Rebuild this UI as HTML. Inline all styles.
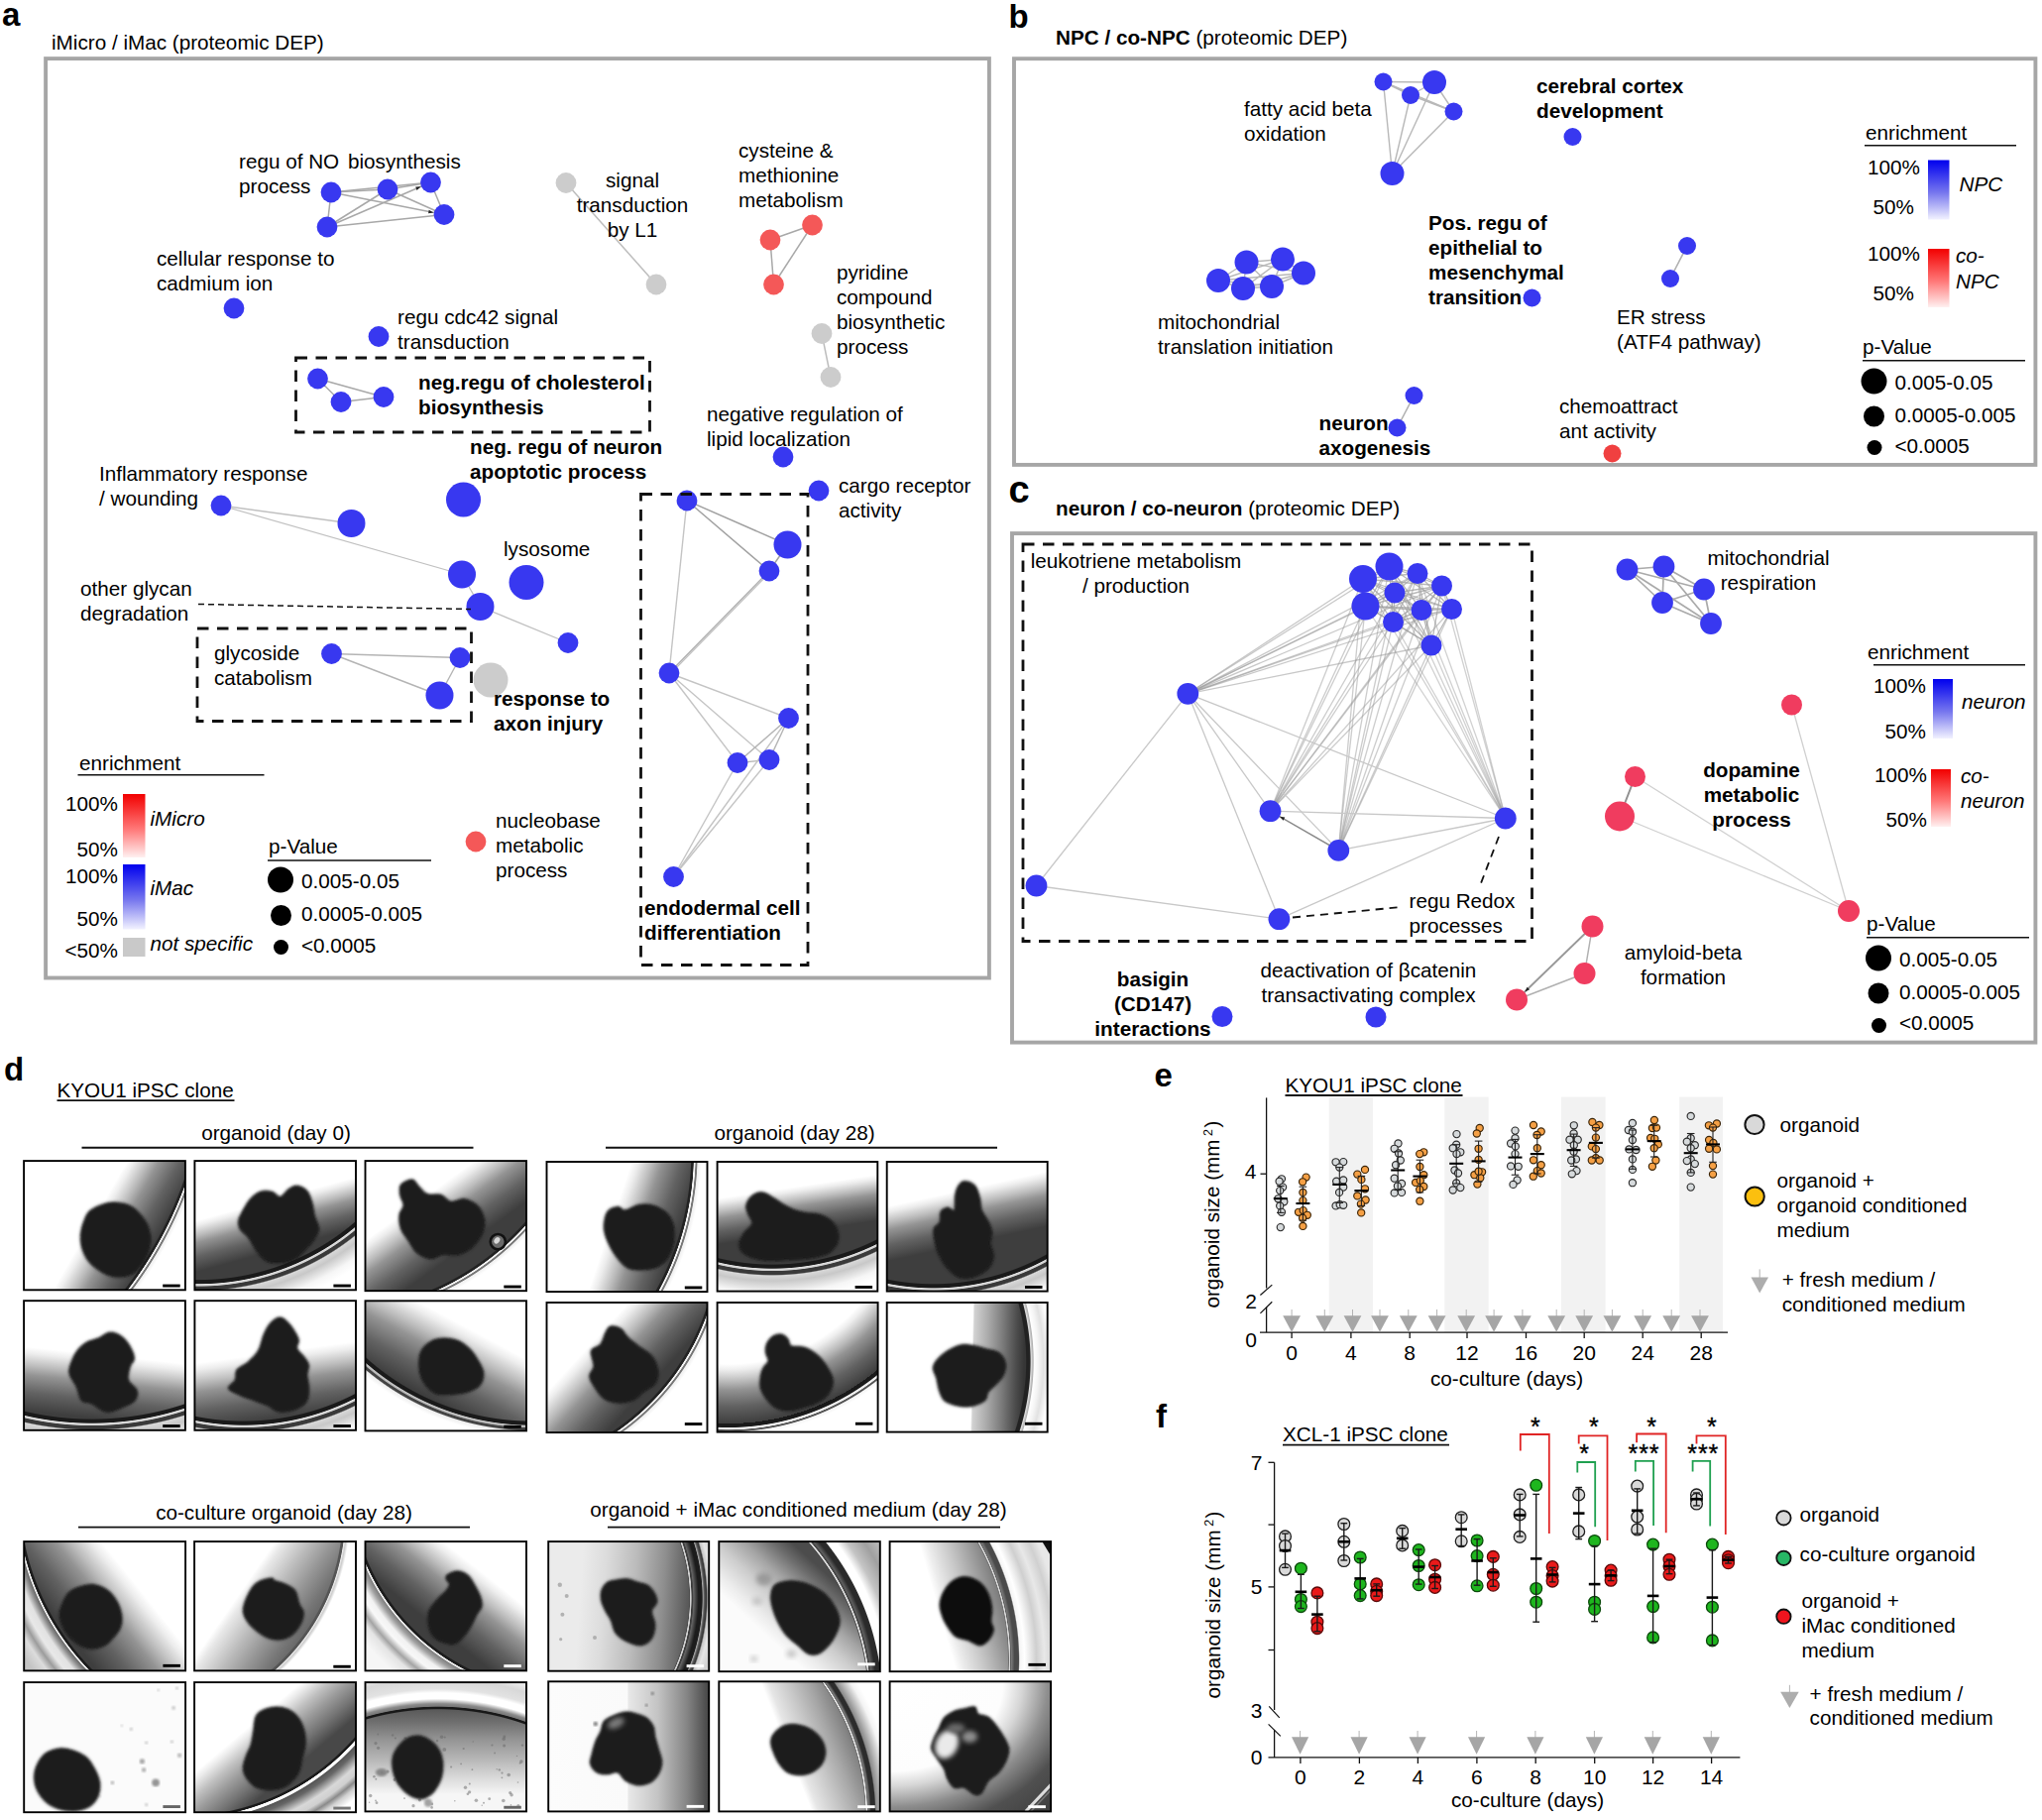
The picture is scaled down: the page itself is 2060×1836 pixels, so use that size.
<!DOCTYPE html>
<html><head><meta charset="utf-8"><title>Figure</title>
<style>
html,body{margin:0;padding:0;background:#fff;}
body{width:2060px;height:1836px;overflow:hidden;}
svg{display:block;font-family:"Liberation Sans",Arial,Helvetica,sans-serif;font-size:20.7px;fill:#000;}
</style></head><body>
<svg width="2060" height="1836" viewBox="0 0 2060 1836">
<defs>
<linearGradient id="gRed" x1="0" y1="0" x2="0" y2="1"><stop offset="0" stop-color="#f20000"/><stop offset="0.55" stop-color="#f77"/><stop offset="1" stop-color="#fff0f0"/></linearGradient>
<linearGradient id="gBlue" x1="0" y1="0" x2="0" y2="1"><stop offset="0" stop-color="#0000ee"/><stop offset="0.55" stop-color="#7777ee"/><stop offset="1" stop-color="#f2f2ff"/></linearGradient>
<filter id="bl" x="-10%" y="-10%" width="120%" height="120%"><feGaussianBlur stdDeviation="0.9"/></filter>
<filter id="bl15" x="-20%" y="-20%" width="140%" height="140%"><feGaussianBlur stdDeviation="1.7"/></filter>
<filter id="bl2" x="-30%" y="-30%" width="160%" height="160%"><feGaussianBlur stdDeviation="2.5"/></filter>
<filter id="bl3" x="-30%" y="-30%" width="160%" height="160%"><feGaussianBlur stdDeviation="5"/></filter>
<clipPath id="c1"><rect x="24.1" y="1171.1" width="162.8" height="130.2"/></clipPath>
<linearGradient id="s1" gradientUnits="userSpaceOnUse" x1="90.8" y1="1236.3" x2="147.7" y2="1269.1"><stop offset="0.000" stop-color="#ffffff"/><stop offset="0.100" stop-color="#ededed"/><stop offset="0.290" stop-color="#bcbcbc"/><stop offset="0.430" stop-color="#949494"/><stop offset="0.710" stop-color="#626262"/><stop offset="1.000" stop-color="#3e3e3e"/></linearGradient>
<radialGradient id="r1" gradientUnits="userSpaceOnUse" cx="-191.1" cy="1057.6" r="411.0"><stop offset="0.97080" stop-color="#222" stop-opacity="0"/><stop offset="0.97324" stop-color="#222"/><stop offset="0.97762" stop-color="#222"/><stop offset="0.97908" stop-color="#f4f4f4"/><stop offset="0.98200" stop-color="#f4f4f4"/><stop offset="0.98346" stop-color="#777"/><stop offset="0.98637" stop-color="#777"/><stop offset="0.98832" stop-color="#f0f0f0"/><stop offset="0.99757" stop-color="#fff"/></radialGradient>
<clipPath id="c2"><rect x="196.4" y="1171.1" width="162.6" height="130.2"/></clipPath>
<linearGradient id="s2" gradientUnits="userSpaceOnUse" x1="276.9" y1="1209.8" x2="290.1" y2="1258.0"><stop offset="0.000" stop-color="#ffffff"/><stop offset="0.100" stop-color="#ededed"/><stop offset="0.290" stop-color="#bcbcbc"/><stop offset="0.430" stop-color="#949494"/><stop offset="0.710" stop-color="#626262"/><stop offset="1.000" stop-color="#3e3e3e"/></linearGradient>
<radialGradient id="r2" gradientUnits="userSpaceOnUse" cx="200.7" cy="1049.9" r="278.7"><stop offset="0.86363" stop-color="#1a1a1a" stop-opacity="0"/><stop offset="0.86722" stop-color="#1a1a1a"/><stop offset="0.87870" stop-color="#1a1a1a"/><stop offset="0.88157" stop-color="#e0e0e0"/><stop offset="0.88731" stop-color="#d0d0d0"/><stop offset="0.89019" stop-color="#3a3a3a"/><stop offset="0.90167" stop-color="#3a3a3a"/><stop offset="0.90598" stop-color="#d8d8d8"/><stop offset="0.92464" stop-color="#c8c8c8"/><stop offset="0.96770" stop-color="#f6f6f6"/><stop offset="0.99641" stop-color="#fff"/></radialGradient>
<clipPath id="c3"><rect x="368.5" y="1171.1" width="162.5" height="131.1"/></clipPath>
<linearGradient id="s3" gradientUnits="userSpaceOnUse" x1="423.0" y1="1211.8" x2="460.8" y2="1263.5"><stop offset="0.000" stop-color="#ffffff"/><stop offset="0.100" stop-color="#ededed"/><stop offset="0.290" stop-color="#bcbcbc"/><stop offset="0.430" stop-color="#949494"/><stop offset="0.710" stop-color="#626262"/><stop offset="1.000" stop-color="#3e3e3e"/></linearGradient>
<radialGradient id="r3" gradientUnits="userSpaceOnUse" cx="331.3" cy="1057.8" r="276.1"><stop offset="0.95653" stop-color="#222" stop-opacity="0"/><stop offset="0.96016" stop-color="#222"/><stop offset="0.96668" stop-color="#222"/><stop offset="0.96885" stop-color="#f4f4f4"/><stop offset="0.97320" stop-color="#f4f4f4"/><stop offset="0.97537" stop-color="#777"/><stop offset="0.97972" stop-color="#777"/><stop offset="0.98261" stop-color="#f0f0f0"/><stop offset="0.99638" stop-color="#fff"/></radialGradient>
<clipPath id="c4"><rect x="551.5" y="1172.0" width="162.0" height="131.1"/></clipPath>
<linearGradient id="s4" gradientUnits="userSpaceOnUse" x1="615.4" y1="1237.1" x2="679.7" y2="1258.6"><stop offset="0.000" stop-color="#ffffff"/><stop offset="0.100" stop-color="#ededed"/><stop offset="0.290" stop-color="#bcbcbc"/><stop offset="0.430" stop-color="#949494"/><stop offset="0.710" stop-color="#626262"/><stop offset="1.000" stop-color="#3e3e3e"/></linearGradient>
<radialGradient id="r4" gradientUnits="userSpaceOnUse" cx="410.3" cy="1163.4" r="298.5"><stop offset="0.95980" stop-color="#222" stop-opacity="0"/><stop offset="0.96315" stop-color="#222"/><stop offset="0.96918" stop-color="#222"/><stop offset="0.97119" stop-color="#f4f4f4"/><stop offset="0.97521" stop-color="#f4f4f4"/><stop offset="0.97722" stop-color="#777"/><stop offset="0.98124" stop-color="#777"/><stop offset="0.98392" stop-color="#f0f0f0"/><stop offset="0.99665" stop-color="#fff"/></radialGradient>
<clipPath id="c5"><rect x="723.6" y="1172.0" width="161.7" height="130.6"/></clipPath>
<linearGradient id="s5" gradientUnits="userSpaceOnUse" x1="804.4" y1="1196.9" x2="811.2" y2="1242.4"><stop offset="0.000" stop-color="#ffffff"/><stop offset="0.100" stop-color="#ededed"/><stop offset="0.290" stop-color="#bcbcbc"/><stop offset="0.430" stop-color="#949494"/><stop offset="0.710" stop-color="#626262"/><stop offset="1.000" stop-color="#3e3e3e"/></linearGradient>
<radialGradient id="r5" gradientUnits="userSpaceOnUse" cx="779.0" cy="1042.1" r="271.0"><stop offset="0.85979" stop-color="#1a1a1a" stop-opacity="0"/><stop offset="0.86348" stop-color="#1a1a1a"/><stop offset="0.87529" stop-color="#1a1a1a"/><stop offset="0.87824" stop-color="#e0e0e0"/><stop offset="0.88415" stop-color="#d0d0d0"/><stop offset="0.88710" stop-color="#3a3a3a"/><stop offset="0.89890" stop-color="#3a3a3a"/><stop offset="0.90333" stop-color="#d8d8d8"/><stop offset="0.92252" stop-color="#c8c8c8"/><stop offset="0.96679" stop-color="#f6f6f6"/><stop offset="0.99631" stop-color="#fff"/></radialGradient>
<clipPath id="c6"><rect x="894.7" y="1172.0" width="162.0" height="130.6"/></clipPath>
<linearGradient id="s6" gradientUnits="userSpaceOnUse" x1="975.7" y1="1199.4" x2="987.3" y2="1252.2"><stop offset="0.000" stop-color="#ffffff"/><stop offset="0.100" stop-color="#ededed"/><stop offset="0.290" stop-color="#bcbcbc"/><stop offset="0.430" stop-color="#949494"/><stop offset="0.710" stop-color="#626262"/><stop offset="1.000" stop-color="#3e3e3e"/></linearGradient>
<radialGradient id="r6" gradientUnits="userSpaceOnUse" cx="941.7" cy="1062.3" r="270.5"><stop offset="0.85950" stop-color="#1a1a1a" stop-opacity="0"/><stop offset="0.86320" stop-color="#1a1a1a"/><stop offset="0.87503" stop-color="#1a1a1a"/><stop offset="0.87799" stop-color="#e0e0e0"/><stop offset="0.88391" stop-color="#d0d0d0"/><stop offset="0.88686" stop-color="#3a3a3a"/><stop offset="0.89869" stop-color="#3a3a3a"/><stop offset="0.90313" stop-color="#d8d8d8"/><stop offset="0.92236" stop-color="#c8c8c8"/><stop offset="0.96672" stop-color="#f6f6f6"/><stop offset="0.99630" stop-color="#fff"/></radialGradient>
<clipPath id="c7"><rect x="24.1" y="1312.2" width="162.8" height="130.6"/></clipPath>
<linearGradient id="s7" gradientUnits="userSpaceOnUse" x1="104.7" y1="1367.0" x2="97.9" y2="1431.1"><stop offset="0.000" stop-color="#ffffff"/><stop offset="0.100" stop-color="#ededed"/><stop offset="0.290" stop-color="#bcbcbc"/><stop offset="0.430" stop-color="#949494"/><stop offset="0.710" stop-color="#626262"/><stop offset="1.000" stop-color="#3e3e3e"/></linearGradient>
<radialGradient id="r7" gradientUnits="userSpaceOnUse" cx="92.6" cy="1136.1" r="333.0"><stop offset="0.88588" stop-color="#1a1a1a" stop-opacity="0"/><stop offset="0.88888" stop-color="#1a1a1a"/><stop offset="0.89849" stop-color="#1a1a1a"/><stop offset="0.90090" stop-color="#e0e0e0"/><stop offset="0.90570" stop-color="#d0d0d0"/><stop offset="0.90810" stop-color="#3a3a3a"/><stop offset="0.91771" stop-color="#3a3a3a"/><stop offset="0.92132" stop-color="#d8d8d8"/><stop offset="0.93693" stop-color="#c8c8c8"/><stop offset="0.97297" stop-color="#f6f6f6"/><stop offset="0.99700" stop-color="#fff"/></radialGradient>
<clipPath id="c8"><rect x="196.4" y="1312.2" width="162.6" height="130.6"/></clipPath>
<linearGradient id="s8" gradientUnits="userSpaceOnUse" x1="276.9" y1="1364.4" x2="286.0" y2="1430.8"><stop offset="0.000" stop-color="#ffffff"/><stop offset="0.100" stop-color="#ededed"/><stop offset="0.290" stop-color="#bcbcbc"/><stop offset="0.430" stop-color="#949494"/><stop offset="0.710" stop-color="#626262"/><stop offset="1.000" stop-color="#3e3e3e"/></linearGradient>
<radialGradient id="r8" gradientUnits="userSpaceOnUse" cx="245.5" cy="1189.1" r="282.0"><stop offset="0.86527" stop-color="#1a1a1a" stop-opacity="0"/><stop offset="0.86882" stop-color="#1a1a1a"/><stop offset="0.88016" stop-color="#1a1a1a"/><stop offset="0.88300" stop-color="#e0e0e0"/><stop offset="0.88867" stop-color="#d0d0d0"/><stop offset="0.89151" stop-color="#3a3a3a"/><stop offset="0.90285" stop-color="#3a3a3a"/><stop offset="0.90711" stop-color="#d8d8d8"/><stop offset="0.92554" stop-color="#c8c8c8"/><stop offset="0.96809" stop-color="#f6f6f6"/><stop offset="0.99645" stop-color="#fff"/></radialGradient>
<clipPath id="c9"><rect x="368.5" y="1312.3" width="162.5" height="131.1"/></clipPath>
<linearGradient id="s9" gradientUnits="userSpaceOnUse" x1="477.0" y1="1342.3" x2="439.2" y2="1412.8"><stop offset="0.000" stop-color="#ffffff"/><stop offset="0.100" stop-color="#ededed"/><stop offset="0.290" stop-color="#bcbcbc"/><stop offset="0.430" stop-color="#949494"/><stop offset="0.710" stop-color="#626262"/><stop offset="1.000" stop-color="#3e3e3e"/></linearGradient>
<radialGradient id="r9" gradientUnits="userSpaceOnUse" cx="536.1" cy="1184.0" r="265.1"><stop offset="0.93965" stop-color="#1a1a1a" stop-opacity="0"/><stop offset="0.94342" stop-color="#1a1a1a"/><stop offset="0.95549" stop-color="#1a1a1a"/><stop offset="0.95851" stop-color="#c8c8c8"/><stop offset="0.96454" stop-color="#b0b0b0"/><stop offset="0.96756" stop-color="#444"/><stop offset="0.97510" stop-color="#444"/><stop offset="0.97888" stop-color="#eee"/><stop offset="0.99623" stop-color="#fff"/></radialGradient>
<clipPath id="c10"><rect x="551.5" y="1314.0" width="162.0" height="131.1"/></clipPath>
<linearGradient id="s10" gradientUnits="userSpaceOnUse" x1="592.7" y1="1359.4" x2="645.8" y2="1408.0"><stop offset="0.000" stop-color="#ffffff"/><stop offset="0.100" stop-color="#ededed"/><stop offset="0.290" stop-color="#bcbcbc"/><stop offset="0.430" stop-color="#949494"/><stop offset="0.710" stop-color="#626262"/><stop offset="1.000" stop-color="#3e3e3e"/></linearGradient>
<radialGradient id="r10" gradientUnits="userSpaceOnUse" cx="483.6" cy="1243.4" r="252.9"><stop offset="0.95255" stop-color="#222" stop-opacity="0"/><stop offset="0.95651" stop-color="#222"/><stop offset="0.96362" stop-color="#222"/><stop offset="0.96600" stop-color="#f4f4f4"/><stop offset="0.97074" stop-color="#f4f4f4"/><stop offset="0.97311" stop-color="#777"/><stop offset="0.97786" stop-color="#777"/><stop offset="0.98102" stop-color="#f0f0f0"/><stop offset="0.99605" stop-color="#fff"/></radialGradient>
<clipPath id="c11"><rect x="723.6" y="1314.0" width="162.0" height="130.6"/></clipPath>
<radialGradient id="r11" gradientUnits="userSpaceOnUse" cx="735.0" cy="1200.8" r="248.2"><stop offset="0.70584" stop-color="#ffffff"/><stop offset="0.73002" stop-color="#ededed"/><stop offset="0.77595" stop-color="#bcbcbc"/><stop offset="0.80980" stop-color="#949494"/><stop offset="0.87750" stop-color="#626262"/><stop offset="0.94762" stop-color="#3e3e3e"/><stop offset="0.94762" stop-color="#1a1a1a"/><stop offset="0.96212" stop-color="#1a1a1a"/><stop offset="0.96535" stop-color="#f0f0f0"/><stop offset="0.97179" stop-color="#f0f0f0"/><stop offset="0.97421" stop-color="#555"/><stop offset="0.97905" stop-color="#555"/><stop offset="0.98227" stop-color="#f4f4f4"/><stop offset="0.99597" stop-color="#fff"/></radialGradient>
<clipPath id="c12"><rect x="894.7" y="1314.0" width="162.0" height="130.6"/></clipPath>
<linearGradient id="s12" gradientUnits="userSpaceOnUse" x1="980.4" y1="1379.1" x2="1033.0" y2="1380.2"><stop offset="0.000" stop-color="#ffffff"/><stop offset="0.030" stop-color="#d2d2d2"/><stop offset="0.300" stop-color="#aaaaaa"/><stop offset="0.600" stop-color="#787878"/><stop offset="0.850" stop-color="#4c4c4c"/><stop offset="1.000" stop-color="#363636"/></linearGradient>
<radialGradient id="r12" gradientUnits="userSpaceOnUse" cx="810.5" cy="1373.4" r="250.2"><stop offset="0.89610" stop-color="#222" stop-opacity="0"/><stop offset="0.90009" stop-color="#222"/><stop offset="0.91368" stop-color="#222"/><stop offset="0.91768" stop-color="#e0e0e0"/><stop offset="0.92607" stop-color="#b0b0b0"/><stop offset="0.93006" stop-color="#fff"/><stop offset="0.94805" stop-color="#f4f4f4"/><stop offset="0.96803" stop-color="#e2e2e2"/><stop offset="0.99600" stop-color="#fff"/></radialGradient>
<clipPath id="c13"><rect x="24.2" y="1555.1" width="162.9" height="130.3"/></clipPath>
<linearGradient id="s13" gradientUnits="userSpaceOnUse" x1="144.9" y1="1608.3" x2="78.9" y2="1661.2"><stop offset="0.000" stop-color="#ffffff"/><stop offset="0.100" stop-color="#ededed"/><stop offset="0.290" stop-color="#bcbcbc"/><stop offset="0.430" stop-color="#949494"/><stop offset="0.710" stop-color="#626262"/><stop offset="1.000" stop-color="#3e3e3e"/></linearGradient>
<radialGradient id="r13" gradientUnits="userSpaceOnUse" cx="274.0" cy="1505.3" r="300.9"><stop offset="0.84378" stop-color="#1c1c1c" stop-opacity="0"/><stop offset="0.84711" stop-color="#1c1c1c"/><stop offset="0.85309" stop-color="#1c1c1c"/><stop offset="0.85508" stop-color="#f0f0f0"/><stop offset="0.85841" stop-color="#f0f0f0"/><stop offset="0.86107" stop-color="#6a6a6a"/><stop offset="0.87037" stop-color="#8a8a8a"/><stop offset="0.89032" stop-color="#e2e2e2"/><stop offset="0.91358" stop-color="#e8e8e8"/><stop offset="0.93685" stop-color="#9c9c9c"/><stop offset="0.96011" stop-color="#dcdcdc"/><stop offset="0.99668" stop-color="#c4c4c4"/></radialGradient>
<clipPath id="c14"><rect x="196.1" y="1555.1" width="162.9" height="130.3"/></clipPath>
<linearGradient id="s14" gradientUnits="userSpaceOnUse" x1="237.7" y1="1613.0" x2="299.9" y2="1656.0"><stop offset="0.000" stop-color="#ffffff"/><stop offset="0.100" stop-color="#e8e8e8"/><stop offset="0.380" stop-color="#bcbcbc"/><stop offset="0.640" stop-color="#969696"/><stop offset="0.880" stop-color="#767676"/><stop offset="1.000" stop-color="#6a6a6a"/></linearGradient>
<radialGradient id="r14" gradientUnits="userSpaceOnUse" cx="137.8" cy="1527.2" r="216.4"><stop offset="0.95841" stop-color="#555" stop-opacity="0"/><stop offset="0.96303" stop-color="#555"/><stop offset="0.97135" stop-color="#555"/><stop offset="0.97504" stop-color="#eee"/><stop offset="0.98244" stop-color="#ccc"/><stop offset="0.99538" stop-color="#fff"/></radialGradient>
<clipPath id="c15"><rect x="368.5" y="1555.1" width="162.5" height="130.3"/></clipPath>
<linearGradient id="s15" gradientUnits="userSpaceOnUse" x1="489.8" y1="1589.0" x2="445.1" y2="1645.4"><stop offset="0.000" stop-color="#ffffff"/><stop offset="0.100" stop-color="#ededed"/><stop offset="0.290" stop-color="#bcbcbc"/><stop offset="0.430" stop-color="#949494"/><stop offset="0.710" stop-color="#626262"/><stop offset="1.000" stop-color="#3e3e3e"/></linearGradient>
<radialGradient id="r15" gradientUnits="userSpaceOnUse" cx="568.7" cy="1490.9" r="261.5"><stop offset="0.82029" stop-color="#1c1c1c" stop-opacity="0"/><stop offset="0.82411" stop-color="#1c1c1c"/><stop offset="0.83100" stop-color="#1c1c1c"/><stop offset="0.83329" stop-color="#f0f0f0"/><stop offset="0.83711" stop-color="#f0f0f0"/><stop offset="0.84017" stop-color="#808080"/><stop offset="0.85470" stop-color="#a0a0a0"/><stop offset="0.87764" stop-color="#f2f2f2"/><stop offset="0.90059" stop-color="#f8f8f8"/><stop offset="0.92735" stop-color="#a4a4a4"/><stop offset="0.95029" stop-color="#e4e4e4"/><stop offset="0.99618" stop-color="#f6f6f6"/></radialGradient>
<clipPath id="c16"><rect x="553.2" y="1555.1" width="162.0" height="130.6"/></clipPath>
<linearGradient id="s16" gradientUnits="userSpaceOnUse" x1="584.5" y1="1620.7" x2="703.9" y2="1628.6"><stop offset="0.000" stop-color="#ebebeb"/><stop offset="0.200" stop-color="#dcdcdc"/><stop offset="0.450" stop-color="#bcbcbc"/><stop offset="0.700" stop-color="#8e8e8e"/><stop offset="0.900" stop-color="#5c5c5c"/><stop offset="1.000" stop-color="#484848"/></linearGradient>
<radialGradient id="r16" gradientUnits="userSpaceOnUse" cx="523.5" cy="1612.3" r="210.2"><stop offset="0.81442" stop-color="#484848" stop-opacity="0"/><stop offset="0.81918" stop-color="#484848"/><stop offset="0.82204" stop-color="#d0d0d0"/><stop offset="0.82680" stop-color="#d0d0d0"/><stop offset="0.82965" stop-color="#3a3a3a"/><stop offset="0.83536" stop-color="#444"/><stop offset="0.83822" stop-color="#666"/><stop offset="0.86201" stop-color="#1c1c1c"/><stop offset="0.87914" stop-color="#1c1c1c"/><stop offset="0.88294" stop-color="#aaa"/><stop offset="0.89056" stop-color="#555"/><stop offset="0.90007" stop-color="#333"/><stop offset="0.90674" stop-color="#c8c8c8"/><stop offset="0.92387" stop-color="#e6e6e6"/><stop offset="0.95717" stop-color="#cfcfcf"/><stop offset="0.99524" stop-color="#e0e0e0"/></radialGradient>
<clipPath id="c17"><rect x="725.3" y="1555.1" width="162.5" height="131.1"/></clipPath>
<linearGradient id="s17" gradientUnits="userSpaceOnUse" x1="769.1" y1="1646.0" x2="827.7" y2="1582.3"><stop offset="0.000" stop-color="#fbfbfb"/><stop offset="0.150" stop-color="#ececec"/><stop offset="0.400" stop-color="#cccccc"/><stop offset="0.620" stop-color="#a4a4a4"/><stop offset="0.850" stop-color="#6c6c6c"/><stop offset="1.000" stop-color="#4c4c4c"/></linearGradient>
<radialGradient id="r17" gradientUnits="userSpaceOnUse" cx="633.2" cy="1717.1" r="312.8"><stop offset="0.77459" stop-color="#484848" stop-opacity="0"/><stop offset="0.77779" stop-color="#484848"/><stop offset="0.78003" stop-color="#dedede"/><stop offset="0.78323" stop-color="#dedede"/><stop offset="0.78514" stop-color="#444"/><stop offset="0.78898" stop-color="#4a4a4a"/><stop offset="0.79090" stop-color="#606060"/><stop offset="0.80497" stop-color="#2a2a2a"/><stop offset="0.81968" stop-color="#2a2a2a"/><stop offset="0.82287" stop-color="#fff"/><stop offset="0.84653" stop-color="#fff"/><stop offset="0.87531" stop-color="#c4c4c4"/><stop offset="0.92007" stop-color="#a0a0a0"/><stop offset="0.99680" stop-color="#d4d4d4"/></radialGradient>
<clipPath id="c18"><rect x="897.6" y="1555.1" width="162.5" height="131.1"/></clipPath>
<linearGradient id="s18" gradientUnits="userSpaceOnUse" x1="945.7" y1="1620.7" x2="1011.9" y2="1601.4"><stop offset="0.000" stop-color="#ffffff"/><stop offset="0.120" stop-color="#ececec"/><stop offset="0.400" stop-color="#c8c8c8"/><stop offset="0.650" stop-color="#a4a4a4"/><stop offset="0.880" stop-color="#828282"/><stop offset="1.000" stop-color="#707070"/></linearGradient>
<radialGradient id="r18" gradientUnits="userSpaceOnUse" cx="776.9" cy="1674.5" r="295.6"><stop offset="0.81057" stop-color="#707070" stop-opacity="0"/><stop offset="0.81395" stop-color="#707070"/><stop offset="0.81598" stop-color="#d8d8d8"/><stop offset="0.81868" stop-color="#d8d8d8"/><stop offset="0.82071" stop-color="#5a5a5a"/><stop offset="0.82410" stop-color="#777"/><stop offset="0.83425" stop-color="#4a4a4a"/><stop offset="0.84778" stop-color="#4a4a4a"/><stop offset="0.85184" stop-color="#f4f4f4"/><stop offset="0.86807" stop-color="#fff"/><stop offset="0.88499" stop-color="#ececec"/><stop offset="0.90867" stop-color="#cfcfcf"/><stop offset="0.93573" stop-color="#e8e8e8"/><stop offset="0.96956" stop-color="#d0d0d0"/><stop offset="0.99662" stop-color="#e8e8e8"/></radialGradient>
<clipPath id="c19"><rect x="24.2" y="1697.1" width="162.9" height="131.1"/></clipPath>
<clipPath id="c20"><rect x="196.1" y="1697.1" width="162.9" height="131.1"/></clipPath>
<linearGradient id="s20" gradientUnits="userSpaceOnUse" x1="249.7" y1="1743.0" x2="289.7" y2="1790.3"><stop offset="0.000" stop-color="#ffffff"/><stop offset="0.100" stop-color="#ececec"/><stop offset="0.300" stop-color="#c0c0c0"/><stop offset="0.500" stop-color="#9c9c9c"/><stop offset="0.750" stop-color="#747474"/><stop offset="1.000" stop-color="#484848"/></linearGradient>
<radialGradient id="r20" gradientUnits="userSpaceOnUse" cx="183.1" cy="1600.3" r="277.3"><stop offset="0.83414" stop-color="#1a1a1a" stop-opacity="0"/><stop offset="0.83774" stop-color="#1a1a1a"/><stop offset="0.84351" stop-color="#1a1a1a"/><stop offset="0.84567" stop-color="#fff"/><stop offset="0.85433" stop-color="#fff"/><stop offset="0.85721" stop-color="#555"/><stop offset="0.87380" stop-color="#666"/><stop offset="0.90986" stop-color="#d8d8d8"/><stop offset="0.93149" stop-color="#d0d0d0"/><stop offset="0.94952" stop-color="#8a8a8a"/><stop offset="0.96755" stop-color="#d0d0d0"/><stop offset="0.99639" stop-color="#fff"/></radialGradient>
<clipPath id="c21"><rect x="368.5" y="1697.1" width="162.5" height="130.3"/></clipPath>
<linearGradient id="s21" gradientUnits="userSpaceOnUse" x1="449.7" y1="1810.3" x2="449.7" y2="1723.7"><stop offset="0.000" stop-color="#f6f6f6"/><stop offset="0.180" stop-color="#dcdcdc"/><stop offset="0.400" stop-color="#b8b8b8"/><stop offset="0.640" stop-color="#949494"/><stop offset="0.850" stop-color="#6e6e6e"/><stop offset="1.000" stop-color="#585858"/></linearGradient>
<radialGradient id="r21" gradientUnits="userSpaceOnUse" cx="442.0" cy="1984.7" r="298.0"><stop offset="0.87249" stop-color="#181818" stop-opacity="0"/><stop offset="0.87585" stop-color="#181818"/><stop offset="0.88121" stop-color="#181818"/><stop offset="0.88390" stop-color="#777"/><stop offset="0.89262" stop-color="#8a8a8a"/><stop offset="0.90269" stop-color="#d0d0d0"/><stop offset="0.90940" stop-color="#fff"/><stop offset="0.92953" stop-color="#fff"/><stop offset="0.94296" stop-color="#e2e2e2"/><stop offset="0.97651" stop-color="#d8d8d8"/><stop offset="0.99664" stop-color="#e8e8e8"/></radialGradient>
<linearGradient id="lg41" gradientUnits="userSpaceOnUse" x1="552.8" y1="0" x2="715.7" y2="0"><stop offset="0" stop-color="#fcfcfc"/><stop offset="0.49" stop-color="#fafafa"/><stop offset="0.5" stop-color="#e8e8e8"/><stop offset="0.68" stop-color="#c4c4c4"/><stop offset="0.86" stop-color="#858585"/><stop offset="1" stop-color="#444"/></linearGradient>
<clipPath id="c22"><rect x="553.2" y="1696.3" width="162.0" height="131.1"/></clipPath>
<clipPath id="c23"><rect x="725.3" y="1696.3" width="162.5" height="131.1"/></clipPath>
<linearGradient id="s23" gradientUnits="userSpaceOnUse" x1="793.1" y1="1762.3" x2="858.2" y2="1736.6"><stop offset="0.000" stop-color="#ffffff"/><stop offset="0.100" stop-color="#e6e6e6"/><stop offset="0.380" stop-color="#c6c6c6"/><stop offset="0.640" stop-color="#a6a6a6"/><stop offset="0.880" stop-color="#848484"/><stop offset="1.000" stop-color="#6c6c6c"/></linearGradient>
<radialGradient id="r23" gradientUnits="userSpaceOnUse" cx="642.9" cy="1832.5" r="261.0"><stop offset="0.87933" stop-color="#6c6c6c" stop-opacity="0"/><stop offset="0.88316" stop-color="#6c6c6c"/><stop offset="0.88507" stop-color="#eee"/><stop offset="0.88814" stop-color="#eee"/><stop offset="0.89044" stop-color="#6a6a6a"/><stop offset="0.89503" stop-color="#777"/><stop offset="0.90423" stop-color="#2c2c2c"/><stop offset="0.91879" stop-color="#2c2c2c"/><stop offset="0.92338" stop-color="#8a8a8a"/><stop offset="0.94254" stop-color="#b4b4b4"/><stop offset="0.97318" stop-color="#f4f4f4"/><stop offset="0.99617" stop-color="#fff"/></radialGradient>
<radialGradient id="rg43" gradientUnits="userSpaceOnUse" cx="0" cy="0" r="1" gradientTransform="translate(897.7 1698.0) scale(228 178)"><stop offset="0" stop-color="#fff"/><stop offset="0.5" stop-color="#fdfdfd"/><stop offset="0.585" stop-color="#d6d6d6"/><stop offset="0.7" stop-color="#8e8e8e"/><stop offset="0.84" stop-color="#505050"/><stop offset="1" stop-color="#404040"/></radialGradient>
<clipPath id="c24"><rect x="897.6" y="1696.3" width="162.5" height="131.1"/></clipPath>
</defs>
<rect width="2060" height="1836" fill="#fff"/>
<g id="panelA">
<text x="2" y="26" font-weight="bold" font-size="33">a</text>
<text x="52" y="50">iMicro / iMac (proteomic DEP)</text>
<rect x="46.1" y="59.1" width="951.8" height="927.4" fill="none" stroke="#a6a6a6" stroke-width="3.9"/>
<line x1="334" y1="194" x2="391" y2="191" stroke="#a8a8a8" stroke-width="1.5"/>
<line x1="391" y1="191" x2="434.5" y2="184" stroke="#a8a8a8" stroke-width="1.5"/>
<line x1="334" y1="194" x2="448" y2="216.5" stroke="#a8a8a8" stroke-width="1.5"/>
<line x1="330" y1="229" x2="391" y2="191" stroke="#a8a8a8" stroke-width="1.5"/>
<line x1="330" y1="229" x2="434.5" y2="184" stroke="#a8a8a8" stroke-width="1.5"/>
<line x1="330" y1="229" x2="448" y2="216.5" stroke="#a8a8a8" stroke-width="1.5"/>
<line x1="391" y1="191" x2="448" y2="216.5" stroke="#a8a8a8" stroke-width="1.5"/>
<line x1="434.5" y1="184" x2="448" y2="216.5" stroke="#a8a8a8" stroke-width="1.5"/>
<line x1="334" y1="194" x2="330" y2="229" stroke="#a8a8a8" stroke-width="1.5"/>
<line x1="334" y1="194" x2="434.5" y2="184" stroke="#a8a8a8" stroke-width="1.5"/>
<polygon points="424.5,188.3 420.6,191.9 419.2,188.6" fill="#222"/>
<polygon points="437.3,214.4 432.1,215.2 432.7,211.7" fill="#222"/>
<circle cx="334" cy="194" r="10.4" fill="#3838f0"/>
<circle cx="391" cy="191" r="10.4" fill="#3838f0"/>
<circle cx="434.5" cy="184" r="10.4" fill="#3838f0"/>
<circle cx="448" cy="216.5" r="10.4" fill="#3838f0"/>
<circle cx="330" cy="229" r="10.4" fill="#3838f0"/>
<circle cx="236" cy="311" r="10.4" fill="#3838f0"/>
<circle cx="382" cy="339.5" r="10.4" fill="#3838f0"/>
<line x1="320.5" y1="382" x2="387" y2="400.5" stroke="#a8a8a8" stroke-width="1.5"/>
<line x1="344" y1="405.5" x2="387" y2="400.5" stroke="#a8a8a8" stroke-width="1.5"/>
<line x1="320.5" y1="382" x2="344" y2="405.5" stroke="#a8a8a8" stroke-width="1.5"/>
<circle cx="320.5" cy="382" r="10.4" fill="#3838f0"/>
<circle cx="344" cy="405.5" r="10.4" fill="#3838f0"/>
<circle cx="387" cy="400.5" r="10.4" fill="#3838f0"/>
<line x1="571" y1="184.5" x2="662" y2="287" stroke="#bdbdbd" stroke-width="1.5"/>
<circle cx="571" cy="184.5" r="10.4" fill="#cccccc"/>
<circle cx="662" cy="287" r="10.4" fill="#cccccc"/>
<line x1="777" y1="242" x2="819.5" y2="227" stroke="#a8a8a8" stroke-width="1.5"/>
<line x1="777" y1="242" x2="780.5" y2="287" stroke="#a8a8a8" stroke-width="1.5"/>
<line x1="819.5" y1="227" x2="780.5" y2="287" stroke="#a8a8a8" stroke-width="1.5"/>
<circle cx="777" cy="242" r="10.4" fill="#f45858"/>
<circle cx="819.5" cy="227" r="10.4" fill="#f45858"/>
<circle cx="780.5" cy="287" r="10.4" fill="#f45858"/>
<line x1="829" y1="336.5" x2="838" y2="380.5" stroke="#bdbdbd" stroke-width="1.5"/>
<circle cx="829" cy="336.5" r="10.4" fill="#cccccc"/>
<circle cx="838" cy="380.5" r="10.4" fill="#cccccc"/>
<circle cx="790" cy="461" r="10.4" fill="#3838f0"/>
<circle cx="826" cy="495" r="10.4" fill="#3838f0"/>
<line x1="223" y1="510" x2="354.5" y2="528" stroke="#c0c0c0" stroke-width="1.3"/>
<line x1="223" y1="510" x2="466" y2="579.5" stroke="#c0c0c0" stroke-width="1.3"/>
<line x1="466" y1="579.5" x2="484.5" y2="612" stroke="#c0c0c0" stroke-width="1.3"/>
<line x1="484.5" y1="612" x2="573" y2="648.5" stroke="#c0c0c0" stroke-width="1.3"/>
<circle cx="223" cy="510" r="10.4" fill="#3838f0"/>
<circle cx="354.5" cy="528" r="14" fill="#3838f0"/>
<circle cx="466" cy="579.5" r="14" fill="#3838f0"/>
<circle cx="484.5" cy="612" r="14" fill="#3838f0"/>
<circle cx="573" cy="648.5" r="10.4" fill="#3838f0"/>
<circle cx="467.5" cy="504" r="17.5" fill="#3838f0"/>
<circle cx="531" cy="587.5" r="17.5" fill="#3838f0"/>
<line x1="200" y1="609.5" x2="475" y2="614.5" stroke="#111" stroke-width="1.5" stroke-dasharray="6 4"/>
<line x1="334.5" y1="659.5" x2="464" y2="663.5" stroke="#b4b4b4" stroke-width="1.4"/>
<line x1="334.5" y1="659.5" x2="443.5" y2="701.5" stroke="#b4b4b4" stroke-width="1.4"/>
<line x1="464" y1="663.5" x2="443.5" y2="701.5" stroke="#b4b4b4" stroke-width="1.4"/>
<circle cx="495" cy="686" r="17.5" fill="#cccccc"/>
<circle cx="334.5" cy="659.5" r="10.4" fill="#3838f0"/>
<circle cx="464" cy="663.5" r="10.4" fill="#3838f0"/>
<circle cx="443.5" cy="701.5" r="14" fill="#3838f0"/>
<line x1="693" y1="505" x2="794.5" y2="549.5" stroke="#a0a0a0" stroke-width="1.4"/>
<line x1="693" y1="505" x2="776" y2="576" stroke="#a0a0a0" stroke-width="1.4"/>
<line x1="693" y1="505" x2="675" y2="679" stroke="#c4c4c4" stroke-width="1.4"/>
<line x1="794.5" y1="549.5" x2="776" y2="576" stroke="#a0a0a0" stroke-width="1.4"/>
<line x1="776" y1="576" x2="675" y2="679" stroke="#b0b0b0" stroke-width="1.4"/>
<line x1="675" y1="679" x2="795.5" y2="724.5" stroke="#c4c4c4" stroke-width="1.4"/>
<line x1="675" y1="679" x2="744" y2="769.5" stroke="#c4c4c4" stroke-width="1.4"/>
<line x1="675" y1="679" x2="776" y2="766.5" stroke="#c4c4c4" stroke-width="1.4"/>
<line x1="795.5" y1="724.5" x2="744" y2="769.5" stroke="#b4b4b4" stroke-width="1.4"/>
<line x1="795.5" y1="724.5" x2="776" y2="766.5" stroke="#b4b4b4" stroke-width="1.4"/>
<line x1="744" y1="769.5" x2="776" y2="766.5" stroke="#b4b4b4" stroke-width="1.4"/>
<line x1="679.5" y1="884.5" x2="795.5" y2="724.5" stroke="#c4c4c4" stroke-width="1.4"/>
<line x1="679.5" y1="884.5" x2="744" y2="769.5" stroke="#c4c4c4" stroke-width="1.4"/>
<line x1="679.5" y1="884.5" x2="776" y2="766.5" stroke="#c4c4c4" stroke-width="1.4"/>
<line x1="677" y1="679" x2="778" y2="576" stroke="#c0c0c0" stroke-width="1.2"/>
<circle cx="693" cy="505" r="10.4" fill="#3838f0"/>
<circle cx="794.5" cy="549.5" r="14" fill="#3838f0"/>
<circle cx="776" cy="576" r="10.4" fill="#3838f0"/>
<circle cx="675" cy="679" r="10.4" fill="#3838f0"/>
<circle cx="795.5" cy="724.5" r="10.4" fill="#3838f0"/>
<circle cx="744" cy="769.5" r="10.4" fill="#3838f0"/>
<circle cx="776" cy="766.5" r="10.4" fill="#3838f0"/>
<circle cx="679.5" cy="884.5" r="10.4" fill="#3838f0"/>
<circle cx="480" cy="849" r="10.4" fill="#f45858"/>
<rect x="298.5" y="361" width="357.0" height="75" fill="none" stroke="#111" stroke-width="2.8" stroke-dasharray="11.5 8.5"/>
<rect x="199" y="634" width="276.5" height="93.5" fill="none" stroke="#111" stroke-width="2.8" stroke-dasharray="11.5 8.5"/>
<rect x="646.5" y="498.5" width="168.5" height="475.0" fill="none" stroke="#111" stroke-width="2.8" stroke-dasharray="11.5 8.5"/>
<text x="241" y="170">regu of NO <tspan dx="3">biosynthesis</tspan></text>
<text x="241" y="195">process</text>
<text x="158" y="268">cellular response to</text>
<text x="158" y="293">cadmium ion</text>
<text x="401" y="327">regu cdc42 signal</text>
<text x="401" y="352">transduction</text>
<text x="422" y="393" font-weight="bold">neg.regu of cholesterol</text>
<text x="422" y="418" font-weight="bold">biosynthesis</text>
<text x="638" y="189" text-anchor="middle">signal</text>
<text x="638" y="214" text-anchor="middle">transduction</text>
<text x="638" y="239" text-anchor="middle">by L1</text>
<text x="745" y="159">cysteine &amp;</text>
<text x="745" y="184">methionine</text>
<text x="745" y="209">metabolism</text>
<text x="844" y="282">pyridine</text>
<text x="844" y="307">compound</text>
<text x="844" y="332">biosynthetic</text>
<text x="844" y="357">process</text>
<text x="713" y="425">negative regulation of</text>
<text x="713" y="450">lipid localization</text>
<text x="474" y="458" font-weight="bold">neg. regu of neuron</text>
<text x="474" y="483" font-weight="bold">apoptotic process</text>
<text x="100" y="485">Inflammatory response</text>
<text x="100" y="510">/ wounding</text>
<text x="846" y="497">cargo receptor</text>
<text x="846" y="522">activity</text>
<text x="508" y="561">lysosome</text>
<text x="81" y="601">other glycan</text>
<text x="81" y="626">degradation</text>
<text x="216" y="666">glycoside</text>
<text x="216" y="691">catabolism</text>
<text x="498" y="712" font-weight="bold">response to</text>
<text x="498" y="737" font-weight="bold">axon injury</text>
<text x="500" y="835">nucleobase</text>
<text x="500" y="860">metabolic</text>
<text x="500" y="885">process</text>
<text x="650" y="922.5" font-weight="bold">endodermal cell</text>
<text x="650" y="947.5" font-weight="bold">differentiation</text>
<text x="80" y="776.5">enrichment</text>
<line x1="78.5" y1="781.8" x2="266.5" y2="781.8" stroke="#111" stroke-width="1.6"/>
<rect x="124" y="801" width="22.5" height="64" fill="url(#gRed)"/>
<rect x="124" y="872" width="22.5" height="65.5" fill="url(#gBlue)"/>
<rect x="124" y="946" width="22.5" height="19" fill="#c9c9c9"/>
<text x="119" y="818" text-anchor="end">100%</text>
<text x="119" y="863.5" text-anchor="end">50%</text>
<text x="119" y="891" text-anchor="end">100%</text>
<text x="119" y="933.5" text-anchor="end">50%</text>
<text x="119" y="966" text-anchor="end">&lt;50%</text>
<text x="151.5" y="833" font-style="italic">iMicro</text>
<text x="151.5" y="903" font-style="italic">iMac</text>
<text x="151.5" y="959" font-style="italic">not specific</text>
<text x="271" y="861">p-Value</text>
<line x1="270" y1="868" x2="435" y2="868" stroke="#111" stroke-width="1.6"/>
<circle cx="283" cy="887.5" r="13" fill="#000"/>
<circle cx="283.5" cy="923.5" r="10.5" fill="#000"/>
<circle cx="283.5" cy="955.5" r="7.5" fill="#000"/>
<text x="304" y="895.5">0.005-0.05</text>
<text x="304" y="928.5">0.0005-0.005</text>
<text x="304" y="960.5">&lt;0.0005</text>
</g>
<g id="panelB">
<text x="1017.5" y="27.7" font-weight="bold" font-size="33">b</text>
<text x="1065" y="45"><tspan font-weight="bold">NPC / co-NPC</tspan> (proteomic DEP)</text>
<rect x="1023" y="59.2" width="1030.4" height="409.7" fill="none" stroke="#a6a6a6" stroke-width="3.9"/>
<line x1="1395.5" y1="82.5" x2="1447" y2="83" stroke="#b8b8b8" stroke-width="1.4"/>
<line x1="1395.5" y1="82.5" x2="1423" y2="96" stroke="#b8b8b8" stroke-width="1.4"/>
<line x1="1395.5" y1="82.5" x2="1466.5" y2="112.5" stroke="#b8b8b8" stroke-width="1.4"/>
<line x1="1395.5" y1="82.5" x2="1404.5" y2="175" stroke="#b8b8b8" stroke-width="1.4"/>
<line x1="1447" y1="83" x2="1423" y2="96" stroke="#b8b8b8" stroke-width="1.4"/>
<line x1="1447" y1="83" x2="1466.5" y2="112.5" stroke="#b8b8b8" stroke-width="1.4"/>
<line x1="1447" y1="83" x2="1404.5" y2="175" stroke="#b8b8b8" stroke-width="1.4"/>
<line x1="1423" y1="96" x2="1466.5" y2="112.5" stroke="#b8b8b8" stroke-width="1.4"/>
<line x1="1423" y1="96" x2="1404.5" y2="175" stroke="#b8b8b8" stroke-width="1.4"/>
<line x1="1466.5" y1="112.5" x2="1404.5" y2="175" stroke="#b8b8b8" stroke-width="1.4"/>
<circle cx="1395.5" cy="82.5" r="9" fill="#3838f0"/>
<circle cx="1447" cy="83" r="12" fill="#3838f0"/>
<circle cx="1423" cy="96" r="9" fill="#3838f0"/>
<circle cx="1466.5" cy="112.5" r="9" fill="#3838f0"/>
<circle cx="1404.5" cy="175" r="12" fill="#3838f0"/>
<circle cx="1586.5" cy="138" r="9" fill="#3838f0"/>
<line x1="1229" y1="283" x2="1257.5" y2="264.5" stroke="#b8b8b8" stroke-width="1.4"/>
<line x1="1229" y1="283" x2="1294" y2="261.5" stroke="#b8b8b8" stroke-width="1.4"/>
<line x1="1229" y1="283" x2="1315" y2="275.5" stroke="#b8b8b8" stroke-width="1.4"/>
<line x1="1229" y1="283" x2="1254" y2="291" stroke="#b8b8b8" stroke-width="1.4"/>
<line x1="1229" y1="283" x2="1283" y2="289" stroke="#b8b8b8" stroke-width="1.4"/>
<line x1="1257.5" y1="264.5" x2="1294" y2="261.5" stroke="#b8b8b8" stroke-width="1.4"/>
<line x1="1257.5" y1="264.5" x2="1315" y2="275.5" stroke="#b8b8b8" stroke-width="1.4"/>
<line x1="1257.5" y1="264.5" x2="1254" y2="291" stroke="#b8b8b8" stroke-width="1.4"/>
<line x1="1257.5" y1="264.5" x2="1283" y2="289" stroke="#b8b8b8" stroke-width="1.4"/>
<line x1="1294" y1="261.5" x2="1315" y2="275.5" stroke="#b8b8b8" stroke-width="1.4"/>
<line x1="1294" y1="261.5" x2="1254" y2="291" stroke="#b8b8b8" stroke-width="1.4"/>
<line x1="1294" y1="261.5" x2="1283" y2="289" stroke="#b8b8b8" stroke-width="1.4"/>
<line x1="1315" y1="275.5" x2="1254" y2="291" stroke="#b8b8b8" stroke-width="1.4"/>
<line x1="1315" y1="275.5" x2="1283" y2="289" stroke="#b8b8b8" stroke-width="1.4"/>
<line x1="1254" y1="291" x2="1283" y2="289" stroke="#b8b8b8" stroke-width="1.4"/>
<circle cx="1229" cy="283" r="12" fill="#3838f0"/>
<circle cx="1257.5" cy="264.5" r="12" fill="#3838f0"/>
<circle cx="1294" cy="261.5" r="12" fill="#3838f0"/>
<circle cx="1315" cy="275.5" r="12" fill="#3838f0"/>
<circle cx="1254" cy="291" r="12" fill="#3838f0"/>
<circle cx="1283" cy="289" r="12" fill="#3838f0"/>
<circle cx="1545.5" cy="300.5" r="9" fill="#3838f0"/>
<line x1="1702" y1="248" x2="1685" y2="281" stroke="#b0b0b0" stroke-width="1.6"/>
<circle cx="1702" cy="248" r="9" fill="#3838f0"/>
<circle cx="1685" cy="281" r="9" fill="#3838f0"/>
<line x1="1426.5" y1="399" x2="1409.5" y2="431.5" stroke="#b0b0b0" stroke-width="1.6"/>
<circle cx="1426.5" cy="399" r="9" fill="#3838f0"/>
<circle cx="1409.5" cy="431.5" r="9" fill="#3838f0"/>
<circle cx="1626.5" cy="457.5" r="9" fill="#f04040"/>
<text x="1255" y="116.5">fatty acid beta</text>
<text x="1255" y="141.5">oxidation</text>
<text x="1550" y="94" font-weight="bold">cerebral cortex</text>
<text x="1550" y="119" font-weight="bold">development</text>
<text x="1441" y="232" font-weight="bold">Pos. regu of</text>
<text x="1441" y="257" font-weight="bold">epithelial to</text>
<text x="1441" y="282" font-weight="bold">mesenchymal</text>
<text x="1441" y="307" font-weight="bold">transition</text>
<text x="1168" y="332">mitochondrial</text>
<text x="1168" y="357">translation initiation</text>
<text x="1631" y="326.5">ER stress</text>
<text x="1631" y="351.5">(ATF4 pathway)</text>
<text x="1330.5" y="434" font-weight="bold">neuron</text>
<text x="1330.5" y="459" font-weight="bold">axogenesis</text>
<text x="1573" y="416.5">chemoattract</text>
<text x="1573" y="441.5">ant activity</text>
<text x="1882" y="140.5">enrichment</text>
<line x1="1881" y1="146.8" x2="2034" y2="146.8" stroke="#111" stroke-width="1.6"/>
<rect x="1945" y="161.5" width="21.5" height="60" fill="url(#gBlue)"/>
<rect x="1945" y="251" width="21.5" height="59" fill="url(#gRed)"/>
<text x="1937" y="175.5" text-anchor="end">100%</text>
<text x="1931" y="215.5" text-anchor="end">50%</text>
<text x="1937" y="263" text-anchor="end">100%</text>
<text x="1931" y="302.5" text-anchor="end">50%</text>
<text x="1976.5" y="193" font-style="italic">NPC</text>
<text x="1973" y="265" font-style="italic">co-</text>
<text x="1973" y="291" font-style="italic">NPC</text>
<text x="1879" y="357">p-Value</text>
<line x1="1879" y1="363.8" x2="2043" y2="363.8" stroke="#111" stroke-width="1.6"/>
<circle cx="1890.5" cy="384.5" r="13" fill="#000"/>
<circle cx="1890.5" cy="420" r="10.5" fill="#000"/>
<circle cx="1891" cy="451.5" r="7.5" fill="#000"/>
<text x="1911.5" y="392.5">0.005-0.05</text>
<text x="1911.5" y="425.5">0.0005-0.005</text>
<text x="1911.5" y="456.5">&lt;0.0005</text>
</g>
<g id="panelC">
<text x="1017.6" y="507.3" font-weight="bold" font-size="38">c</text>
<text x="1065" y="520"><tspan font-weight="bold">neuron / co-neuron</tspan> (proteomic DEP)</text>
<rect x="1021" y="538.1" width="1032.4" height="513.4999999999999" fill="none" stroke="#a6a6a6" stroke-width="3.9"/>
<line x1="1375" y1="584" x2="1401.5" y2="571.5" stroke="#a8a8a8" stroke-width="1.3" stroke-opacity="0.8"/>
<line x1="1375" y1="584" x2="1430" y2="578.5" stroke="#a8a8a8" stroke-width="1.3" stroke-opacity="0.8"/>
<line x1="1375" y1="584" x2="1454.5" y2="591" stroke="#a8a8a8" stroke-width="1.3" stroke-opacity="0.8"/>
<line x1="1375" y1="584" x2="1407" y2="598" stroke="#a8a8a8" stroke-width="1.3" stroke-opacity="0.8"/>
<line x1="1375" y1="584" x2="1377.5" y2="611.5" stroke="#a8a8a8" stroke-width="1.3" stroke-opacity="0.8"/>
<line x1="1375" y1="584" x2="1434" y2="615.5" stroke="#a8a8a8" stroke-width="1.3" stroke-opacity="0.8"/>
<line x1="1375" y1="584" x2="1464.5" y2="614.5" stroke="#a8a8a8" stroke-width="1.3" stroke-opacity="0.8"/>
<line x1="1375" y1="584" x2="1405.5" y2="627.5" stroke="#a8a8a8" stroke-width="1.3" stroke-opacity="0.8"/>
<line x1="1375" y1="584" x2="1444" y2="651" stroke="#a8a8a8" stroke-width="1.3" stroke-opacity="0.8"/>
<line x1="1401.5" y1="571.5" x2="1430" y2="578.5" stroke="#a8a8a8" stroke-width="1.3" stroke-opacity="0.8"/>
<line x1="1401.5" y1="571.5" x2="1454.5" y2="591" stroke="#a8a8a8" stroke-width="1.3" stroke-opacity="0.8"/>
<line x1="1401.5" y1="571.5" x2="1407" y2="598" stroke="#a8a8a8" stroke-width="1.3" stroke-opacity="0.8"/>
<line x1="1401.5" y1="571.5" x2="1377.5" y2="611.5" stroke="#a8a8a8" stroke-width="1.3" stroke-opacity="0.8"/>
<line x1="1401.5" y1="571.5" x2="1434" y2="615.5" stroke="#a8a8a8" stroke-width="1.3" stroke-opacity="0.8"/>
<line x1="1401.5" y1="571.5" x2="1464.5" y2="614.5" stroke="#a8a8a8" stroke-width="1.3" stroke-opacity="0.8"/>
<line x1="1401.5" y1="571.5" x2="1405.5" y2="627.5" stroke="#a8a8a8" stroke-width="1.3" stroke-opacity="0.8"/>
<line x1="1401.5" y1="571.5" x2="1444" y2="651" stroke="#a8a8a8" stroke-width="1.3" stroke-opacity="0.8"/>
<line x1="1430" y1="578.5" x2="1454.5" y2="591" stroke="#a8a8a8" stroke-width="1.3" stroke-opacity="0.8"/>
<line x1="1430" y1="578.5" x2="1407" y2="598" stroke="#a8a8a8" stroke-width="1.3" stroke-opacity="0.8"/>
<line x1="1430" y1="578.5" x2="1377.5" y2="611.5" stroke="#a8a8a8" stroke-width="1.3" stroke-opacity="0.8"/>
<line x1="1430" y1="578.5" x2="1434" y2="615.5" stroke="#a8a8a8" stroke-width="1.3" stroke-opacity="0.8"/>
<line x1="1430" y1="578.5" x2="1464.5" y2="614.5" stroke="#a8a8a8" stroke-width="1.3" stroke-opacity="0.8"/>
<line x1="1430" y1="578.5" x2="1405.5" y2="627.5" stroke="#a8a8a8" stroke-width="1.3" stroke-opacity="0.8"/>
<line x1="1430" y1="578.5" x2="1444" y2="651" stroke="#a8a8a8" stroke-width="1.3" stroke-opacity="0.8"/>
<line x1="1454.5" y1="591" x2="1407" y2="598" stroke="#a8a8a8" stroke-width="1.3" stroke-opacity="0.8"/>
<line x1="1454.5" y1="591" x2="1377.5" y2="611.5" stroke="#a8a8a8" stroke-width="1.3" stroke-opacity="0.8"/>
<line x1="1454.5" y1="591" x2="1434" y2="615.5" stroke="#a8a8a8" stroke-width="1.3" stroke-opacity="0.8"/>
<line x1="1454.5" y1="591" x2="1464.5" y2="614.5" stroke="#a8a8a8" stroke-width="1.3" stroke-opacity="0.8"/>
<line x1="1454.5" y1="591" x2="1405.5" y2="627.5" stroke="#a8a8a8" stroke-width="1.3" stroke-opacity="0.8"/>
<line x1="1454.5" y1="591" x2="1444" y2="651" stroke="#a8a8a8" stroke-width="1.3" stroke-opacity="0.8"/>
<line x1="1407" y1="598" x2="1377.5" y2="611.5" stroke="#a8a8a8" stroke-width="1.3" stroke-opacity="0.8"/>
<line x1="1407" y1="598" x2="1434" y2="615.5" stroke="#a8a8a8" stroke-width="1.3" stroke-opacity="0.8"/>
<line x1="1407" y1="598" x2="1464.5" y2="614.5" stroke="#a8a8a8" stroke-width="1.3" stroke-opacity="0.8"/>
<line x1="1407" y1="598" x2="1405.5" y2="627.5" stroke="#a8a8a8" stroke-width="1.3" stroke-opacity="0.8"/>
<line x1="1407" y1="598" x2="1444" y2="651" stroke="#a8a8a8" stroke-width="1.3" stroke-opacity="0.8"/>
<line x1="1377.5" y1="611.5" x2="1434" y2="615.5" stroke="#a8a8a8" stroke-width="1.3" stroke-opacity="0.8"/>
<line x1="1377.5" y1="611.5" x2="1464.5" y2="614.5" stroke="#a8a8a8" stroke-width="1.3" stroke-opacity="0.8"/>
<line x1="1377.5" y1="611.5" x2="1405.5" y2="627.5" stroke="#a8a8a8" stroke-width="1.3" stroke-opacity="0.8"/>
<line x1="1377.5" y1="611.5" x2="1444" y2="651" stroke="#a8a8a8" stroke-width="1.3" stroke-opacity="0.8"/>
<line x1="1434" y1="615.5" x2="1464.5" y2="614.5" stroke="#a8a8a8" stroke-width="1.3" stroke-opacity="0.8"/>
<line x1="1434" y1="615.5" x2="1405.5" y2="627.5" stroke="#a8a8a8" stroke-width="1.3" stroke-opacity="0.8"/>
<line x1="1434" y1="615.5" x2="1444" y2="651" stroke="#a8a8a8" stroke-width="1.3" stroke-opacity="0.8"/>
<line x1="1464.5" y1="614.5" x2="1405.5" y2="627.5" stroke="#a8a8a8" stroke-width="1.3" stroke-opacity="0.8"/>
<line x1="1464.5" y1="614.5" x2="1444" y2="651" stroke="#a8a8a8" stroke-width="1.3" stroke-opacity="0.8"/>
<line x1="1405.5" y1="627.5" x2="1444" y2="651" stroke="#a8a8a8" stroke-width="1.3" stroke-opacity="0.8"/>
<line x1="1375" y1="584" x2="1198.3" y2="699.8" stroke="#9a9a9a" stroke-width="1.3" stroke-opacity="0.55"/>
<line x1="1375" y1="584" x2="1281.5" y2="818.2" stroke="#9a9a9a" stroke-width="1.3" stroke-opacity="0.5"/>
<line x1="1375" y1="584" x2="1350.3" y2="857.9" stroke="#9a9a9a" stroke-width="1.3" stroke-opacity="0.5"/>
<line x1="1375" y1="584" x2="1518.8" y2="825.5" stroke="#9a9a9a" stroke-width="1.3" stroke-opacity="0.45"/>
<line x1="1401.5" y1="571.5" x2="1198.3" y2="699.8" stroke="#9a9a9a" stroke-width="1.3" stroke-opacity="0.55"/>
<line x1="1401.5" y1="571.5" x2="1281.5" y2="818.2" stroke="#9a9a9a" stroke-width="1.3" stroke-opacity="0.5"/>
<line x1="1401.5" y1="571.5" x2="1350.3" y2="857.9" stroke="#9a9a9a" stroke-width="1.3" stroke-opacity="0.5"/>
<line x1="1401.5" y1="571.5" x2="1518.8" y2="825.5" stroke="#9a9a9a" stroke-width="1.3" stroke-opacity="0.45"/>
<line x1="1430" y1="578.5" x2="1198.3" y2="699.8" stroke="#9a9a9a" stroke-width="1.3" stroke-opacity="0.55"/>
<line x1="1430" y1="578.5" x2="1281.5" y2="818.2" stroke="#9a9a9a" stroke-width="1.3" stroke-opacity="0.5"/>
<line x1="1430" y1="578.5" x2="1350.3" y2="857.9" stroke="#9a9a9a" stroke-width="1.3" stroke-opacity="0.5"/>
<line x1="1430" y1="578.5" x2="1518.8" y2="825.5" stroke="#9a9a9a" stroke-width="1.3" stroke-opacity="0.45"/>
<line x1="1454.5" y1="591" x2="1198.3" y2="699.8" stroke="#9a9a9a" stroke-width="1.3" stroke-opacity="0.55"/>
<line x1="1454.5" y1="591" x2="1281.5" y2="818.2" stroke="#9a9a9a" stroke-width="1.3" stroke-opacity="0.5"/>
<line x1="1454.5" y1="591" x2="1350.3" y2="857.9" stroke="#9a9a9a" stroke-width="1.3" stroke-opacity="0.5"/>
<line x1="1454.5" y1="591" x2="1518.8" y2="825.5" stroke="#9a9a9a" stroke-width="1.3" stroke-opacity="0.45"/>
<line x1="1407" y1="598" x2="1198.3" y2="699.8" stroke="#9a9a9a" stroke-width="1.3" stroke-opacity="0.55"/>
<line x1="1407" y1="598" x2="1281.5" y2="818.2" stroke="#9a9a9a" stroke-width="1.3" stroke-opacity="0.5"/>
<line x1="1407" y1="598" x2="1350.3" y2="857.9" stroke="#9a9a9a" stroke-width="1.3" stroke-opacity="0.5"/>
<line x1="1407" y1="598" x2="1518.8" y2="825.5" stroke="#9a9a9a" stroke-width="1.3" stroke-opacity="0.45"/>
<line x1="1377.5" y1="611.5" x2="1198.3" y2="699.8" stroke="#9a9a9a" stroke-width="1.3" stroke-opacity="0.55"/>
<line x1="1377.5" y1="611.5" x2="1281.5" y2="818.2" stroke="#9a9a9a" stroke-width="1.3" stroke-opacity="0.5"/>
<line x1="1377.5" y1="611.5" x2="1350.3" y2="857.9" stroke="#9a9a9a" stroke-width="1.3" stroke-opacity="0.5"/>
<line x1="1377.5" y1="611.5" x2="1518.8" y2="825.5" stroke="#9a9a9a" stroke-width="1.3" stroke-opacity="0.45"/>
<line x1="1434" y1="615.5" x2="1198.3" y2="699.8" stroke="#9a9a9a" stroke-width="1.3" stroke-opacity="0.55"/>
<line x1="1434" y1="615.5" x2="1281.5" y2="818.2" stroke="#9a9a9a" stroke-width="1.3" stroke-opacity="0.5"/>
<line x1="1434" y1="615.5" x2="1350.3" y2="857.9" stroke="#9a9a9a" stroke-width="1.3" stroke-opacity="0.5"/>
<line x1="1434" y1="615.5" x2="1518.8" y2="825.5" stroke="#9a9a9a" stroke-width="1.3" stroke-opacity="0.45"/>
<line x1="1464.5" y1="614.5" x2="1198.3" y2="699.8" stroke="#9a9a9a" stroke-width="1.3" stroke-opacity="0.55"/>
<line x1="1464.5" y1="614.5" x2="1281.5" y2="818.2" stroke="#9a9a9a" stroke-width="1.3" stroke-opacity="0.5"/>
<line x1="1464.5" y1="614.5" x2="1350.3" y2="857.9" stroke="#9a9a9a" stroke-width="1.3" stroke-opacity="0.5"/>
<line x1="1464.5" y1="614.5" x2="1518.8" y2="825.5" stroke="#9a9a9a" stroke-width="1.3" stroke-opacity="0.45"/>
<line x1="1405.5" y1="627.5" x2="1198.3" y2="699.8" stroke="#9a9a9a" stroke-width="1.3" stroke-opacity="0.55"/>
<line x1="1405.5" y1="627.5" x2="1281.5" y2="818.2" stroke="#9a9a9a" stroke-width="1.3" stroke-opacity="0.5"/>
<line x1="1405.5" y1="627.5" x2="1350.3" y2="857.9" stroke="#9a9a9a" stroke-width="1.3" stroke-opacity="0.5"/>
<line x1="1405.5" y1="627.5" x2="1518.8" y2="825.5" stroke="#9a9a9a" stroke-width="1.3" stroke-opacity="0.45"/>
<line x1="1444" y1="651" x2="1198.3" y2="699.8" stroke="#9a9a9a" stroke-width="1.3" stroke-opacity="0.55"/>
<line x1="1444" y1="651" x2="1281.5" y2="818.2" stroke="#9a9a9a" stroke-width="1.3" stroke-opacity="0.5"/>
<line x1="1444" y1="651" x2="1350.3" y2="857.9" stroke="#9a9a9a" stroke-width="1.3" stroke-opacity="0.5"/>
<line x1="1444" y1="651" x2="1518.8" y2="825.5" stroke="#9a9a9a" stroke-width="1.3" stroke-opacity="0.45"/>
<line x1="1198.3" y1="699.8" x2="1518.8" y2="825.5" stroke="#c8c8c8" stroke-width="1.3"/>
<line x1="1198.3" y1="699.8" x2="1281.5" y2="818.2" stroke="#c8c8c8" stroke-width="1.3"/>
<line x1="1198.3" y1="699.8" x2="1350.3" y2="857.9" stroke="#c8c8c8" stroke-width="1.3"/>
<line x1="1198.3" y1="699.8" x2="1290.4" y2="927.2" stroke="#c8c8c8" stroke-width="1.3"/>
<line x1="1198.3" y1="699.8" x2="1045.5" y2="893.5" stroke="#c8c8c8" stroke-width="1.3"/>
<line x1="1045.5" y1="893.5" x2="1290.4" y2="927.2" stroke="#c8c8c8" stroke-width="1.3"/>
<line x1="1290.4" y1="927.2" x2="1518.8" y2="825.5" stroke="#c8c8c8" stroke-width="1.3"/>
<line x1="1350.3" y1="857.9" x2="1518.8" y2="825.5" stroke="#c8c8c8" stroke-width="1.3"/>
<line x1="1281.5" y1="818.2" x2="1518.8" y2="825.5" stroke="#c8c8c8" stroke-width="1.3"/>
<line x1="1281.5" y1="818.2" x2="1350.3" y2="857.9" stroke="#c8c8c8" stroke-width="1.3"/>
<line x1="1350.3" y1="857.9" x2="1281.5" y2="818.2" stroke="#888" stroke-width="1.3"/>
<polygon points="1291.0,823.7 1296.3,824.6 1294.5,827.8" fill="#222"/>
<circle cx="1375" cy="584" r="14" fill="#3838f0"/>
<circle cx="1401.5" cy="571.5" r="14" fill="#3838f0"/>
<circle cx="1430" cy="578.5" r="10.5" fill="#3838f0"/>
<circle cx="1454.5" cy="591" r="10.5" fill="#3838f0"/>
<circle cx="1407" cy="598" r="10.5" fill="#3838f0"/>
<circle cx="1377.5" cy="611.5" r="14" fill="#3838f0"/>
<circle cx="1434" cy="615.5" r="10.5" fill="#3838f0"/>
<circle cx="1464.5" cy="614.5" r="10.5" fill="#3838f0"/>
<circle cx="1405.5" cy="627.5" r="10.5" fill="#3838f0"/>
<circle cx="1444" cy="651" r="10.5" fill="#3838f0"/>
<circle cx="1198.3" cy="699.8" r="10.9" fill="#3838f0"/>
<circle cx="1281.5" cy="818.2" r="10.9" fill="#3838f0"/>
<circle cx="1350.3" cy="857.9" r="10.9" fill="#3838f0"/>
<circle cx="1518.8" cy="825.5" r="10.9" fill="#3838f0"/>
<circle cx="1045.5" cy="893.5" r="10.9" fill="#3838f0"/>
<circle cx="1290.4" cy="927.2" r="10.9" fill="#3838f0"/>
<line x1="1641.5" y1="574.5" x2="1678.5" y2="571.5" stroke="#aaaaaa" stroke-width="1.7"/>
<line x1="1641.5" y1="574.5" x2="1719" y2="594.5" stroke="#aaaaaa" stroke-width="1.7"/>
<line x1="1641.5" y1="574.5" x2="1677" y2="608" stroke="#aaaaaa" stroke-width="1.7"/>
<line x1="1641.5" y1="574.5" x2="1726" y2="629" stroke="#aaaaaa" stroke-width="1.7"/>
<line x1="1678.5" y1="571.5" x2="1719" y2="594.5" stroke="#aaaaaa" stroke-width="1.7"/>
<line x1="1678.5" y1="571.5" x2="1677" y2="608" stroke="#aaaaaa" stroke-width="1.7"/>
<line x1="1678.5" y1="571.5" x2="1726" y2="629" stroke="#aaaaaa" stroke-width="1.7"/>
<line x1="1719" y1="594.5" x2="1677" y2="608" stroke="#aaaaaa" stroke-width="1.7"/>
<line x1="1719" y1="594.5" x2="1726" y2="629" stroke="#aaaaaa" stroke-width="1.7"/>
<line x1="1677" y1="608" x2="1726" y2="629" stroke="#aaaaaa" stroke-width="1.7"/>
<circle cx="1641.5" cy="574.5" r="10.9" fill="#3838f0"/>
<circle cx="1678.5" cy="571.5" r="10.9" fill="#3838f0"/>
<circle cx="1719" cy="594.5" r="10.9" fill="#3838f0"/>
<circle cx="1677" cy="608" r="10.9" fill="#3838f0"/>
<circle cx="1726" cy="629" r="10.9" fill="#3838f0"/>
<line x1="1807.5" y1="711" x2="1865" y2="919" stroke="#d0d0d0" stroke-width="1.3"/>
<line x1="1649.5" y1="783.5" x2="1865" y2="919" stroke="#d0d0d0" stroke-width="1.3"/>
<line x1="1634" y1="823.5" x2="1865" y2="919" stroke="#d0d0d0" stroke-width="1.3"/>
<line x1="1649.5" y1="783.5" x2="1634" y2="823.5" stroke="#909090" stroke-width="2"/>
<circle cx="1807.5" cy="711" r="10.5" fill="#f03c5f"/>
<circle cx="1649.5" cy="783.5" r="10.5" fill="#f03c5f"/>
<circle cx="1634" cy="823.5" r="15" fill="#f03c5f"/>
<circle cx="1865" cy="919" r="11" fill="#f03c5f"/>
<line x1="1606.5" y1="934.5" x2="1598.5" y2="982" stroke="#b0b0b0" stroke-width="1.5"/>
<line x1="1606.5" y1="934.5" x2="1530" y2="1008.5" stroke="#989898" stroke-width="1.8"/>
<line x1="1598.5" y1="982" x2="1530" y2="1008.5" stroke="#b0b0b0" stroke-width="1.5"/>
<polygon points="1538.3,1000.5 1540.6,995.7 1543.1,998.3" fill="#222"/>
<circle cx="1606.5" cy="934.5" r="11" fill="#f03c5f"/>
<circle cx="1598.5" cy="982" r="11" fill="#f03c5f"/>
<circle cx="1530" cy="1008.5" r="11" fill="#f03c5f"/>
<circle cx="1233" cy="1025.5" r="10.5" fill="#3838f0"/>
<circle cx="1388" cy="1026" r="10.5" fill="#3838f0"/>
<rect x="1032" y="549" width="513.5" height="400.5" fill="none" stroke="#111" stroke-width="2.8" stroke-dasharray="11.5 8.5"/>
<line x1="1512" y1="844" x2="1494" y2="891" stroke="#111" stroke-width="1.8" stroke-dasharray="8 6"/>
<line x1="1304" y1="925.5" x2="1414" y2="915" stroke="#111" stroke-width="1.8" stroke-dasharray="8 6"/>
<text x="1146" y="572.5" text-anchor="middle">leukotriene metabolism</text>
<text x="1146" y="597.5" text-anchor="middle">/ production</text>
<text x="1784" y="569.5" text-anchor="middle">mitochondrial</text>
<text x="1784" y="594.5" text-anchor="middle">respiration</text>
<text x="1767" y="784" text-anchor="middle" font-weight="bold">dopamine</text>
<text x="1767" y="809" text-anchor="middle" font-weight="bold">metabolic</text>
<text x="1767" y="834" text-anchor="middle" font-weight="bold">process</text>
<text x="1421.5" y="916">regu Redox</text>
<text x="1421.5" y="941">processes</text>
<text x="1163" y="995" text-anchor="middle" font-weight="bold">basigin</text>
<text x="1163" y="1020" text-anchor="middle" font-weight="bold">(CD147)</text>
<text x="1163" y="1045" text-anchor="middle" font-weight="bold">interactions</text>
<text x="1380.5" y="986" text-anchor="middle">deactivation of βcatenin</text>
<text x="1380.5" y="1011" text-anchor="middle">transactivating complex</text>
<text x="1698" y="967.5" text-anchor="middle">amyloid-beta</text>
<text x="1698" y="992.5" text-anchor="middle">formation</text>
<text x="1884" y="665">enrichment</text>
<line x1="1890" y1="670.8" x2="2043" y2="670.8" stroke="#111" stroke-width="1.6"/>
<rect x="1950" y="685" width="20" height="60" fill="url(#gBlue)"/>
<rect x="1948" y="776" width="20" height="58" fill="url(#gRed)"/>
<text x="1943" y="699" text-anchor="end">100%</text>
<text x="1943" y="745" text-anchor="end">50%</text>
<text x="1944" y="789" text-anchor="end">100%</text>
<text x="1944" y="833.5" text-anchor="end">50%</text>
<text x="1979" y="715" font-style="italic">neuron</text>
<text x="1978" y="790" font-style="italic">co-</text>
<text x="1978" y="815" font-style="italic">neuron</text>
<text x="1883" y="939">p-Value</text>
<line x1="1883" y1="945.8" x2="2047" y2="945.8" stroke="#111" stroke-width="1.6"/>
<circle cx="1895" cy="966.5" r="13" fill="#000"/>
<circle cx="1895" cy="1002" r="10.5" fill="#000"/>
<circle cx="1895.5" cy="1034.5" r="7.5" fill="#000"/>
<text x="1916" y="974.5">0.005-0.05</text>
<text x="1916" y="1007.5">0.0005-0.005</text>
<text x="1916" y="1038.5">&lt;0.0005</text>
</g><g id="panelD">
<text x="4" y="1090" font-weight="bold" font-size="33">d</text>
<text x="57.5" y="1106.5">KYOU1 iPSC clone</text>
<line x1="57.5" y1="1110.1" x2="236.5" y2="1110.1" stroke="#111" stroke-width="1.8"/>
<text x="278.5" y="1149.5" text-anchor="middle">organoid (day 0)</text>
<line x1="82.5" y1="1157.7" x2="477.5" y2="1157.7" stroke="#111" stroke-width="1.9"/>
<text x="801.5" y="1149.5" text-anchor="middle">organoid (day 28)</text>
<line x1="611" y1="1157.7" x2="1006" y2="1157.7" stroke="#111" stroke-width="1.9"/>
<text x="286.5" y="1532.5" text-anchor="middle">co-culture organoid (day 28)</text>
<line x1="79" y1="1540.6" x2="474" y2="1540.6" stroke="#111" stroke-width="1.9"/>
<text x="805.5" y="1530" text-anchor="middle">organoid + iMac conditioned medium (day 28)</text>
<line x1="613" y1="1540.6" x2="1009" y2="1540.6" stroke="#111" stroke-width="1.9"/>
<g clip-path="url(#c1)">
<rect x="24.1" y="1171.1" width="162.8" height="130.2" fill="#fff"/>
<rect x="24.1" y="1171.1" width="162.8" height="130.2" fill="url(#s1)"/>
<rect x="24.1" y="1171.1" width="162.8" height="130.2" fill="url(#r1)"/>

<path d="M90.8,1221.6C94.0,1218.8 99.7,1216.3 104.2,1214.9C108.7,1213.5 113.2,1212.9 117.7,1213.2C122.2,1213.5 127.3,1214.6 131.2,1216.5C135.1,1218.5 138.2,1221.3 141.3,1225.0C144.4,1228.6 148.0,1233.7 149.7,1238.4C151.4,1243.2 152.0,1248.3 151.4,1253.6C150.8,1258.9 149.2,1265.4 146.3,1270.4C143.5,1275.5 139.0,1281.0 134.6,1283.9C130.1,1286.9 124.4,1288.1 119.4,1288.1C114.3,1288.1 109.0,1286.3 104.2,1283.9C99.5,1281.5 94.3,1277.7 90.8,1273.8C87.2,1269.9 84.7,1265.1 83.2,1260.3C81.6,1255.6 81.2,1250.0 81.5,1245.2C81.8,1240.4 83.3,1235.6 84.9,1231.7C86.4,1227.8 87.5,1224.4 90.8,1221.6Z" fill="#1a1a1a" stroke="#1a1a1a" stroke-width="2.2" opacity="0.5" filter="url(#bl15)"/>
<path d="M90.8,1221.6C94.0,1218.8 99.7,1216.3 104.2,1214.9C108.7,1213.5 113.2,1212.9 117.7,1213.2C122.2,1213.5 127.3,1214.6 131.2,1216.5C135.1,1218.5 138.2,1221.3 141.3,1225.0C144.4,1228.6 148.0,1233.7 149.7,1238.4C151.4,1243.2 152.0,1248.3 151.4,1253.6C150.8,1258.9 149.2,1265.4 146.3,1270.4C143.5,1275.5 139.0,1281.0 134.6,1283.9C130.1,1286.9 124.4,1288.1 119.4,1288.1C114.3,1288.1 109.0,1286.3 104.2,1283.9C99.5,1281.5 94.3,1277.7 90.8,1273.8C87.2,1269.9 84.7,1265.1 83.2,1260.3C81.6,1255.6 81.2,1250.0 81.5,1245.2C81.8,1240.4 83.3,1235.6 84.9,1231.7C86.4,1227.8 87.5,1224.4 90.8,1221.6Z" fill="#1a1a1a" filter="url(#bl)"/>

<rect x="164.2" y="1295.6" width="17.5" height="2.9" fill="#000"/>
</g>
<rect x="24.1" y="1171.1" width="162.8" height="130.2" fill="none" stroke="#000" stroke-width="1.9"/>
<g clip-path="url(#c2)">
<rect x="196.4" y="1171.1" width="162.6" height="130.2" fill="#fff"/>
<rect x="196.4" y="1171.1" width="162.6" height="130.2" fill="url(#s2)"/>
<rect x="196.4" y="1171.1" width="162.6" height="130.2" fill="url(#r2)"/>

<path d="M244.1,1223.3C246.0,1219.6 249.4,1213.3 252.5,1209.8C255.6,1206.3 258.9,1203.5 262.6,1202.2C266.2,1201.0 271.0,1201.4 274.4,1202.2C277.7,1203.1 280.0,1207.7 282.8,1207.3C285.6,1206.9 288.4,1201.5 291.2,1199.7C294.0,1197.9 296.6,1196.0 299.6,1196.3C302.7,1196.6 307.2,1198.6 309.8,1201.4C312.3,1204.2 313.5,1209.0 314.8,1213.2C316.1,1217.4 316.2,1222.2 317.3,1226.6C318.5,1231.1 321.7,1236.2 321.5,1240.1C321.4,1244.1 319.0,1246.6 316.5,1250.2C314.0,1253.9 309.8,1258.7 306.4,1262.0C303.0,1265.4 300.2,1268.5 296.3,1270.4C292.3,1272.4 287.3,1273.5 282.8,1273.8C278.3,1274.1 273.3,1274.1 269.3,1272.1C265.4,1270.2 262.3,1266.0 259.2,1262.0C256.1,1258.1 253.6,1252.2 250.8,1248.5C248.0,1244.9 244.1,1242.9 242.4,1240.1C240.7,1237.3 240.4,1234.5 240.7,1231.7C241.0,1228.9 242.1,1226.9 244.1,1223.3Z" fill="#1a1a1a" stroke="#1a1a1a" stroke-width="2.2" opacity="0.5" filter="url(#bl15)"/>
<path d="M244.1,1223.3C246.0,1219.6 249.4,1213.3 252.5,1209.8C255.6,1206.3 258.9,1203.5 262.6,1202.2C266.2,1201.0 271.0,1201.4 274.4,1202.2C277.7,1203.1 280.0,1207.7 282.8,1207.3C285.6,1206.9 288.4,1201.5 291.2,1199.7C294.0,1197.9 296.6,1196.0 299.6,1196.3C302.7,1196.6 307.2,1198.6 309.8,1201.4C312.3,1204.2 313.5,1209.0 314.8,1213.2C316.1,1217.4 316.2,1222.2 317.3,1226.6C318.5,1231.1 321.7,1236.2 321.5,1240.1C321.4,1244.1 319.0,1246.6 316.5,1250.2C314.0,1253.9 309.8,1258.7 306.4,1262.0C303.0,1265.4 300.2,1268.5 296.3,1270.4C292.3,1272.4 287.3,1273.5 282.8,1273.8C278.3,1274.1 273.3,1274.1 269.3,1272.1C265.4,1270.2 262.3,1266.0 259.2,1262.0C256.1,1258.1 253.6,1252.2 250.8,1248.5C248.0,1244.9 244.1,1242.9 242.4,1240.1C240.7,1237.3 240.4,1234.5 240.7,1231.7C241.0,1228.9 242.1,1226.9 244.1,1223.3Z" fill="#1a1a1a" filter="url(#bl)"/>

<rect x="336.4" y="1295.6" width="17.5" height="2.9" fill="#000"/>
</g>
<rect x="196.4" y="1171.1" width="162.6" height="130.2" fill="none" stroke="#000" stroke-width="1.9"/>
<g clip-path="url(#c3)">
<rect x="368.5" y="1171.1" width="162.5" height="131.1" fill="#fff"/>
<rect x="368.5" y="1171.1" width="162.5" height="131.1" fill="url(#s3)"/>
<rect x="368.5" y="1171.1" width="162.5" height="131.1" fill="url(#r3)"/>

<path d="M404.6,1195.1C406.6,1192.6 412.7,1189.7 415.7,1190.0C418.7,1190.3 420.0,1194.4 422.6,1196.9C425.1,1199.3 427.4,1203.1 431.1,1204.6C434.8,1206.0 440.8,1204.1 444.8,1205.4C448.8,1206.7 451.1,1211.6 455.1,1212.3C459.1,1213.0 464.3,1208.9 468.8,1209.7C473.4,1210.6 479.3,1213.8 482.6,1217.4C485.8,1221.0 488.0,1226.6 488.6,1231.1C489.1,1235.7 488.1,1240.3 486.0,1244.8C483.8,1249.4 479.7,1255.1 475.7,1258.6C471.7,1262.0 466.8,1264.3 462.0,1265.4C457.1,1266.6 451.1,1264.7 446.6,1265.4C442.0,1266.1 438.8,1270.0 434.6,1269.7C430.3,1269.4 424.6,1266.7 420.8,1263.7C417.1,1260.7 415.0,1255.7 412.3,1251.7C409.6,1247.7 406.1,1244.0 404.6,1239.7C403.0,1235.4 402.4,1230.0 402.9,1226.0C403.3,1222.0 407.0,1219.1 407.1,1215.7C407.3,1212.3 404.1,1208.9 403.7,1205.4C403.3,1202.0 402.6,1197.7 404.6,1195.1Z" fill="#1a1a1a" stroke="#1a1a1a" stroke-width="2.2" opacity="0.5" filter="url(#bl15)"/>
<path d="M404.6,1195.1C406.6,1192.6 412.7,1189.7 415.7,1190.0C418.7,1190.3 420.0,1194.4 422.6,1196.9C425.1,1199.3 427.4,1203.1 431.1,1204.6C434.8,1206.0 440.8,1204.1 444.8,1205.4C448.8,1206.7 451.1,1211.6 455.1,1212.3C459.1,1213.0 464.3,1208.9 468.8,1209.7C473.4,1210.6 479.3,1213.8 482.6,1217.4C485.8,1221.0 488.0,1226.6 488.6,1231.1C489.1,1235.7 488.1,1240.3 486.0,1244.8C483.8,1249.4 479.7,1255.1 475.7,1258.6C471.7,1262.0 466.8,1264.3 462.0,1265.4C457.1,1266.6 451.1,1264.7 446.6,1265.4C442.0,1266.1 438.8,1270.0 434.6,1269.7C430.3,1269.4 424.6,1266.7 420.8,1263.7C417.1,1260.7 415.0,1255.7 412.3,1251.7C409.6,1247.7 406.1,1244.0 404.6,1239.7C403.0,1235.4 402.4,1230.0 402.9,1226.0C403.3,1222.0 407.0,1219.1 407.1,1215.7C407.3,1212.3 404.1,1208.9 403.7,1205.4C403.3,1202.0 402.6,1197.7 404.6,1195.1Z" fill="#1a1a1a" filter="url(#bl)"/>
<circle cx="502.3" cy="1252.6" r="7.6" fill="#6a6a6a" stroke="#111" stroke-width="2.6"/><ellipse cx="500.8" cy="1252.1" rx="2.6" ry="3.6" fill="#d8d8d8" transform="rotate(35 502.3 1252.6)"/>
<rect x="508.3" y="1296.6" width="17.5" height="2.9" fill="#000"/>
</g>
<rect x="368.5" y="1171.1" width="162.5" height="131.1" fill="none" stroke="#000" stroke-width="1.9"/>
<g clip-path="url(#c4)">
<rect x="551.5" y="1172.0" width="162.0" height="131.1" fill="#fff"/>
<rect x="551.5" y="1172.0" width="162.0" height="131.1" fill="url(#s4)"/>
<rect x="551.5" y="1172.0" width="162.0" height="131.1" fill="url(#r4)"/>

<path d="M612.8,1222.6C615.1,1219.1 620.1,1217.7 623.1,1217.4C626.1,1217.1 627.4,1221.1 630.8,1220.8C634.2,1220.6 639.2,1216.6 643.7,1215.7C648.1,1214.8 652.8,1214.6 657.4,1215.7C662.0,1216.8 667.5,1219.4 671.1,1222.6C674.7,1225.7 677.4,1229.7 678.8,1234.6C680.2,1239.4 680.4,1246.3 679.7,1251.7C678.9,1257.1 677.1,1262.8 674.5,1267.1C672.0,1271.4 668.5,1275.1 664.2,1277.4C660.0,1279.7 654.0,1280.6 648.8,1280.8C643.7,1281.1 638.0,1281.4 633.4,1279.1C628.8,1276.8 624.8,1271.7 621.4,1267.1C618.0,1262.6 614.8,1256.6 612.8,1251.7C610.8,1246.8 609.4,1242.8 609.4,1238.0C609.4,1233.1 610.5,1226.0 612.8,1222.6Z" fill="#1a1a1a" stroke="#1a1a1a" stroke-width="2.2" opacity="0.5" filter="url(#bl15)"/>
<path d="M612.8,1222.6C615.1,1219.1 620.1,1217.7 623.1,1217.4C626.1,1217.1 627.4,1221.1 630.8,1220.8C634.2,1220.6 639.2,1216.6 643.7,1215.7C648.1,1214.8 652.8,1214.6 657.4,1215.7C662.0,1216.8 667.5,1219.4 671.1,1222.6C674.7,1225.7 677.4,1229.7 678.8,1234.6C680.2,1239.4 680.4,1246.3 679.7,1251.7C678.9,1257.1 677.1,1262.8 674.5,1267.1C672.0,1271.4 668.5,1275.1 664.2,1277.4C660.0,1279.7 654.0,1280.6 648.8,1280.8C643.7,1281.1 638.0,1281.4 633.4,1279.1C628.8,1276.8 624.8,1271.7 621.4,1267.1C618.0,1262.6 614.8,1256.6 612.8,1251.7C610.8,1246.8 609.4,1242.8 609.4,1238.0C609.4,1233.1 610.5,1226.0 612.8,1222.6Z" fill="#1a1a1a" filter="url(#bl)"/>

<rect x="690.8" y="1297.5" width="17.5" height="2.9" fill="#000"/>
</g>
<rect x="551.5" y="1172.0" width="162.0" height="131.1" fill="none" stroke="#000" stroke-width="1.9"/>
<g clip-path="url(#c5)">
<rect x="723.6" y="1172.0" width="161.7" height="130.6" fill="#fff"/>
<rect x="723.6" y="1172.0" width="161.7" height="130.6" fill="url(#s5)"/>
<rect x="723.6" y="1172.0" width="161.7" height="130.6" fill="url(#r5)"/>

<path d="M752.9,1215.7C753.6,1212.7 756.1,1208.4 758.9,1206.3C761.6,1204.1 765.4,1202.4 769.1,1202.9C772.8,1203.3 777.4,1206.7 781.1,1208.9C784.8,1211.0 788.0,1213.7 791.4,1215.7C794.8,1217.7 798.3,1219.6 801.7,1220.8C805.1,1222.1 808.0,1222.7 812.0,1223.4C816.0,1224.1 821.4,1223.8 825.7,1225.1C830.0,1226.4 834.6,1228.4 837.7,1231.1C840.8,1233.8 843.4,1237.7 844.6,1241.4C845.7,1245.1 846.0,1249.7 844.6,1253.4C843.1,1257.1 840.3,1261.1 836.0,1263.7C831.7,1266.3 825.1,1267.7 818.8,1268.8C812.6,1270.0 806.0,1270.1 798.3,1270.6C790.6,1271.0 780.0,1272.1 772.6,1271.4C765.1,1270.7 758.1,1268.7 753.7,1266.3C749.3,1263.8 746.6,1260.4 746.0,1256.8C745.4,1253.3 748.1,1248.6 750.3,1244.8C752.4,1241.1 758.1,1238.0 758.9,1234.6C759.6,1231.1 755.6,1227.4 754.6,1224.3C753.6,1221.1 752.1,1218.7 752.9,1215.7Z" fill="#1a1a1a" stroke="#1a1a1a" stroke-width="2.2" opacity="0.5" filter="url(#bl15)"/>
<path d="M752.9,1215.7C753.6,1212.7 756.1,1208.4 758.9,1206.3C761.6,1204.1 765.4,1202.4 769.1,1202.9C772.8,1203.3 777.4,1206.7 781.1,1208.9C784.8,1211.0 788.0,1213.7 791.4,1215.7C794.8,1217.7 798.3,1219.6 801.7,1220.8C805.1,1222.1 808.0,1222.7 812.0,1223.4C816.0,1224.1 821.4,1223.8 825.7,1225.1C830.0,1226.4 834.6,1228.4 837.7,1231.1C840.8,1233.8 843.4,1237.7 844.6,1241.4C845.7,1245.1 846.0,1249.7 844.6,1253.4C843.1,1257.1 840.3,1261.1 836.0,1263.7C831.7,1266.3 825.1,1267.7 818.8,1268.8C812.6,1270.0 806.0,1270.1 798.3,1270.6C790.6,1271.0 780.0,1272.1 772.6,1271.4C765.1,1270.7 758.1,1268.7 753.7,1266.3C749.3,1263.8 746.6,1260.4 746.0,1256.8C745.4,1253.3 748.1,1248.6 750.3,1244.8C752.4,1241.1 758.1,1238.0 758.9,1234.6C759.6,1231.1 755.6,1227.4 754.6,1224.3C753.6,1221.1 752.1,1218.7 752.9,1215.7Z" fill="#1a1a1a" filter="url(#bl)"/>

<rect x="862.6" y="1297.0" width="17.5" height="2.9" fill="#000"/>
</g>
<rect x="723.6" y="1172.0" width="161.7" height="130.6" fill="none" stroke="#000" stroke-width="1.9"/>
<g clip-path="url(#c6)">
<rect x="894.7" y="1172.0" width="162.0" height="130.6" fill="#fff"/>
<rect x="894.7" y="1172.0" width="162.0" height="130.6" fill="url(#s6)"/>
<rect x="894.7" y="1172.0" width="162.0" height="130.6" fill="url(#r6)"/>

<path d="M973.1,1191.7C975.8,1191.7 980.8,1193.1 983.4,1196.0C986.0,1198.9 987.4,1204.7 988.5,1208.9C989.7,1213.0 988.8,1216.8 990.2,1220.8C991.7,1224.8 995.4,1229.1 997.1,1232.8C998.8,1236.6 1000.2,1239.4 1000.5,1243.1C1000.8,1246.8 998.5,1251.1 998.8,1255.1C999.1,1259.1 1002.5,1263.1 1002.2,1267.1C1002.0,1271.1 1000.2,1275.7 997.1,1279.1C994.0,1282.6 988.2,1286.1 983.4,1287.7C978.5,1289.3 972.5,1290.0 968.0,1288.6C963.4,1287.1 959.4,1283.0 956.0,1279.1C952.5,1275.3 949.5,1270.0 947.4,1265.4C945.2,1260.8 944.0,1256.0 943.1,1251.7C942.2,1247.4 941.4,1242.8 942.2,1239.7C943.1,1236.6 947.1,1235.7 948.2,1232.8C949.4,1230.0 947.8,1225.0 949.1,1222.6C950.4,1220.1 953.7,1218.6 956.0,1218.3C958.2,1218.0 961.5,1223.0 962.8,1220.8C964.1,1218.7 963.0,1209.6 963.7,1205.4C964.4,1201.3 965.5,1198.3 967.1,1196.0C968.7,1193.7 970.4,1191.7 973.1,1191.7Z" fill="#1a1a1a" stroke="#1a1a1a" stroke-width="2.2" opacity="0.5" filter="url(#bl15)"/>
<path d="M973.1,1191.7C975.8,1191.7 980.8,1193.1 983.4,1196.0C986.0,1198.9 987.4,1204.7 988.5,1208.9C989.7,1213.0 988.8,1216.8 990.2,1220.8C991.7,1224.8 995.4,1229.1 997.1,1232.8C998.8,1236.6 1000.2,1239.4 1000.5,1243.1C1000.8,1246.8 998.5,1251.1 998.8,1255.1C999.1,1259.1 1002.5,1263.1 1002.2,1267.1C1002.0,1271.1 1000.2,1275.7 997.1,1279.1C994.0,1282.6 988.2,1286.1 983.4,1287.7C978.5,1289.3 972.5,1290.0 968.0,1288.6C963.4,1287.1 959.4,1283.0 956.0,1279.1C952.5,1275.3 949.5,1270.0 947.4,1265.4C945.2,1260.8 944.0,1256.0 943.1,1251.7C942.2,1247.4 941.4,1242.8 942.2,1239.7C943.1,1236.6 947.1,1235.7 948.2,1232.8C949.4,1230.0 947.8,1225.0 949.1,1222.6C950.4,1220.1 953.7,1218.6 956.0,1218.3C958.2,1218.0 961.5,1223.0 962.8,1220.8C964.1,1218.7 963.0,1209.6 963.7,1205.4C964.4,1201.3 965.5,1198.3 967.1,1196.0C968.7,1193.7 970.4,1191.7 973.1,1191.7Z" fill="#1a1a1a" filter="url(#bl)"/>

<rect x="1034.0" y="1297.0" width="17.5" height="2.9" fill="#000"/>
</g>
<rect x="894.7" y="1172.0" width="162.0" height="130.6" fill="none" stroke="#000" stroke-width="1.9"/>
<g clip-path="url(#c7)">
<rect x="24.1" y="1312.2" width="162.8" height="130.6" fill="#fff"/>
<rect x="24.1" y="1312.2" width="162.8" height="130.6" fill="url(#s7)"/>
<rect x="24.1" y="1312.2" width="162.8" height="130.6" fill="url(#r7)"/>

<path d="M70.5,1378.8C71.7,1374.8 74.5,1367.7 77.3,1363.6C80.1,1359.5 83.7,1356.6 87.4,1354.3C91.0,1352.1 95.2,1351.8 99.2,1350.1C103.1,1348.4 107.0,1344.5 111.0,1344.2C114.9,1343.9 119.4,1346.0 122.8,1348.4C126.1,1350.8 129.1,1354.9 131.2,1358.5C133.3,1362.2 135.4,1367.0 135.4,1370.3C135.4,1373.7 132.2,1375.1 131.2,1378.8C130.2,1382.4 128.4,1388.3 129.5,1392.2C130.6,1396.2 136.8,1399.0 137.9,1402.3C139.0,1405.7 138.5,1409.6 136.2,1412.4C134.0,1415.3 129.2,1417.2 124.4,1419.2C119.7,1421.2 112.9,1424.8 107.6,1424.2C102.3,1423.7 96.7,1417.8 92.4,1415.8C88.2,1413.9 84.9,1415.3 82.3,1412.4C79.8,1409.6 79.2,1403.2 77.3,1399.0C75.3,1394.8 71.7,1390.5 70.5,1387.2C69.4,1383.8 69.4,1382.7 70.5,1378.8Z" fill="#1a1a1a" stroke="#1a1a1a" stroke-width="2.2" opacity="0.5" filter="url(#bl15)"/>
<path d="M70.5,1378.8C71.7,1374.8 74.5,1367.7 77.3,1363.6C80.1,1359.5 83.7,1356.6 87.4,1354.3C91.0,1352.1 95.2,1351.8 99.2,1350.1C103.1,1348.4 107.0,1344.5 111.0,1344.2C114.9,1343.9 119.4,1346.0 122.8,1348.4C126.1,1350.8 129.1,1354.9 131.2,1358.5C133.3,1362.2 135.4,1367.0 135.4,1370.3C135.4,1373.7 132.2,1375.1 131.2,1378.8C130.2,1382.4 128.4,1388.3 129.5,1392.2C130.6,1396.2 136.8,1399.0 137.9,1402.3C139.0,1405.7 138.5,1409.6 136.2,1412.4C134.0,1415.3 129.2,1417.2 124.4,1419.2C119.7,1421.2 112.9,1424.8 107.6,1424.2C102.3,1423.7 96.7,1417.8 92.4,1415.8C88.2,1413.9 84.9,1415.3 82.3,1412.4C79.8,1409.6 79.2,1403.2 77.3,1399.0C75.3,1394.8 71.7,1390.5 70.5,1387.2C69.4,1383.8 69.4,1382.7 70.5,1378.8Z" fill="#1a1a1a" filter="url(#bl)"/>

<rect x="164.2" y="1437.1" width="17.5" height="2.9" fill="#000"/>
</g>
<rect x="24.1" y="1312.2" width="162.8" height="130.6" fill="none" stroke="#000" stroke-width="1.9"/>
<g clip-path="url(#c8)">
<rect x="196.4" y="1312.2" width="162.6" height="130.6" fill="#fff"/>
<rect x="196.4" y="1312.2" width="162.6" height="130.6" fill="url(#s8)"/>
<rect x="196.4" y="1312.2" width="162.6" height="130.6" fill="url(#r8)"/>

<path d="M282.0,1329.1C284.8,1328.8 287.2,1331.2 289.5,1333.3C291.9,1335.4 294.3,1338.6 296.3,1341.7C298.2,1344.8 300.8,1348.7 301.3,1351.8C301.9,1354.9 298.8,1357.4 299.6,1360.2C300.5,1363.0 304.4,1365.8 306.4,1368.6C308.4,1371.5 310.9,1374.0 311.4,1377.1C312.0,1380.2 309.8,1383.5 309.8,1387.2C309.8,1390.8 311.4,1394.8 311.4,1399.0C311.4,1403.2 311.7,1408.8 309.8,1412.4C307.8,1416.1 304.1,1418.9 299.6,1420.9C295.2,1422.8 287.9,1424.8 282.8,1424.2C277.7,1423.7 273.8,1419.5 269.3,1417.5C264.8,1415.5 260.3,1414.1 255.8,1412.4C251.4,1410.8 246.6,1409.4 242.4,1407.4C238.2,1405.4 231.4,1403.2 230.6,1400.7C229.7,1398.1 235.9,1395.3 237.3,1392.2C238.7,1389.1 236.8,1385.2 239.0,1382.1C241.2,1379.0 247.1,1377.1 250.8,1373.7C254.4,1370.3 258.4,1366.4 260.9,1361.9C263.4,1357.4 264.0,1351.2 266.0,1346.7C267.9,1342.3 270.0,1337.9 272.7,1335.0C275.4,1332.0 279.2,1329.3 282.0,1329.1Z" fill="#1a1a1a" stroke="#1a1a1a" stroke-width="2.2" opacity="0.5" filter="url(#bl15)"/>
<path d="M282.0,1329.1C284.8,1328.8 287.2,1331.2 289.5,1333.3C291.9,1335.4 294.3,1338.6 296.3,1341.7C298.2,1344.8 300.8,1348.7 301.3,1351.8C301.9,1354.9 298.8,1357.4 299.6,1360.2C300.5,1363.0 304.4,1365.8 306.4,1368.6C308.4,1371.5 310.9,1374.0 311.4,1377.1C312.0,1380.2 309.8,1383.5 309.8,1387.2C309.8,1390.8 311.4,1394.8 311.4,1399.0C311.4,1403.2 311.7,1408.8 309.8,1412.4C307.8,1416.1 304.1,1418.9 299.6,1420.9C295.2,1422.8 287.9,1424.8 282.8,1424.2C277.7,1423.7 273.8,1419.5 269.3,1417.5C264.8,1415.5 260.3,1414.1 255.8,1412.4C251.4,1410.8 246.6,1409.4 242.4,1407.4C238.2,1405.4 231.4,1403.2 230.6,1400.7C229.7,1398.1 235.9,1395.3 237.3,1392.2C238.7,1389.1 236.8,1385.2 239.0,1382.1C241.2,1379.0 247.1,1377.1 250.8,1373.7C254.4,1370.3 258.4,1366.4 260.9,1361.9C263.4,1357.4 264.0,1351.2 266.0,1346.7C267.9,1342.3 270.0,1337.9 272.7,1335.0C275.4,1332.0 279.2,1329.3 282.0,1329.1Z" fill="#1a1a1a" filter="url(#bl)"/>

<rect x="336.4" y="1437.1" width="17.5" height="2.9" fill="#000"/>
</g>
<rect x="196.4" y="1312.2" width="162.6" height="130.6" fill="none" stroke="#000" stroke-width="1.9"/>
<g clip-path="url(#c9)">
<rect x="368.5" y="1312.3" width="162.5" height="131.1" fill="#fff"/>
<rect x="368.5" y="1312.3" width="162.5" height="131.1" fill="url(#s9)"/>
<rect x="368.5" y="1312.3" width="162.5" height="131.1" fill="url(#r9)"/>

<path d="M424.3,1364.6C426.1,1359.6 430.6,1355.8 434.6,1353.4C438.6,1351.0 443.7,1350.1 448.3,1350.0C452.8,1349.9 457.7,1350.7 462.0,1352.6C466.3,1354.4 470.6,1357.7 474.0,1361.1C477.4,1364.6 480.3,1369.1 482.6,1373.1C484.8,1377.1 487.4,1381.1 487.7,1385.1C488.0,1389.1 486.8,1394.0 484.3,1397.1C481.7,1400.3 477.1,1402.4 472.3,1404.0C467.4,1405.6 460.6,1406.3 455.1,1406.6C449.7,1406.8 444.0,1407.3 439.7,1405.7C435.4,1404.1 432.1,1400.8 429.4,1397.1C426.7,1393.4 424.3,1388.8 423.4,1383.4C422.6,1378.0 422.4,1369.6 424.3,1364.6Z" fill="#1a1a1a" stroke="#1a1a1a" stroke-width="2.2" opacity="0.5" filter="url(#bl15)"/>
<path d="M424.3,1364.6C426.1,1359.6 430.6,1355.8 434.6,1353.4C438.6,1351.0 443.7,1350.1 448.3,1350.0C452.8,1349.9 457.7,1350.7 462.0,1352.6C466.3,1354.4 470.6,1357.7 474.0,1361.1C477.4,1364.6 480.3,1369.1 482.6,1373.1C484.8,1377.1 487.4,1381.1 487.7,1385.1C488.0,1389.1 486.8,1394.0 484.3,1397.1C481.7,1400.3 477.1,1402.4 472.3,1404.0C467.4,1405.6 460.6,1406.3 455.1,1406.6C449.7,1406.8 444.0,1407.3 439.7,1405.7C435.4,1404.1 432.1,1400.8 429.4,1397.1C426.7,1393.4 424.3,1388.8 423.4,1383.4C422.6,1378.0 422.4,1369.6 424.3,1364.6Z" fill="#1a1a1a" filter="url(#bl)"/>

<rect x="508.3" y="1437.8" width="17.5" height="2.9" fill="#000"/>
</g>
<rect x="368.5" y="1312.3" width="162.5" height="131.1" fill="none" stroke="#000" stroke-width="1.9"/>
<g clip-path="url(#c10)">
<rect x="551.5" y="1314.0" width="162.0" height="131.1" fill="#fff"/>
<rect x="551.5" y="1314.0" width="162.0" height="131.1" fill="url(#s10)"/>
<rect x="551.5" y="1314.0" width="162.0" height="131.1" fill="url(#r10)"/>

<path d="M616.2,1338.0C618.8,1337.4 623.7,1338.7 626.5,1340.6C629.4,1342.4 630.5,1346.3 633.4,1349.1C636.2,1352.0 639.7,1354.6 643.7,1357.7C647.7,1360.8 654.1,1364.0 657.4,1368.0C660.7,1372.0 662.8,1377.1 663.4,1381.7C664.0,1386.3 663.2,1391.7 660.8,1395.4C658.4,1399.1 652.5,1401.1 648.8,1404.0C645.1,1406.8 642.8,1410.7 638.5,1412.6C634.2,1414.4 628.0,1415.4 623.1,1415.1C618.2,1414.8 613.1,1413.3 609.4,1410.8C605.7,1408.4 603.2,1404.3 600.8,1400.6C598.4,1396.8 595.1,1392.3 594.8,1388.6C594.5,1384.8 598.8,1382.6 599.1,1378.3C599.4,1374.0 595.4,1366.6 596.5,1362.8C597.7,1359.1 603.5,1359.1 606.0,1356.0C608.4,1352.8 609.4,1347.0 611.1,1344.0C612.8,1341.0 613.7,1338.6 616.2,1338.0Z" fill="#1a1a1a" stroke="#1a1a1a" stroke-width="2.2" opacity="0.5" filter="url(#bl15)"/>
<path d="M616.2,1338.0C618.8,1337.4 623.7,1338.7 626.5,1340.6C629.4,1342.4 630.5,1346.3 633.4,1349.1C636.2,1352.0 639.7,1354.6 643.7,1357.7C647.7,1360.8 654.1,1364.0 657.4,1368.0C660.7,1372.0 662.8,1377.1 663.4,1381.7C664.0,1386.3 663.2,1391.7 660.8,1395.4C658.4,1399.1 652.5,1401.1 648.8,1404.0C645.1,1406.8 642.8,1410.7 638.5,1412.6C634.2,1414.4 628.0,1415.4 623.1,1415.1C618.2,1414.8 613.1,1413.3 609.4,1410.8C605.7,1408.4 603.2,1404.3 600.8,1400.6C598.4,1396.8 595.1,1392.3 594.8,1388.6C594.5,1384.8 598.8,1382.6 599.1,1378.3C599.4,1374.0 595.4,1366.6 596.5,1362.8C597.7,1359.1 603.5,1359.1 606.0,1356.0C608.4,1352.8 609.4,1347.0 611.1,1344.0C612.8,1341.0 613.7,1338.6 616.2,1338.0Z" fill="#1a1a1a" filter="url(#bl)"/>

<rect x="690.8" y="1435.1" width="17.5" height="2.9" fill="#000"/>
</g>
<rect x="551.5" y="1314.0" width="162.0" height="131.1" fill="none" stroke="#000" stroke-width="1.9"/>
<g clip-path="url(#c11)">
<rect x="723.6" y="1314.0" width="162.0" height="130.6" fill="#fff"/>
<rect x="723.6" y="1314.0" width="162.0" height="130.6" fill="url(#r11)"/>

<path d="M773.4,1356.0C774.6,1353.3 777.0,1349.9 779.4,1348.3C781.8,1346.6 785.4,1345.6 788.0,1346.1C790.6,1346.5 793.1,1348.9 794.8,1350.9C796.6,1352.8 795.4,1356.3 798.3,1357.7C801.1,1359.1 807.4,1357.7 812.0,1359.4C816.6,1361.1 821.7,1364.3 825.7,1368.0C829.7,1371.7 833.6,1377.4 836.0,1381.7C838.4,1386.0 840.3,1389.7 840.3,1393.7C840.3,1397.7 838.4,1402.3 836.0,1405.7C833.6,1409.1 829.7,1412.0 825.7,1414.3C821.7,1416.6 816.8,1418.0 812.0,1419.4C807.1,1420.8 801.1,1422.6 796.6,1422.8C792.0,1423.1 788.3,1422.8 784.6,1421.1C780.8,1419.4 777.1,1416.0 774.3,1412.6C771.4,1409.1 768.6,1404.6 767.4,1400.6C766.3,1396.6 767.0,1392.0 767.4,1388.6C767.8,1385.1 768.7,1382.6 770.0,1380.0C771.3,1377.4 774.7,1375.7 775.1,1373.1C775.6,1370.6 772.8,1367.4 772.6,1364.6C772.3,1361.7 772.3,1358.7 773.4,1356.0Z" fill="#1a1a1a" stroke="#1a1a1a" stroke-width="2.2" opacity="0.5" filter="url(#bl15)"/>
<path d="M773.4,1356.0C774.6,1353.3 777.0,1349.9 779.4,1348.3C781.8,1346.6 785.4,1345.6 788.0,1346.1C790.6,1346.5 793.1,1348.9 794.8,1350.9C796.6,1352.8 795.4,1356.3 798.3,1357.7C801.1,1359.1 807.4,1357.7 812.0,1359.4C816.6,1361.1 821.7,1364.3 825.7,1368.0C829.7,1371.7 833.6,1377.4 836.0,1381.7C838.4,1386.0 840.3,1389.7 840.3,1393.7C840.3,1397.7 838.4,1402.3 836.0,1405.7C833.6,1409.1 829.7,1412.0 825.7,1414.3C821.7,1416.6 816.8,1418.0 812.0,1419.4C807.1,1420.8 801.1,1422.6 796.6,1422.8C792.0,1423.1 788.3,1422.8 784.6,1421.1C780.8,1419.4 777.1,1416.0 774.3,1412.6C771.4,1409.1 768.6,1404.6 767.4,1400.6C766.3,1396.6 767.0,1392.0 767.4,1388.6C767.8,1385.1 768.7,1382.6 770.0,1380.0C771.3,1377.4 774.7,1375.7 775.1,1373.1C775.6,1370.6 772.8,1367.4 772.6,1364.6C772.3,1361.7 772.3,1358.7 773.4,1356.0Z" fill="#1a1a1a" filter="url(#bl)"/>

<rect x="862.9" y="1434.8" width="17.5" height="2.9" fill="#000"/>
</g>
<rect x="723.6" y="1314.0" width="162.0" height="130.6" fill="none" stroke="#000" stroke-width="1.9"/>
<g clip-path="url(#c12)">
<rect x="894.7" y="1314.0" width="162.0" height="130.6" fill="#fff"/>
<rect x="894.7" y="1314.0" width="162.0" height="130.6" fill="url(#s12)"/>
<rect x="894.7" y="1314.0" width="162.0" height="130.6" fill="url(#r12)"/>

<path d="M969.7,1356.8C974.2,1356.0 979.1,1357.0 983.4,1357.7C987.7,1358.4 991.4,1360.0 995.4,1361.1C999.4,1362.3 1004.2,1362.3 1007.4,1364.6C1010.5,1366.8 1013.4,1371.1 1014.2,1374.8C1015.1,1378.6 1014.0,1383.4 1012.5,1386.8C1011.1,1390.3 1008.2,1392.6 1005.7,1395.4C1003.1,1398.3 999.1,1401.1 997.1,1404.0C995.1,1406.8 996.5,1410.1 993.7,1412.6C990.8,1415.0 984.8,1417.7 980.0,1418.6C975.1,1419.4 969.1,1418.7 964.5,1417.7C960.0,1416.7 955.4,1415.1 952.5,1412.6C949.7,1410.0 948.7,1406.0 947.4,1402.3C946.1,1398.6 945.8,1394.0 944.8,1390.3C943.8,1386.6 941.2,1383.1 941.4,1380.0C941.5,1376.8 943.2,1374.3 945.7,1371.4C948.1,1368.6 952.0,1365.3 956.0,1362.8C960.0,1360.4 965.1,1357.7 969.7,1356.8Z" fill="#1a1a1a" stroke="#1a1a1a" stroke-width="2.2" opacity="0.5" filter="url(#bl15)"/>
<path d="M969.7,1356.8C974.2,1356.0 979.1,1357.0 983.4,1357.7C987.7,1358.4 991.4,1360.0 995.4,1361.1C999.4,1362.3 1004.2,1362.3 1007.4,1364.6C1010.5,1366.8 1013.4,1371.1 1014.2,1374.8C1015.1,1378.6 1014.0,1383.4 1012.5,1386.8C1011.1,1390.3 1008.2,1392.6 1005.7,1395.4C1003.1,1398.3 999.1,1401.1 997.1,1404.0C995.1,1406.8 996.5,1410.1 993.7,1412.6C990.8,1415.0 984.8,1417.7 980.0,1418.6C975.1,1419.4 969.1,1418.7 964.5,1417.7C960.0,1416.7 955.4,1415.1 952.5,1412.6C949.7,1410.0 948.7,1406.0 947.4,1402.3C946.1,1398.6 945.8,1394.0 944.8,1390.3C943.8,1386.6 941.2,1383.1 941.4,1380.0C941.5,1376.8 943.2,1374.3 945.7,1371.4C948.1,1368.6 952.0,1365.3 956.0,1362.8C960.0,1360.4 965.1,1357.7 969.7,1356.8Z" fill="#1a1a1a" filter="url(#bl)"/>

<rect x="1034.0" y="1434.8" width="17.5" height="2.9" fill="#000"/>
</g>
<rect x="894.7" y="1314.0" width="162.0" height="130.6" fill="none" stroke="#000" stroke-width="1.9"/>
<g clip-path="url(#c13)">
<rect x="24.2" y="1555.1" width="162.9" height="130.3" fill="#fff"/>
<rect x="24.2" y="1555.1" width="162.9" height="130.3" fill="url(#s13)"/>
<rect x="24.2" y="1555.1" width="162.9" height="130.3" fill="url(#r13)"/>

<path d="M62.9,1618.6C64.4,1614.6 66.6,1609.6 69.7,1606.6C72.8,1603.6 77.4,1601.8 81.7,1600.6C86.0,1599.3 90.8,1598.1 95.4,1598.8C100.0,1599.6 105.3,1601.8 109.1,1604.8C113.0,1607.8 116.3,1612.6 118.6,1616.8C120.8,1621.1 122.4,1626.3 122.8,1630.6C123.3,1634.8 122.7,1638.8 121.1,1642.6C119.6,1646.3 116.0,1650.0 113.4,1652.8C110.8,1655.7 109.3,1658.0 105.7,1659.7C102.1,1661.4 96.6,1663.4 92.0,1663.1C87.4,1662.8 82.6,1660.8 78.3,1658.0C74.0,1655.1 69.3,1650.6 66.3,1646.0C63.3,1641.4 60.9,1635.1 60.3,1630.6C59.7,1626.0 61.3,1622.6 62.9,1618.6Z" fill="#1a1a1a" stroke="#1a1a1a" stroke-width="2.2" opacity="0.5" filter="url(#bl15)"/>
<path d="M62.9,1618.6C64.4,1614.6 66.6,1609.6 69.7,1606.6C72.8,1603.6 77.4,1601.8 81.7,1600.6C86.0,1599.3 90.8,1598.1 95.4,1598.8C100.0,1599.6 105.3,1601.8 109.1,1604.8C113.0,1607.8 116.3,1612.6 118.6,1616.8C120.8,1621.1 122.4,1626.3 122.8,1630.6C123.3,1634.8 122.7,1638.8 121.1,1642.6C119.6,1646.3 116.0,1650.0 113.4,1652.8C110.8,1655.7 109.3,1658.0 105.7,1659.7C102.1,1661.4 96.6,1663.4 92.0,1663.1C87.4,1662.8 82.6,1660.8 78.3,1658.0C74.0,1655.1 69.3,1650.6 66.3,1646.0C63.3,1641.4 60.9,1635.1 60.3,1630.6C59.7,1626.0 61.3,1622.6 62.9,1618.6Z" fill="#1a1a1a" filter="url(#bl)"/>

<rect x="164.4" y="1678.9" width="17.5" height="2.9" fill="#000"/>
</g>
<rect x="24.2" y="1555.1" width="162.9" height="130.3" fill="none" stroke="#000" stroke-width="1.9"/>
<g clip-path="url(#c14)">
<rect x="196.1" y="1555.1" width="162.9" height="130.3" fill="#fff"/>
<rect x="196.1" y="1555.1" width="162.9" height="130.3" fill="url(#s14)"/>
<rect x="196.1" y="1555.1" width="162.9" height="130.3" fill="url(#r14)"/>

<path d="M251.4,1606.6C253.8,1602.0 256.2,1598.7 260.0,1596.3C263.7,1593.8 270.8,1592.3 273.7,1592.0C276.5,1591.7 274.8,1593.6 277.1,1594.6C279.4,1595.6 284.0,1596.3 287.4,1598.0C290.8,1599.7 295.2,1601.4 297.7,1604.8C300.1,1608.3 300.5,1614.8 302.0,1618.6C303.4,1622.3 306.1,1623.7 306.2,1627.1C306.4,1630.6 304.8,1635.4 302.8,1639.1C300.8,1642.8 297.4,1647.0 294.2,1649.4C291.1,1651.8 287.7,1653.1 284.0,1653.7C280.2,1654.3 276.0,1654.1 272.0,1652.8C268.0,1651.6 263.7,1648.8 260.0,1646.0C256.2,1643.1 252.1,1639.4 249.7,1635.7C247.2,1632.0 245.1,1628.6 245.4,1623.7C245.7,1618.8 249.0,1611.1 251.4,1606.6Z" fill="#1a1a1a" stroke="#1a1a1a" stroke-width="2.2" opacity="0.5" filter="url(#bl15)"/>
<path d="M251.4,1606.6C253.8,1602.0 256.2,1598.7 260.0,1596.3C263.7,1593.8 270.8,1592.3 273.7,1592.0C276.5,1591.7 274.8,1593.6 277.1,1594.6C279.4,1595.6 284.0,1596.3 287.4,1598.0C290.8,1599.7 295.2,1601.4 297.7,1604.8C300.1,1608.3 300.5,1614.8 302.0,1618.6C303.4,1622.3 306.1,1623.7 306.2,1627.1C306.4,1630.6 304.8,1635.4 302.8,1639.1C300.8,1642.8 297.4,1647.0 294.2,1649.4C291.1,1651.8 287.7,1653.1 284.0,1653.7C280.2,1654.3 276.0,1654.1 272.0,1652.8C268.0,1651.6 263.7,1648.8 260.0,1646.0C256.2,1643.1 252.1,1639.4 249.7,1635.7C247.2,1632.0 245.1,1628.6 245.4,1623.7C245.7,1618.8 249.0,1611.1 251.4,1606.6Z" fill="#1a1a1a" filter="url(#bl)"/>

<rect x="336.3" y="1679.8" width="17.5" height="2.9" fill="#000"/>
</g>
<rect x="196.1" y="1555.1" width="162.9" height="130.3" fill="none" stroke="#000" stroke-width="1.9"/>
<g clip-path="url(#c15)">
<rect x="368.5" y="1555.1" width="162.5" height="130.3" fill="#fff"/>
<rect x="368.5" y="1555.1" width="162.5" height="130.3" fill="url(#s15)"/>
<rect x="368.5" y="1555.1" width="162.5" height="130.3" fill="url(#r15)"/>

<path d="M451.7,1588.6C453.7,1587.3 458.6,1585.0 462.0,1585.1C465.4,1585.3 469.4,1587.0 472.3,1589.4C475.1,1591.9 477.1,1596.3 479.1,1599.7C481.1,1603.1 483.1,1606.6 484.3,1610.0C485.4,1613.4 486.6,1617.1 486.0,1620.3C485.4,1623.4 482.6,1625.7 480.8,1628.8C479.1,1632.0 477.7,1635.7 475.7,1639.1C473.7,1642.6 471.7,1646.3 468.8,1649.4C466.0,1652.6 462.3,1656.8 458.6,1658.0C454.8,1659.1 450.3,1657.7 446.6,1656.3C442.8,1654.8 438.7,1652.8 436.3,1649.4C433.8,1646.0 432.4,1640.0 432.0,1635.7C431.6,1631.4 432.1,1627.4 433.7,1623.7C435.3,1620.0 438.7,1616.6 441.4,1613.4C444.1,1610.3 448.0,1607.4 450.0,1604.8C452.0,1602.3 453.4,1600.0 453.4,1598.0C453.4,1596.0 450.3,1594.4 450.0,1592.9C449.7,1591.3 449.7,1589.9 451.7,1588.6Z" fill="#1a1a1a" stroke="#1a1a1a" stroke-width="2.2" opacity="0.5" filter="url(#bl15)"/>
<path d="M451.7,1588.6C453.7,1587.3 458.6,1585.0 462.0,1585.1C465.4,1585.3 469.4,1587.0 472.3,1589.4C475.1,1591.9 477.1,1596.3 479.1,1599.7C481.1,1603.1 483.1,1606.6 484.3,1610.0C485.4,1613.4 486.6,1617.1 486.0,1620.3C485.4,1623.4 482.6,1625.7 480.8,1628.8C479.1,1632.0 477.7,1635.7 475.7,1639.1C473.7,1642.6 471.7,1646.3 468.8,1649.4C466.0,1652.6 462.3,1656.8 458.6,1658.0C454.8,1659.1 450.3,1657.7 446.6,1656.3C442.8,1654.8 438.7,1652.8 436.3,1649.4C433.8,1646.0 432.4,1640.0 432.0,1635.7C431.6,1631.4 432.1,1627.4 433.7,1623.7C435.3,1620.0 438.7,1616.6 441.4,1613.4C444.1,1610.3 448.0,1607.4 450.0,1604.8C452.0,1602.3 453.4,1600.0 453.4,1598.0C453.4,1596.0 450.3,1594.4 450.0,1592.9C449.7,1591.3 449.7,1589.9 451.7,1588.6Z" fill="#1a1a1a" filter="url(#bl)"/>

<rect x="508.3" y="1679.2" width="17.5" height="2.9" fill="#fff"/>
</g>
<rect x="368.5" y="1555.1" width="162.5" height="130.3" fill="none" stroke="#000" stroke-width="1.9"/>
<g clip-path="url(#c16)">
<rect x="553.2" y="1555.1" width="162.0" height="130.6" fill="#ebebeb"/>
<rect x="553.2" y="1555.1" width="162.0" height="130.6" fill="url(#s16)"/>
<rect x="553.2" y="1555.1" width="162.0" height="130.6" fill="url(#r16)"/>
<circle cx="564.8" cy="1598.8" r="2.2" fill="#9a9a9a" opacity="0.7"/><circle cx="571.7" cy="1610.0" r="2" fill="#9a9a9a" opacity="0.7"/><circle cx="567.4" cy="1628.8" r="2" fill="#9a9a9a" opacity="0.7"/><circle cx="600.0" cy="1652.0" r="2" fill="#9a9a9a" opacity="0.7"/><circle cx="565.7" cy="1653.7" r="1.6" fill="#9a9a9a" opacity="0.7"/>
<path d="M612.8,1596.3C615.5,1594.4 619.7,1594.3 623.1,1593.7C626.5,1593.1 630.0,1592.4 633.4,1592.9C636.8,1593.3 640.2,1595.1 643.7,1596.3C647.1,1597.4 651.1,1597.7 654.0,1599.7C656.8,1601.7 659.4,1605.4 660.8,1608.3C662.2,1611.1 663.1,1614.0 662.5,1616.8C662.0,1619.7 657.7,1621.7 657.4,1625.4C657.1,1629.1 660.8,1634.6 660.8,1639.1C660.8,1643.7 659.7,1649.4 657.4,1652.8C655.1,1656.3 651.1,1659.1 647.1,1659.7C643.1,1660.3 637.7,1658.3 633.4,1656.3C629.1,1654.3 624.2,1651.4 621.4,1647.7C618.5,1644.0 618.0,1637.7 616.2,1634.0C614.5,1630.3 612.7,1628.6 611.1,1625.4C609.5,1622.3 607.5,1618.6 606.8,1615.1C606.1,1611.7 605.8,1608.0 606.8,1604.8C607.8,1601.7 610.1,1598.1 612.8,1596.3Z" fill="#1a1a1a" stroke="#1a1a1a" stroke-width="2.2" opacity="0.5" filter="url(#bl15)"/>
<path d="M612.8,1596.3C615.5,1594.4 619.7,1594.3 623.1,1593.7C626.5,1593.1 630.0,1592.4 633.4,1592.9C636.8,1593.3 640.2,1595.1 643.7,1596.3C647.1,1597.4 651.1,1597.7 654.0,1599.7C656.8,1601.7 659.4,1605.4 660.8,1608.3C662.2,1611.1 663.1,1614.0 662.5,1616.8C662.0,1619.7 657.7,1621.7 657.4,1625.4C657.1,1629.1 660.8,1634.6 660.8,1639.1C660.8,1643.7 659.7,1649.4 657.4,1652.8C655.1,1656.3 651.1,1659.1 647.1,1659.7C643.1,1660.3 637.7,1658.3 633.4,1656.3C629.1,1654.3 624.2,1651.4 621.4,1647.7C618.5,1644.0 618.0,1637.7 616.2,1634.0C614.5,1630.3 612.7,1628.6 611.1,1625.4C609.5,1622.3 607.5,1618.6 606.8,1615.1C606.1,1611.7 605.8,1608.0 606.8,1604.8C607.8,1601.7 610.1,1598.1 612.8,1596.3Z" fill="#1a1a1a" filter="url(#bl)"/>

<rect x="692.6" y="1679.2" width="17.5" height="2.9" fill="#fff"/>
</g>
<rect x="553.2" y="1555.1" width="162.0" height="130.6" fill="none" stroke="#000" stroke-width="1.9"/>
<g clip-path="url(#c17)">
<rect x="725.3" y="1555.1" width="162.5" height="131.1" fill="#fff"/>
<rect x="725.3" y="1555.1" width="162.5" height="131.1" fill="url(#s17)"/>
<rect x="725.3" y="1555.1" width="162.5" height="131.1" fill="url(#r17)"/>
<ellipse cx="770.8" cy="1592.9" rx="8" ry="6.4" fill="#9a9a9a" filter="url(#bl2)"/><ellipse cx="764.0" cy="1615.1" rx="5" ry="4.0" fill="#c4c4c4" filter="url(#bl2)"/><ellipse cx="798.3" cy="1668.3" rx="5" ry="4.0" fill="#c8c8c8" filter="url(#bl2)"/><ellipse cx="760.6" cy="1673.4" rx="3.5" ry="2.8" fill="#c8c8c8" filter="url(#bl2)"/>
<path d="M781.1,1599.7C783.4,1597.3 787.4,1596.1 791.4,1595.4C795.4,1594.7 800.6,1594.7 805.1,1595.4C809.7,1596.1 814.3,1597.6 818.8,1599.7C823.4,1601.8 828.6,1604.6 832.6,1608.3C836.6,1612.0 840.4,1617.4 842.8,1622.0C845.3,1626.6 847.1,1631.1 847.1,1635.7C847.1,1640.3 844.7,1645.4 842.8,1649.4C841.0,1653.4 838.8,1656.6 836.0,1659.7C833.1,1662.8 829.1,1666.8 825.7,1668.3C822.3,1669.7 818.8,1669.7 815.4,1668.3C812.0,1666.8 808.8,1662.8 805.1,1659.7C801.4,1656.6 796.6,1653.4 793.1,1649.4C789.7,1645.4 786.8,1640.3 784.6,1635.7C782.3,1631.1 780.6,1626.3 779.4,1622.0C778.3,1617.7 777.4,1613.7 777.7,1610.0C778.0,1606.3 778.8,1602.1 781.1,1599.7Z" fill="#1a1a1a" stroke="#1a1a1a" stroke-width="2.2" opacity="0.5" filter="url(#bl15)"/>
<path d="M781.1,1599.7C783.4,1597.3 787.4,1596.1 791.4,1595.4C795.4,1594.7 800.6,1594.7 805.1,1595.4C809.7,1596.1 814.3,1597.6 818.8,1599.7C823.4,1601.8 828.6,1604.6 832.6,1608.3C836.6,1612.0 840.4,1617.4 842.8,1622.0C845.3,1626.6 847.1,1631.1 847.1,1635.7C847.1,1640.3 844.7,1645.4 842.8,1649.4C841.0,1653.4 838.8,1656.6 836.0,1659.7C833.1,1662.8 829.1,1666.8 825.7,1668.3C822.3,1669.7 818.8,1669.7 815.4,1668.3C812.0,1666.8 808.8,1662.8 805.1,1659.7C801.4,1656.6 796.6,1653.4 793.1,1649.4C789.7,1645.4 786.8,1640.3 784.6,1635.7C782.3,1631.1 780.6,1626.3 779.4,1622.0C778.3,1617.7 777.4,1613.7 777.7,1610.0C778.0,1606.3 778.8,1602.1 781.1,1599.7Z" fill="#1a1a1a" filter="url(#bl)"/>

<rect x="865.2" y="1677.4" width="17.5" height="2.9" fill="#fff"/>
</g>
<rect x="725.3" y="1555.1" width="162.5" height="131.1" fill="none" stroke="#000" stroke-width="1.9"/>
<g clip-path="url(#c18)">
<rect x="897.6" y="1555.1" width="162.5" height="131.1" fill="#fff"/>
<rect x="897.6" y="1555.1" width="162.5" height="131.1" fill="url(#s18)"/>
<rect x="897.6" y="1555.1" width="162.5" height="131.1" fill="url(#r18)"/>

<path d="M959.4,1596.3C962.4,1593.7 966.2,1591.9 969.7,1591.1C973.1,1590.4 976.5,1590.9 980.0,1592.0C983.4,1593.1 987.4,1595.3 990.2,1598.0C993.1,1600.7 995.4,1604.3 997.1,1608.3C998.8,1612.3 1000.1,1617.4 1000.5,1622.0C1001.0,1626.6 999.4,1632.0 999.7,1635.7C1000.0,1639.4 1002.7,1641.1 1002.2,1644.3C1001.8,1647.4 999.4,1652.0 997.1,1654.6C994.8,1657.1 992.0,1659.7 988.5,1659.7C985.1,1659.7 980.5,1656.0 976.5,1654.6C972.5,1653.1 968.0,1653.4 964.5,1651.1C961.1,1648.8 958.2,1644.3 956.0,1640.8C953.7,1637.4 952.1,1634.3 950.8,1630.6C949.5,1626.8 948.1,1622.6 948.2,1618.6C948.4,1614.6 949.8,1610.3 951.7,1606.6C953.5,1602.8 956.4,1598.8 959.4,1596.3Z" fill="#0e0e0e" stroke="#0e0e0e" stroke-width="2.2" opacity="0.5" filter="url(#bl15)"/>
<path d="M959.4,1596.3C962.4,1593.7 966.2,1591.9 969.7,1591.1C973.1,1590.4 976.5,1590.9 980.0,1592.0C983.4,1593.1 987.4,1595.3 990.2,1598.0C993.1,1600.7 995.4,1604.3 997.1,1608.3C998.8,1612.3 1000.1,1617.4 1000.5,1622.0C1001.0,1626.6 999.4,1632.0 999.7,1635.7C1000.0,1639.4 1002.7,1641.1 1002.2,1644.3C1001.8,1647.4 999.4,1652.0 997.1,1654.6C994.8,1657.1 992.0,1659.7 988.5,1659.7C985.1,1659.7 980.5,1656.0 976.5,1654.6C972.5,1653.1 968.0,1653.4 964.5,1651.1C961.1,1648.8 958.2,1644.3 956.0,1640.8C953.7,1637.4 952.1,1634.3 950.8,1630.6C949.5,1626.8 948.1,1622.6 948.2,1618.6C948.4,1614.6 949.8,1610.3 951.7,1606.6C953.5,1602.8 956.4,1598.8 959.4,1596.3Z" fill="#0e0e0e" filter="url(#bl)"/>
<polygon points="1051.9,1556.0 1060.2,1556.0 1060.2,1569.7" fill="#111"/>
<rect x="1037.4" y="1677.9" width="17.5" height="2.9" fill="#000"/>
</g>
<rect x="897.6" y="1555.1" width="162.5" height="131.1" fill="none" stroke="#000" stroke-width="1.9"/>
<g clip-path="url(#c19)">
<rect x="24.2" y="1697.1" width="162.9" height="131.1" fill="#fbfbfb"/>
<circle cx="157.1" cy="1798.3" r="3.9" fill="#8a8a8a" opacity="0.9" filter="url(#bl)"/><circle cx="143.4" cy="1776.8" r="2.6" fill="#8a8a8a" opacity="0.75" filter="url(#bl)"/><circle cx="145.1" cy="1785.4" r="2.2" fill="#8a8a8a" opacity="0.7" filter="url(#bl)"/><circle cx="113.4" cy="1798.3" r="1.9" fill="#8a8a8a" opacity="0.6" filter="url(#bl)"/><circle cx="181.1" cy="1770.8" r="2.2" fill="#8a8a8a" opacity="0.6" filter="url(#bl)"/><circle cx="132.3" cy="1744.3" r="1.5" fill="#8a8a8a" opacity="0.5" filter="url(#bl)"/><circle cx="147.7" cy="1758.0" r="1.5" fill="#8a8a8a" opacity="0.5" filter="url(#bl)"/><circle cx="173.4" cy="1757.1" r="1.5" fill="#8a8a8a" opacity="0.5" filter="url(#bl)"/><circle cx="175.1" cy="1722.9" r="1.8" fill="#8a8a8a" opacity="0.5" filter="url(#bl)"/><circle cx="147.7" cy="1820.6" r="1.5" fill="#8a8a8a" opacity="0.5" filter="url(#bl)"/><circle cx="159.7" cy="1704.9" r="1.2" fill="#8a8a8a" opacity="0.5" filter="url(#bl)"/><circle cx="178.5" cy="1703.1" r="1.4" fill="#8a8a8a" opacity="0.5" filter="url(#bl)"/><circle cx="122.8" cy="1740.8" r="1.2" fill="#8a8a8a" opacity="0.4" filter="url(#bl)"/><circle cx="100.6" cy="1812.0" r="1.2" fill="#8a8a8a" opacity="0.4" filter="url(#bl)"/>
<path d="M37.1,1781.1C39.0,1777.1 42.0,1772.0 45.7,1769.1C49.4,1766.3 54.9,1764.6 59.4,1764.0C64.0,1763.4 68.6,1764.3 73.1,1765.7C77.7,1767.1 83.1,1769.4 86.8,1772.6C90.6,1775.7 93.1,1780.3 95.4,1784.6C97.7,1788.8 100.0,1793.7 100.6,1798.3C101.1,1802.8 100.6,1808.0 98.8,1812.0C97.1,1816.0 94.0,1819.8 90.3,1822.3C86.6,1824.7 81.7,1826.1 76.6,1826.5C71.4,1827.0 64.6,1826.4 59.4,1824.8C54.3,1823.3 49.4,1820.4 45.7,1817.1C42.0,1813.8 39.0,1809.1 37.1,1805.1C35.3,1801.1 34.6,1797.1 34.6,1793.1C34.6,1789.1 35.3,1785.1 37.1,1781.1Z" fill="#1a1a1a" stroke="#1a1a1a" stroke-width="2.2" opacity="0.5" filter="url(#bl15)"/>
<path d="M37.1,1781.1C39.0,1777.1 42.0,1772.0 45.7,1769.1C49.4,1766.3 54.9,1764.6 59.4,1764.0C64.0,1763.4 68.6,1764.3 73.1,1765.7C77.7,1767.1 83.1,1769.4 86.8,1772.6C90.6,1775.7 93.1,1780.3 95.4,1784.6C97.7,1788.8 100.0,1793.7 100.6,1798.3C101.1,1802.8 100.6,1808.0 98.8,1812.0C97.1,1816.0 94.0,1819.8 90.3,1822.3C86.6,1824.7 81.7,1826.1 76.6,1826.5C71.4,1827.0 64.6,1826.4 59.4,1824.8C54.3,1823.3 49.4,1820.4 45.7,1817.1C42.0,1813.8 39.0,1809.1 37.1,1805.1C35.3,1801.1 34.6,1797.1 34.6,1793.1C34.6,1789.1 35.3,1785.1 37.1,1781.1Z" fill="#1a1a1a" filter="url(#bl)"/>

<rect x="164.4" y="1821.1" width="17.5" height="2.9" fill="#666"/>
</g>
<rect x="24.2" y="1697.1" width="162.9" height="131.1" fill="none" stroke="#000" stroke-width="1.9"/>
<g clip-path="url(#c20)">
<rect x="196.1" y="1697.1" width="162.9" height="131.1" fill="#fff"/>
<rect x="196.1" y="1697.1" width="162.9" height="131.1" fill="url(#s20)"/>
<rect x="196.1" y="1697.1" width="162.9" height="131.1" fill="url(#r20)"/>

<path d="M258.2,1731.4C260.1,1727.7 263.4,1726.1 266.8,1724.6C270.2,1723.0 274.8,1722.0 278.8,1722.0C282.8,1722.0 287.1,1722.7 290.8,1724.6C294.5,1726.4 298.4,1729.4 301.1,1733.1C303.8,1736.8 306.0,1742.3 307.1,1746.8C308.2,1751.4 308.4,1756.0 308.0,1760.6C307.5,1765.1 305.7,1769.7 304.5,1774.3C303.4,1778.8 303.4,1783.7 301.1,1788.0C298.8,1792.3 294.8,1797.1 290.8,1800.0C286.8,1802.8 282.2,1804.6 277.1,1805.1C272.0,1805.7 264.5,1805.1 260.0,1803.4C255.4,1801.7 252.1,1798.0 249.7,1794.8C247.2,1791.7 245.7,1788.3 245.4,1784.6C245.1,1780.8 246.7,1776.6 248.0,1772.6C249.2,1768.6 251.8,1764.8 253.1,1760.6C254.4,1756.3 254.8,1751.7 255.7,1746.8C256.5,1742.0 256.4,1735.1 258.2,1731.4Z" fill="#1a1a1a" stroke="#1a1a1a" stroke-width="2.2" opacity="0.5" filter="url(#bl15)"/>
<path d="M258.2,1731.4C260.1,1727.7 263.4,1726.1 266.8,1724.6C270.2,1723.0 274.8,1722.0 278.8,1722.0C282.8,1722.0 287.1,1722.7 290.8,1724.6C294.5,1726.4 298.4,1729.4 301.1,1733.1C303.8,1736.8 306.0,1742.3 307.1,1746.8C308.2,1751.4 308.4,1756.0 308.0,1760.6C307.5,1765.1 305.7,1769.7 304.5,1774.3C303.4,1778.8 303.4,1783.7 301.1,1788.0C298.8,1792.3 294.8,1797.1 290.8,1800.0C286.8,1802.8 282.2,1804.6 277.1,1805.1C272.0,1805.7 264.5,1805.1 260.0,1803.4C255.4,1801.7 252.1,1798.0 249.7,1794.8C247.2,1791.7 245.7,1788.3 245.4,1784.6C245.1,1780.8 246.7,1776.6 248.0,1772.6C249.2,1768.6 251.8,1764.8 253.1,1760.6C254.4,1756.3 254.8,1751.7 255.7,1746.8C256.5,1742.0 256.4,1735.1 258.2,1731.4Z" fill="#1a1a1a" filter="url(#bl)"/>

<rect x="336.3" y="1822.6" width="17.5" height="2.9" fill="#777"/>
</g>
<rect x="196.1" y="1697.1" width="162.9" height="131.1" fill="none" stroke="#000" stroke-width="1.9"/>
<g clip-path="url(#c21)">
<rect x="368.5" y="1697.1" width="162.5" height="130.3" fill="#f8f8f8"/>
<rect x="368.5" y="1697.1" width="162.5" height="130.3" fill="url(#s21)"/>
<rect x="368.5" y="1697.1" width="162.5" height="130.3" fill="url(#r21)"/>
<circle cx="408.7" cy="1753.3" r="1.2" fill="#666" opacity="0.5"/><circle cx="396.1" cy="1750.4" r="1.2" fill="#666" opacity="0.5"/><circle cx="514.7" cy="1808.6" r="1.6" fill="#666" opacity="0.5"/><circle cx="406.5" cy="1787.7" r="1.0" fill="#666" opacity="0.5"/><circle cx="398.9" cy="1753.6" r="1.0" fill="#666" opacity="0.5"/><circle cx="516.1" cy="1810.8" r="1.7" fill="#666" opacity="0.5"/><circle cx="496.4" cy="1760.5" r="1.1" fill="#666" opacity="0.5"/><circle cx="469.5" cy="1803.2" r="1.7" fill="#666" opacity="0.5"/><circle cx="508.8" cy="1752.0" r="1.4" fill="#666" opacity="0.5"/><circle cx="476.4" cy="1785.2" r="0.9" fill="#666" opacity="0.5"/><circle cx="445.6" cy="1752.2" r="1.8" fill="#666" opacity="0.5"/><circle cx="506.5" cy="1788.6" r="1.1" fill="#666" opacity="0.5"/><circle cx="513.2" cy="1790.5" r="1.8" fill="#666" opacity="0.5"/><circle cx="503.8" cy="1785.4" r="1.2" fill="#666" opacity="0.5"/><circle cx="465.1" cy="1779.3" r="0.9" fill="#666" opacity="0.5"/><circle cx="419.5" cy="1809.6" r="0.8" fill="#666" opacity="0.5"/><circle cx="379.3" cy="1794.8" r="1.0" fill="#666" opacity="0.5"/><circle cx="455.1" cy="1782.5" r="1.1" fill="#666" opacity="0.5"/><circle cx="527.0" cy="1760.6" r="1.2" fill="#666" opacity="0.5"/><circle cx="403.5" cy="1795.3" r="1.0" fill="#666" opacity="0.5"/><circle cx="427.3" cy="1804.3" r="1.1" fill="#666" opacity="0.5"/><circle cx="458.8" cy="1816.8" r="0.8" fill="#666" opacity="0.5"/><circle cx="381.6" cy="1763.3" r="1.6" fill="#666" opacity="0.5"/><circle cx="467.7" cy="1764.0" r="1.1" fill="#666" opacity="0.5"/><circle cx="399.6" cy="1781.5" r="0.8" fill="#666" opacity="0.5"/><circle cx="480.4" cy="1816.2" r="1.8" fill="#666" opacity="0.5"/><circle cx="486.2" cy="1821.2" r="0.7" fill="#666" opacity="0.5"/><circle cx="417.0" cy="1821.7" r="1.6" fill="#666" opacity="0.5"/><circle cx="435.8" cy="1819.9" r="1.4" fill="#666" opacity="0.5"/><circle cx="499.1" cy="1768.4" r="0.9" fill="#666" opacity="0.5"/><circle cx="441.1" cy="1756.0" r="1.2" fill="#666" opacity="0.5"/><circle cx="521.5" cy="1771.4" r="0.7" fill="#666" opacity="0.5"/><circle cx="379.0" cy="1758.6" r="1.6" fill="#666" opacity="0.5"/><circle cx="428.4" cy="1768.2" r="0.8" fill="#666" opacity="0.5"/><circle cx="524.6" cy="1778.7" r="0.9" fill="#666" opacity="0.5"/><circle cx="381.3" cy="1749.5" r="0.9" fill="#666" opacity="0.5"/><circle cx="477.2" cy="1757.0" r="0.7" fill="#666" opacity="0.5"/><circle cx="448.3" cy="1764.9" r="1.9" fill="#666" opacity="0.5"/><circle cx="391.1" cy="1787.1" r="1.6" fill="#666" opacity="0.5"/><circle cx="435.6" cy="1823.4" r="1.3" fill="#666" opacity="0.5"/><circle cx="409.6" cy="1777.7" r="0.7" fill="#666" opacity="0.5"/><circle cx="437.5" cy="1764.8" r="1.8" fill="#666" opacity="0.5"/><circle cx="501.2" cy="1784.7" r="0.7" fill="#666" opacity="0.5"/><circle cx="411.6" cy="1764.4" r="0.9" fill="#666" opacity="0.5"/><circle cx="408.0" cy="1814.1" r="0.9" fill="#666" opacity="0.5"/><circle cx="380.0" cy="1818.7" r="1.4" fill="#666" opacity="0.5"/><circle cx="525.9" cy="1777.1" r="1.8" fill="#666" opacity="0.5"/><circle cx="473.6" cy="1807.8" r="1.6" fill="#666" opacity="0.5"/><circle cx="448.8" cy="1752.5" r="1.0" fill="#666" opacity="0.5"/><circle cx="507.8" cy="1816.5" r="1.8" fill="#666" opacity="0.5"/><circle cx="424.3" cy="1797.2" r="1.7" fill="#666" opacity="0.5"/><circle cx="471.9" cy="1809.7" r="1.3" fill="#666" opacity="0.5"/><circle cx="473.8" cy="1799.5" r="1.0" fill="#666" opacity="0.5"/><circle cx="515.4" cy="1820.9" r="0.8" fill="#666" opacity="0.5"/><circle cx="522.9" cy="1821.4" r="1.5" fill="#666" opacity="0.5"/><circle cx="379.0" cy="1816.4" r="0.9" fill="#666" opacity="0.5"/><circle cx="522.5" cy="1798.0" r="0.8" fill="#666" opacity="0.5"/><circle cx="398.0" cy="1795.5" r="1.4" fill="#666" opacity="0.5"/><circle cx="488.0" cy="1818.7" r="1.0" fill="#666" opacity="0.5"/><circle cx="372.6" cy="1818.3" r="0.7" fill="#666" opacity="0.5"/><circle cx="508.2" cy="1754.3" r="1.7" fill="#666" opacity="0.5"/><circle cx="493.7" cy="1814.7" r="1.4" fill="#666" opacity="0.5"/><circle cx="508.6" cy="1761.1" r="1.5" fill="#666" opacity="0.5"/><circle cx="423.4" cy="1815.8" r="1.6" fill="#666" opacity="0.5"/><circle cx="445.3" cy="1786.9" r="0.7" fill="#666" opacity="0.5"/><circle cx="377.4" cy="1792.3" r="1.3" fill="#666" opacity="0.5"/><circle cx="506.4" cy="1793.3" r="0.9" fill="#666" opacity="0.5"/><circle cx="428.4" cy="1806.0" r="1.3" fill="#666" opacity="0.5"/><circle cx="373.7" cy="1811.5" r="1.7" fill="#666" opacity="0.5"/><circle cx="385.3" cy="1788.2" r="1.2" fill="#666" opacity="0.5"/><ellipse cx="384.9" cy="1788.0" rx="6" ry="4" fill="#808080" opacity="0.9" filter="url(#bl)"/><ellipse cx="432.0" cy="1818.8" rx="4" ry="4" fill="#999" opacity="0.9" filter="url(#bl)"/>
<path d="M400.3,1764.0C402.7,1760.6 406.9,1755.8 410.6,1753.7C414.3,1751.6 418.6,1750.7 422.6,1751.1C426.6,1751.6 431.1,1753.8 434.6,1756.3C438.0,1758.7 441.1,1762.1 443.1,1765.7C445.1,1769.3 446.1,1773.4 446.6,1777.7C447.0,1782.0 446.6,1787.4 445.7,1791.4C444.8,1795.4 443.3,1798.6 441.4,1801.7C439.6,1804.8 437.4,1808.1 434.6,1810.3C431.7,1812.4 428.0,1814.6 424.3,1814.6C420.6,1814.6 416.0,1812.7 412.3,1810.3C408.6,1807.8 404.6,1803.7 402.0,1800.0C399.4,1796.3 397.9,1792.3 396.9,1788.0C395.9,1783.7 395.4,1778.3 396.0,1774.3C396.6,1770.3 397.9,1767.4 400.3,1764.0Z" fill="#1a1a1a" stroke="#1a1a1a" stroke-width="2.2" opacity="0.5" filter="url(#bl15)"/>
<path d="M400.3,1764.0C402.7,1760.6 406.9,1755.8 410.6,1753.7C414.3,1751.6 418.6,1750.7 422.6,1751.1C426.6,1751.6 431.1,1753.8 434.6,1756.3C438.0,1758.7 441.1,1762.1 443.1,1765.7C445.1,1769.3 446.1,1773.4 446.6,1777.7C447.0,1782.0 446.6,1787.4 445.7,1791.4C444.8,1795.4 443.3,1798.6 441.4,1801.7C439.6,1804.8 437.4,1808.1 434.6,1810.3C431.7,1812.4 428.0,1814.6 424.3,1814.6C420.6,1814.6 416.0,1812.7 412.3,1810.3C408.6,1807.8 404.6,1803.7 402.0,1800.0C399.4,1796.3 397.9,1792.3 396.9,1788.0C395.9,1783.7 395.4,1778.3 396.0,1774.3C396.6,1770.3 397.9,1767.4 400.3,1764.0Z" fill="#1a1a1a" filter="url(#bl)"/>

<rect x="508.3" y="1821.8" width="17.5" height="2.9" fill="#666"/>
</g>
<rect x="368.5" y="1697.1" width="162.5" height="130.3" fill="none" stroke="#000" stroke-width="1.9"/>
<g clip-path="url(#c22)">
<rect x="553.2" y="1696.3" width="162.0" height="131.1" fill="url(#lg41)"/>
<circle cx="600.8" cy="1739.1" r="2.3" fill="#666" opacity="0.8" filter="url(#bl)"/><circle cx="658.2" cy="1708.3" r="1.6" fill="#666" opacity="0.8" filter="url(#bl)"/><circle cx="652.2" cy="1720.3" r="1.4" fill="#666" opacity="0.8" filter="url(#bl)"/>
<path d="M609.4,1736.6C611.7,1733.9 616.0,1732.1 619.7,1730.6C623.4,1729.0 628.0,1727.4 631.7,1727.1C635.4,1726.9 638.5,1727.9 642.0,1728.9C645.4,1729.9 649.4,1731.0 652.2,1733.1C655.1,1735.3 657.7,1738.6 659.1,1741.7C660.5,1744.8 660.0,1748.3 660.8,1752.0C661.7,1755.7 663.1,1759.7 664.2,1764.0C665.4,1768.3 667.7,1773.4 667.7,1777.7C667.7,1782.0 666.2,1786.3 664.2,1789.7C662.2,1793.1 659.1,1796.4 655.7,1798.3C652.2,1800.1 647.7,1801.1 643.7,1800.8C639.7,1800.6 635.1,1798.7 631.7,1796.6C628.2,1794.4 626.2,1789.1 623.1,1788.0C620.0,1786.8 616.2,1789.7 612.8,1789.7C609.4,1789.7 605.4,1789.7 602.5,1788.0C599.7,1786.3 596.5,1782.6 595.7,1779.4C594.8,1776.3 596.5,1772.8 597.4,1769.1C598.2,1765.4 599.4,1760.8 600.8,1757.1C602.2,1753.4 604.5,1750.3 606.0,1746.8C607.4,1743.4 607.1,1739.3 609.4,1736.6Z" fill="#1a1a1a" stroke="#1a1a1a" stroke-width="2.2" opacity="0.5" filter="url(#bl15)"/>
<path d="M609.4,1736.6C611.7,1733.9 616.0,1732.1 619.7,1730.6C623.4,1729.0 628.0,1727.4 631.7,1727.1C635.4,1726.9 638.5,1727.9 642.0,1728.9C645.4,1729.9 649.4,1731.0 652.2,1733.1C655.1,1735.3 657.7,1738.6 659.1,1741.7C660.5,1744.8 660.0,1748.3 660.8,1752.0C661.7,1755.7 663.1,1759.7 664.2,1764.0C665.4,1768.3 667.7,1773.4 667.7,1777.7C667.7,1782.0 666.2,1786.3 664.2,1789.7C662.2,1793.1 659.1,1796.4 655.7,1798.3C652.2,1800.1 647.7,1801.1 643.7,1800.8C639.7,1800.6 635.1,1798.7 631.7,1796.6C628.2,1794.4 626.2,1789.1 623.1,1788.0C620.0,1786.8 616.2,1789.7 612.8,1789.7C609.4,1789.7 605.4,1789.7 602.5,1788.0C599.7,1786.3 596.5,1782.6 595.7,1779.4C594.8,1776.3 596.5,1772.8 597.4,1769.1C598.2,1765.4 599.4,1760.8 600.8,1757.1C602.2,1753.4 604.5,1750.3 606.0,1746.8C607.4,1743.4 607.1,1739.3 609.4,1736.6Z" fill="#1a1a1a" filter="url(#bl)"/>
<ellipse cx="621.4" cy="1738.3" rx="9" ry="5" fill="#7a7a7a" filter="url(#bl2)" transform="rotate(-25 621.4 1738.3)"/>
<rect x="692.6" y="1820.9" width="17.5" height="2.9" fill="#fff"/>
</g>
<rect x="553.2" y="1696.3" width="162.0" height="131.1" fill="none" stroke="#000" stroke-width="1.9"/>
<g clip-path="url(#c23)">
<rect x="725.3" y="1696.3" width="162.5" height="131.1" fill="#fff"/>
<rect x="725.3" y="1696.3" width="162.5" height="131.1" fill="url(#s23)"/>
<rect x="725.3" y="1696.3" width="162.5" height="131.1" fill="url(#r23)"/>

<path d="M781.1,1748.6C783.4,1745.8 787.4,1742.3 791.4,1740.8C795.4,1739.4 800.6,1739.3 805.1,1740.0C809.7,1740.7 814.8,1742.6 818.8,1745.1C822.8,1747.7 826.8,1751.7 829.1,1755.4C831.4,1759.1 832.6,1763.4 832.6,1767.4C832.6,1771.4 831.4,1776.0 829.1,1779.4C826.8,1782.8 822.6,1786.1 818.8,1788.0C815.1,1789.8 810.8,1790.6 806.8,1790.6C802.8,1790.6 798.3,1789.8 794.8,1788.0C791.4,1786.1 788.7,1782.8 786.3,1779.4C783.8,1776.0 781.7,1771.1 780.3,1767.4C778.8,1763.7 777.6,1760.3 777.7,1757.1C777.8,1754.0 778.8,1751.3 781.1,1748.6Z" fill="#1a1a1a" stroke="#1a1a1a" stroke-width="2.2" opacity="0.5" filter="url(#bl15)"/>
<path d="M781.1,1748.6C783.4,1745.8 787.4,1742.3 791.4,1740.8C795.4,1739.4 800.6,1739.3 805.1,1740.0C809.7,1740.7 814.8,1742.6 818.8,1745.1C822.8,1747.7 826.8,1751.7 829.1,1755.4C831.4,1759.1 832.6,1763.4 832.6,1767.4C832.6,1771.4 831.4,1776.0 829.1,1779.4C826.8,1782.8 822.6,1786.1 818.8,1788.0C815.1,1789.8 810.8,1790.6 806.8,1790.6C802.8,1790.6 798.3,1789.8 794.8,1788.0C791.4,1786.1 788.7,1782.8 786.3,1779.4C783.8,1776.0 781.7,1771.1 780.3,1767.4C778.8,1763.7 777.6,1760.3 777.7,1757.1C777.8,1754.0 778.8,1751.3 781.1,1748.6Z" fill="#1a1a1a" filter="url(#bl)"/>

<rect x="865.2" y="1821.2" width="17.5" height="2.9" fill="#fff"/>
</g>
<rect x="725.3" y="1696.3" width="162.5" height="131.1" fill="none" stroke="#000" stroke-width="1.9"/>
<g clip-path="url(#c24)">
<rect x="897.6" y="1696.3" width="162.5" height="131.1" fill="url(#rg43)"/>
<line x1="1034.8" y1="1827.4" x2="1060.5" y2="1800.0" stroke="#ddd" stroke-width="3"/><line x1="1039.8" y1="1827.4" x2="1065.5" y2="1800.0" stroke="#777" stroke-width="1.5"/>
<path d="M952.5,1733.1C955.1,1730.3 959.4,1727.9 962.8,1726.3C966.2,1724.7 969.7,1724.4 973.1,1723.7C976.5,1723.0 981.1,1721.1 983.4,1722.0C985.7,1722.9 984.5,1727.1 986.8,1728.9C989.1,1730.6 994.0,1730.1 997.1,1732.3C1000.2,1734.4 1003.1,1738.4 1005.7,1741.7C1008.2,1745.0 1010.5,1748.3 1012.5,1752.0C1014.5,1755.7 1017.2,1760.0 1017.7,1764.0C1018.1,1768.0 1016.8,1772.0 1015.1,1776.0C1013.4,1780.0 1010.4,1784.6 1007.4,1788.0C1004.4,1791.4 1000.0,1793.1 997.1,1796.6C994.2,1800.0 992.5,1806.3 990.2,1808.6C988.0,1810.8 986.2,1811.1 983.4,1810.3C980.5,1809.4 976.5,1804.6 973.1,1803.4C969.7,1802.3 965.7,1804.8 962.8,1803.4C960.0,1802.0 957.7,1798.0 956.0,1794.8C954.2,1791.7 954.2,1788.0 952.5,1784.6C950.8,1781.1 947.8,1777.7 945.7,1774.3C943.5,1770.8 940.2,1767.4 939.7,1764.0C939.1,1760.6 941.0,1757.1 942.2,1753.7C943.5,1750.3 945.7,1746.8 947.4,1743.4C949.1,1740.0 950.0,1736.0 952.5,1733.1Z" fill="#1a1a1a" stroke="#1a1a1a" stroke-width="2.2" opacity="0.5" filter="url(#bl15)"/>
<path d="M952.5,1733.1C955.1,1730.3 959.4,1727.9 962.8,1726.3C966.2,1724.7 969.7,1724.4 973.1,1723.7C976.5,1723.0 981.1,1721.1 983.4,1722.0C985.7,1722.9 984.5,1727.1 986.8,1728.9C989.1,1730.6 994.0,1730.1 997.1,1732.3C1000.2,1734.4 1003.1,1738.4 1005.7,1741.7C1008.2,1745.0 1010.5,1748.3 1012.5,1752.0C1014.5,1755.7 1017.2,1760.0 1017.7,1764.0C1018.1,1768.0 1016.8,1772.0 1015.1,1776.0C1013.4,1780.0 1010.4,1784.6 1007.4,1788.0C1004.4,1791.4 1000.0,1793.1 997.1,1796.6C994.2,1800.0 992.5,1806.3 990.2,1808.6C988.0,1810.8 986.2,1811.1 983.4,1810.3C980.5,1809.4 976.5,1804.6 973.1,1803.4C969.7,1802.3 965.7,1804.8 962.8,1803.4C960.0,1802.0 957.7,1798.0 956.0,1794.8C954.2,1791.7 954.2,1788.0 952.5,1784.6C950.8,1781.1 947.8,1777.7 945.7,1774.3C943.5,1770.8 940.2,1767.4 939.7,1764.0C939.1,1760.6 941.0,1757.1 942.2,1753.7C943.5,1750.3 945.7,1746.8 947.4,1743.4C949.1,1740.0 950.0,1736.0 952.5,1733.1Z" fill="#1a1a1a" filter="url(#bl)"/>
<ellipse cx="955.1" cy="1759.7" rx="11" ry="15" fill="#eaeaea" filter="url(#bl2)" transform="rotate(25 955.1 1759.7)"/><ellipse cx="978.2" cy="1752.0" rx="8" ry="6" fill="#8e8e8e" filter="url(#bl2)"/><ellipse cx="964.5" cy="1743.4" rx="9" ry="5" fill="#6a6a6a" filter="url(#bl2)"/>
<rect x="1037.4" y="1821.2" width="17.5" height="2.9" fill="#fff"/>
</g>
<rect x="897.6" y="1696.3" width="162.5" height="131.1" fill="none" stroke="#000" stroke-width="1.9"/>
</g><g id="panelE">
<text x="1164.6" y="1096" font-weight="bold" font-size="33">e</text>
<text x="1296.5" y="1101.5">KYOU1 iPSC clone</text>
<line x1="1296.5" y1="1105.0" x2="1475.5" y2="1105.0" stroke="#111" stroke-width="1.8"/>
<rect x="1340.7" y="1106.6" width="44.4" height="237.4" fill="#f2f2f2"/>
<rect x="1457.3" y="1106.6" width="44.4" height="237.4" fill="#f2f2f2"/>
<rect x="1574.9" y="1106.6" width="44.7" height="237.4" fill="#f2f2f2"/>
<rect x="1694.2" y="1106.6" width="43.9" height="237.4" fill="#f2f2f2"/>
<line x1="1277.6" y1="1107.4" x2="1277.6" y2="1299.5" stroke="#111" stroke-width="1.3"/>
<line x1="1277.6" y1="1318.5" x2="1277.6" y2="1344.1" stroke="#111" stroke-width="1.3"/>
<line x1="1271.4" y1="1306.5" x2="1283.3" y2="1296.1" stroke="#111" stroke-width="1.2"/>
<line x1="1271.4" y1="1324.9" x2="1283.3" y2="1313.3" stroke="#111" stroke-width="1.2"/>
<line x1="1271.0" y1="1344.1" x2="1743.0" y2="1344.1" stroke="#111" stroke-width="1.3"/>
<line x1="1271.5" y1="1184.2" x2="1277.6" y2="1184.2" stroke="#111" stroke-width="1.3"/>
<text x="1267.5" y="1189.3" text-anchor="end" font-size="21">4</text>
<text x="1268" y="1319.5" text-anchor="end" font-size="21">2</text>
<text x="1268" y="1359" text-anchor="end" font-size="21">0</text>
<line x1="1303.1" y1="1344.1" x2="1303.1" y2="1350.0" stroke="#111" stroke-width="1.3"/>
<text x="1303.1" y="1372" text-anchor="middle" font-size="21">0</text>
<line x1="1362.9" y1="1344.1" x2="1362.9" y2="1350.0" stroke="#111" stroke-width="1.3"/>
<text x="1362.9" y="1372" text-anchor="middle" font-size="21">4</text>
<line x1="1422.2" y1="1344.1" x2="1422.2" y2="1350.0" stroke="#111" stroke-width="1.3"/>
<text x="1422.2" y="1372" text-anchor="middle" font-size="21">8</text>
<line x1="1480.0" y1="1344.1" x2="1480.0" y2="1350.0" stroke="#111" stroke-width="1.3"/>
<text x="1480" y="1372" text-anchor="middle" font-size="21">12</text>
<line x1="1539.5" y1="1344.1" x2="1539.5" y2="1350.0" stroke="#111" stroke-width="1.3"/>
<text x="1539.5" y="1372" text-anchor="middle" font-size="21">16</text>
<line x1="1598.2" y1="1344.1" x2="1598.2" y2="1350.0" stroke="#111" stroke-width="1.3"/>
<text x="1598.2" y="1372" text-anchor="middle" font-size="21">20</text>
<line x1="1657.2" y1="1344.1" x2="1657.2" y2="1350.0" stroke="#111" stroke-width="1.3"/>
<text x="1657.2" y="1372" text-anchor="middle" font-size="21">24</text>
<line x1="1716.2" y1="1344.1" x2="1716.2" y2="1350.0" stroke="#111" stroke-width="1.3"/>
<text x="1716.2" y="1372" text-anchor="middle" font-size="21">28</text>
<text x="1520" y="1397.8" text-anchor="middle">co-culture (days)</text>
<text transform="translate(1229.5,1319.6) rotate(-90)">organoid size (mm<tspan dy="-7" dx="3.5" font-size="12.5">2</tspan><tspan dy="7" dx="1.5">)</tspan></text>
<line x1="1303.1" y1="1321.0" x2="1303.1" y2="1328.2" stroke="#b4b4b4" stroke-width="1"/>
<polygon points="1294.2,1327.2 1312.0,1327.2 1303.1,1343.8" fill="#a6a6a6"/>
<line x1="1336.3" y1="1321.0" x2="1336.3" y2="1328.2" stroke="#b4b4b4" stroke-width="1"/>
<polygon points="1327.4,1327.2 1345.2,1327.2 1336.3,1343.8" fill="#a6a6a6"/>
<line x1="1364.5" y1="1321.0" x2="1364.5" y2="1328.2" stroke="#b4b4b4" stroke-width="1"/>
<polygon points="1355.6,1327.2 1373.4,1327.2 1364.5,1343.8" fill="#a6a6a6"/>
<line x1="1392.0" y1="1321.0" x2="1392.0" y2="1328.2" stroke="#b4b4b4" stroke-width="1"/>
<polygon points="1383.1,1327.2 1400.9,1327.2 1392.0,1343.8" fill="#a6a6a6"/>
<line x1="1420.8" y1="1321.0" x2="1420.8" y2="1328.2" stroke="#b4b4b4" stroke-width="1"/>
<polygon points="1411.9,1327.2 1429.7,1327.2 1420.8,1343.8" fill="#a6a6a6"/>
<line x1="1449.6" y1="1321.0" x2="1449.6" y2="1328.2" stroke="#b4b4b4" stroke-width="1"/>
<polygon points="1440.7,1327.2 1458.5,1327.2 1449.6,1343.8" fill="#a6a6a6"/>
<line x1="1479.2" y1="1321.0" x2="1479.2" y2="1328.2" stroke="#b4b4b4" stroke-width="1"/>
<polygon points="1470.3,1327.2 1488.1,1327.2 1479.2,1343.8" fill="#a6a6a6"/>
<line x1="1507.1" y1="1321.0" x2="1507.1" y2="1328.2" stroke="#b4b4b4" stroke-width="1"/>
<polygon points="1498.2,1327.2 1516.0,1327.2 1507.1,1343.8" fill="#a6a6a6"/>
<line x1="1535.9" y1="1321.0" x2="1535.9" y2="1328.2" stroke="#b4b4b4" stroke-width="1"/>
<polygon points="1527.0,1327.2 1544.8,1327.2 1535.9,1343.8" fill="#a6a6a6"/>
<line x1="1570.2" y1="1321.0" x2="1570.2" y2="1328.2" stroke="#b4b4b4" stroke-width="1"/>
<polygon points="1561.3,1327.2 1579.1,1327.2 1570.2,1343.8" fill="#a6a6a6"/>
<line x1="1598.2" y1="1321.0" x2="1598.2" y2="1328.2" stroke="#b4b4b4" stroke-width="1"/>
<polygon points="1589.3,1327.2 1607.1,1327.2 1598.2,1343.8" fill="#a6a6a6"/>
<line x1="1626.4" y1="1321.0" x2="1626.4" y2="1328.2" stroke="#b4b4b4" stroke-width="1"/>
<polygon points="1617.5,1327.2 1635.3,1327.2 1626.4,1343.8" fill="#a6a6a6"/>
<line x1="1657.2" y1="1321.0" x2="1657.2" y2="1328.2" stroke="#b4b4b4" stroke-width="1"/>
<polygon points="1648.3,1327.2 1666.1,1327.2 1657.2,1343.8" fill="#a6a6a6"/>
<line x1="1686.2" y1="1321.0" x2="1686.2" y2="1328.2" stroke="#b4b4b4" stroke-width="1"/>
<polygon points="1677.3,1327.2 1695.1,1327.2 1686.2,1343.8" fill="#a6a6a6"/>
<line x1="1715.0" y1="1321.0" x2="1715.0" y2="1328.2" stroke="#b4b4b4" stroke-width="1"/>
<polygon points="1706.1,1327.2 1723.9,1327.2 1715.0,1343.8" fill="#a6a6a6"/>
<circle cx="1292.9" cy="1189.3" r="3.6" fill="#d6dadc" stroke="#2a2a2a" stroke-width="1.15"/>
<circle cx="1290.6" cy="1191.7" r="3.6" fill="#d6dadc" stroke="#2a2a2a" stroke-width="1.15"/>
<circle cx="1294.1" cy="1197.6" r="3.6" fill="#d6dadc" stroke="#2a2a2a" stroke-width="1.15"/>
<circle cx="1291.2" cy="1201.1" r="3.6" fill="#d6dadc" stroke="#2a2a2a" stroke-width="1.15"/>
<circle cx="1295.3" cy="1212.3" r="3.6" fill="#d6dadc" stroke="#2a2a2a" stroke-width="1.15"/>
<circle cx="1291.2" cy="1216.4" r="3.6" fill="#d6dadc" stroke="#2a2a2a" stroke-width="1.15"/>
<circle cx="1292.9" cy="1222.8" r="3.6" fill="#d6dadc" stroke="#2a2a2a" stroke-width="1.15"/>
<circle cx="1291.8" cy="1238.1" r="3.6" fill="#d6dadc" stroke="#2a2a2a" stroke-width="1.15"/>
<circle cx="1289.4" cy="1209.3" r="3.6" fill="#d6dadc" stroke="#2a2a2a" stroke-width="1.15"/>
<line x1="1291.8" y1="1196.4" x2="1291.8" y2="1223.4" stroke="#222" stroke-width="1.1"/>
<line x1="1288.0" y1="1196.4" x2="1295.6" y2="1196.4" stroke="#222" stroke-width="1.1"/>
<line x1="1288.0" y1="1223.4" x2="1295.6" y2="1223.4" stroke="#222" stroke-width="1.1"/>
<line x1="1284.8" y1="1209.1" x2="1298.8" y2="1209.1" stroke="#000" stroke-width="2.1"/>
<circle cx="1317.6" cy="1187.6" r="3.6" fill="#f5a045" stroke="#3a2408" stroke-width="1.15"/>
<circle cx="1314.1" cy="1192.3" r="3.6" fill="#f5a045" stroke="#3a2408" stroke-width="1.15"/>
<circle cx="1314.4" cy="1202.9" r="3.6" fill="#f5a045" stroke="#3a2408" stroke-width="1.15"/>
<circle cx="1314.4" cy="1211.1" r="3.6" fill="#f5a045" stroke="#3a2408" stroke-width="1.15"/>
<circle cx="1310.0" cy="1222.8" r="3.6" fill="#f5a045" stroke="#3a2408" stroke-width="1.15"/>
<circle cx="1314.7" cy="1221.1" r="3.6" fill="#f5a045" stroke="#3a2408" stroke-width="1.15"/>
<circle cx="1318.8" cy="1225.8" r="3.6" fill="#f5a045" stroke="#3a2408" stroke-width="1.15"/>
<circle cx="1314.1" cy="1228.7" r="3.6" fill="#f5a045" stroke="#3a2408" stroke-width="1.15"/>
<circle cx="1314.4" cy="1236.9" r="3.6" fill="#f5a045" stroke="#3a2408" stroke-width="1.15"/>
<line x1="1314.4" y1="1197.2" x2="1314.4" y2="1231.1" stroke="#222" stroke-width="1.1"/>
<line x1="1310.6" y1="1197.2" x2="1318.2" y2="1197.2" stroke="#222" stroke-width="1.1"/>
<line x1="1310.6" y1="1231.1" x2="1318.2" y2="1231.1" stroke="#222" stroke-width="1.1"/>
<line x1="1307.4" y1="1214.0" x2="1321.4" y2="1214.0" stroke="#000" stroke-width="2.1"/>
<circle cx="1347.6" cy="1172.3" r="3.6" fill="#d6dadc" stroke="#2a2a2a" stroke-width="1.15"/>
<circle cx="1355.2" cy="1172.1" r="3.6" fill="#d6dadc" stroke="#2a2a2a" stroke-width="1.15"/>
<circle cx="1351.3" cy="1177.6" r="3.6" fill="#d6dadc" stroke="#2a2a2a" stroke-width="1.15"/>
<circle cx="1348.2" cy="1191.7" r="3.6" fill="#d6dadc" stroke="#2a2a2a" stroke-width="1.15"/>
<circle cx="1355.2" cy="1190.5" r="3.6" fill="#d6dadc" stroke="#2a2a2a" stroke-width="1.15"/>
<circle cx="1355.2" cy="1197.6" r="3.6" fill="#d6dadc" stroke="#2a2a2a" stroke-width="1.15"/>
<circle cx="1351.1" cy="1202.9" r="3.6" fill="#d6dadc" stroke="#2a2a2a" stroke-width="1.15"/>
<circle cx="1347.6" cy="1216.4" r="3.6" fill="#d6dadc" stroke="#2a2a2a" stroke-width="1.15"/>
<circle cx="1351.7" cy="1215.2" r="3.6" fill="#d6dadc" stroke="#2a2a2a" stroke-width="1.15"/>
<circle cx="1355.2" cy="1215.8" r="3.6" fill="#d6dadc" stroke="#2a2a2a" stroke-width="1.15"/>
<line x1="1351.3" y1="1177.6" x2="1351.3" y2="1213.4" stroke="#222" stroke-width="1.1"/>
<line x1="1347.5" y1="1177.6" x2="1355.1" y2="1177.6" stroke="#222" stroke-width="1.1"/>
<line x1="1347.5" y1="1213.4" x2="1355.1" y2="1213.4" stroke="#222" stroke-width="1.1"/>
<line x1="1344.3" y1="1194.9" x2="1358.3" y2="1194.9" stroke="#000" stroke-width="2.1"/>
<circle cx="1377.0" cy="1179.9" r="3.6" fill="#f5a045" stroke="#3a2408" stroke-width="1.15"/>
<circle cx="1369.3" cy="1184.6" r="3.6" fill="#f5a045" stroke="#3a2408" stroke-width="1.15"/>
<circle cx="1373.4" cy="1189.9" r="3.6" fill="#f5a045" stroke="#3a2408" stroke-width="1.15"/>
<circle cx="1377.0" cy="1199.3" r="3.6" fill="#f5a045" stroke="#3a2408" stroke-width="1.15"/>
<circle cx="1369.3" cy="1206.4" r="3.6" fill="#f5a045" stroke="#3a2408" stroke-width="1.15"/>
<circle cx="1377.6" cy="1210.5" r="3.6" fill="#f5a045" stroke="#3a2408" stroke-width="1.15"/>
<circle cx="1372.9" cy="1214.6" r="3.6" fill="#f5a045" stroke="#3a2408" stroke-width="1.15"/>
<circle cx="1373.2" cy="1223.4" r="3.6" fill="#f5a045" stroke="#3a2408" stroke-width="1.15"/>
<line x1="1373.4" y1="1186.4" x2="1373.4" y2="1216.4" stroke="#222" stroke-width="1.1"/>
<line x1="1369.6" y1="1186.4" x2="1377.2" y2="1186.4" stroke="#222" stroke-width="1.1"/>
<line x1="1369.6" y1="1216.4" x2="1377.2" y2="1216.4" stroke="#222" stroke-width="1.1"/>
<line x1="1366.4" y1="1201.1" x2="1380.4" y2="1201.1" stroke="#000" stroke-width="2.1"/>
<circle cx="1410.5" cy="1153.5" r="3.6" fill="#d6dadc" stroke="#2a2a2a" stroke-width="1.15"/>
<circle cx="1406.7" cy="1158.8" r="3.6" fill="#d6dadc" stroke="#2a2a2a" stroke-width="1.15"/>
<circle cx="1411.0" cy="1163.5" r="3.6" fill="#d6dadc" stroke="#2a2a2a" stroke-width="1.15"/>
<circle cx="1412.8" cy="1170.5" r="3.6" fill="#d6dadc" stroke="#2a2a2a" stroke-width="1.15"/>
<circle cx="1408.1" cy="1175.2" r="3.6" fill="#d6dadc" stroke="#2a2a2a" stroke-width="1.15"/>
<circle cx="1406.7" cy="1188.7" r="3.6" fill="#d6dadc" stroke="#2a2a2a" stroke-width="1.15"/>
<circle cx="1414.0" cy="1194.0" r="3.6" fill="#d6dadc" stroke="#2a2a2a" stroke-width="1.15"/>
<circle cx="1409.9" cy="1196.4" r="3.6" fill="#d6dadc" stroke="#2a2a2a" stroke-width="1.15"/>
<circle cx="1406.7" cy="1203.4" r="3.6" fill="#d6dadc" stroke="#2a2a2a" stroke-width="1.15"/>
<circle cx="1414.0" cy="1202.9" r="3.6" fill="#d6dadc" stroke="#2a2a2a" stroke-width="1.15"/>
<line x1="1410.2" y1="1161.7" x2="1410.2" y2="1200.5" stroke="#222" stroke-width="1.1"/>
<line x1="1406.4" y1="1161.7" x2="1414.0" y2="1161.7" stroke="#222" stroke-width="1.1"/>
<line x1="1406.4" y1="1200.5" x2="1414.0" y2="1200.5" stroke="#222" stroke-width="1.1"/>
<line x1="1403.2" y1="1180.5" x2="1417.2" y2="1180.5" stroke="#000" stroke-width="2.1"/>
<circle cx="1436.3" cy="1162.3" r="3.6" fill="#f5a045" stroke="#3a2408" stroke-width="1.15"/>
<circle cx="1432.2" cy="1164.1" r="3.6" fill="#f5a045" stroke="#3a2408" stroke-width="1.15"/>
<circle cx="1432.4" cy="1177.0" r="3.6" fill="#f5a045" stroke="#3a2408" stroke-width="1.15"/>
<circle cx="1436.3" cy="1185.2" r="3.6" fill="#f5a045" stroke="#3a2408" stroke-width="1.15"/>
<circle cx="1428.1" cy="1192.9" r="3.6" fill="#f5a045" stroke="#3a2408" stroke-width="1.15"/>
<circle cx="1432.8" cy="1191.1" r="3.6" fill="#f5a045" stroke="#3a2408" stroke-width="1.15"/>
<circle cx="1436.3" cy="1197.0" r="3.6" fill="#f5a045" stroke="#3a2408" stroke-width="1.15"/>
<circle cx="1432.2" cy="1199.9" r="3.6" fill="#f5a045" stroke="#3a2408" stroke-width="1.15"/>
<circle cx="1432.4" cy="1211.7" r="3.6" fill="#f5a045" stroke="#3a2408" stroke-width="1.15"/>
<line x1="1432.4" y1="1170.2" x2="1432.4" y2="1202.9" stroke="#222" stroke-width="1.1"/>
<line x1="1428.6" y1="1170.2" x2="1436.2" y2="1170.2" stroke="#222" stroke-width="1.1"/>
<line x1="1428.6" y1="1202.9" x2="1436.2" y2="1202.9" stroke="#222" stroke-width="1.1"/>
<line x1="1425.4" y1="1186.6" x2="1439.4" y2="1186.6" stroke="#000" stroke-width="2.1"/>
<circle cx="1469.5" cy="1144.1" r="3.6" fill="#d6dadc" stroke="#2a2a2a" stroke-width="1.15"/>
<circle cx="1469.2" cy="1154.7" r="3.6" fill="#d6dadc" stroke="#2a2a2a" stroke-width="1.15"/>
<circle cx="1465.7" cy="1158.2" r="3.6" fill="#d6dadc" stroke="#2a2a2a" stroke-width="1.15"/>
<circle cx="1473.3" cy="1162.3" r="3.6" fill="#d6dadc" stroke="#2a2a2a" stroke-width="1.15"/>
<circle cx="1469.5" cy="1164.1" r="3.6" fill="#d6dadc" stroke="#2a2a2a" stroke-width="1.15"/>
<circle cx="1467.5" cy="1180.5" r="3.6" fill="#d6dadc" stroke="#2a2a2a" stroke-width="1.15"/>
<circle cx="1471.0" cy="1183.5" r="3.6" fill="#d6dadc" stroke="#2a2a2a" stroke-width="1.15"/>
<circle cx="1469.2" cy="1193.4" r="3.6" fill="#d6dadc" stroke="#2a2a2a" stroke-width="1.15"/>
<circle cx="1465.7" cy="1200.5" r="3.6" fill="#d6dadc" stroke="#2a2a2a" stroke-width="1.15"/>
<circle cx="1473.3" cy="1198.1" r="3.6" fill="#d6dadc" stroke="#2a2a2a" stroke-width="1.15"/>
<line x1="1469.2" y1="1154.7" x2="1469.2" y2="1194.0" stroke="#222" stroke-width="1.1"/>
<line x1="1465.4" y1="1154.7" x2="1473.0" y2="1154.7" stroke="#222" stroke-width="1.1"/>
<line x1="1465.4" y1="1194.0" x2="1473.0" y2="1194.0" stroke="#222" stroke-width="1.1"/>
<line x1="1462.2" y1="1173.8" x2="1476.2" y2="1173.8" stroke="#000" stroke-width="2.1"/>
<circle cx="1492.7" cy="1138.0" r="3.6" fill="#f5a045" stroke="#3a2408" stroke-width="1.15"/>
<circle cx="1489.8" cy="1143.5" r="3.6" fill="#f5a045" stroke="#3a2408" stroke-width="1.15"/>
<circle cx="1491.6" cy="1158.8" r="3.6" fill="#f5a045" stroke="#3a2408" stroke-width="1.15"/>
<circle cx="1491.6" cy="1169.9" r="3.6" fill="#f5a045" stroke="#3a2408" stroke-width="1.15"/>
<circle cx="1495.1" cy="1182.3" r="3.6" fill="#f5a045" stroke="#3a2408" stroke-width="1.15"/>
<circle cx="1487.4" cy="1185.2" r="3.6" fill="#f5a045" stroke="#3a2408" stroke-width="1.15"/>
<circle cx="1493.3" cy="1188.2" r="3.6" fill="#f5a045" stroke="#3a2408" stroke-width="1.15"/>
<circle cx="1490.4" cy="1194.6" r="3.6" fill="#f5a045" stroke="#3a2408" stroke-width="1.15"/>
<circle cx="1491.6" cy="1181.7" r="3.6" fill="#f5a045" stroke="#3a2408" stroke-width="1.15"/>
<line x1="1491.6" y1="1151.1" x2="1491.6" y2="1192.3" stroke="#222" stroke-width="1.1"/>
<line x1="1487.8" y1="1151.1" x2="1495.4" y2="1151.1" stroke="#222" stroke-width="1.1"/>
<line x1="1487.8" y1="1192.3" x2="1495.4" y2="1192.3" stroke="#222" stroke-width="1.1"/>
<line x1="1484.6" y1="1171.4" x2="1498.6" y2="1171.4" stroke="#000" stroke-width="2.1"/>
<circle cx="1528.5" cy="1140.6" r="3.6" fill="#d6dadc" stroke="#2a2a2a" stroke-width="1.15"/>
<circle cx="1528.5" cy="1148.2" r="3.6" fill="#d6dadc" stroke="#2a2a2a" stroke-width="1.15"/>
<circle cx="1524.1" cy="1153.5" r="3.6" fill="#d6dadc" stroke="#2a2a2a" stroke-width="1.15"/>
<circle cx="1528.8" cy="1156.4" r="3.6" fill="#d6dadc" stroke="#2a2a2a" stroke-width="1.15"/>
<circle cx="1528.5" cy="1164.1" r="3.6" fill="#d6dadc" stroke="#2a2a2a" stroke-width="1.15"/>
<circle cx="1524.1" cy="1176.4" r="3.6" fill="#d6dadc" stroke="#2a2a2a" stroke-width="1.15"/>
<circle cx="1531.7" cy="1176.8" r="3.6" fill="#d6dadc" stroke="#2a2a2a" stroke-width="1.15"/>
<circle cx="1530.6" cy="1190.5" r="3.6" fill="#d6dadc" stroke="#2a2a2a" stroke-width="1.15"/>
<circle cx="1526.5" cy="1194.9" r="3.6" fill="#d6dadc" stroke="#2a2a2a" stroke-width="1.15"/>
<line x1="1528.5" y1="1149.4" x2="1528.5" y2="1185.2" stroke="#222" stroke-width="1.1"/>
<line x1="1524.7" y1="1149.4" x2="1532.3" y2="1149.4" stroke="#222" stroke-width="1.1"/>
<line x1="1524.7" y1="1185.2" x2="1532.3" y2="1185.2" stroke="#222" stroke-width="1.1"/>
<line x1="1521.5" y1="1167.6" x2="1535.5" y2="1167.6" stroke="#000" stroke-width="2.1"/>
<circle cx="1547.0" cy="1135.0" r="3.6" fill="#f5a045" stroke="#3a2408" stroke-width="1.15"/>
<circle cx="1554.7" cy="1141.5" r="3.6" fill="#f5a045" stroke="#3a2408" stroke-width="1.15"/>
<circle cx="1550.5" cy="1145.0" r="3.6" fill="#f5a045" stroke="#3a2408" stroke-width="1.15"/>
<circle cx="1550.8" cy="1158.2" r="3.6" fill="#f5a045" stroke="#3a2408" stroke-width="1.15"/>
<circle cx="1547.0" cy="1170.3" r="3.6" fill="#f5a045" stroke="#3a2408" stroke-width="1.15"/>
<circle cx="1554.7" cy="1175.2" r="3.6" fill="#f5a045" stroke="#3a2408" stroke-width="1.15"/>
<circle cx="1550.8" cy="1181.1" r="3.6" fill="#f5a045" stroke="#3a2408" stroke-width="1.15"/>
<circle cx="1554.7" cy="1183.5" r="3.6" fill="#f5a045" stroke="#3a2408" stroke-width="1.15"/>
<circle cx="1546.8" cy="1186.7" r="3.6" fill="#f5a045" stroke="#3a2408" stroke-width="1.15"/>
<line x1="1550.8" y1="1144.7" x2="1550.8" y2="1184.0" stroke="#222" stroke-width="1.1"/>
<line x1="1547.0" y1="1144.7" x2="1554.6" y2="1144.7" stroke="#222" stroke-width="1.1"/>
<line x1="1547.0" y1="1184.0" x2="1554.6" y2="1184.0" stroke="#222" stroke-width="1.1"/>
<line x1="1543.8" y1="1164.1" x2="1557.8" y2="1164.1" stroke="#000" stroke-width="2.1"/>
<circle cx="1587.8" cy="1135.3" r="3.6" fill="#d6dadc" stroke="#2a2a2a" stroke-width="1.15"/>
<circle cx="1587.6" cy="1143.5" r="3.6" fill="#d6dadc" stroke="#2a2a2a" stroke-width="1.15"/>
<circle cx="1583.5" cy="1149.7" r="3.6" fill="#d6dadc" stroke="#2a2a2a" stroke-width="1.15"/>
<circle cx="1591.7" cy="1149.7" r="3.6" fill="#d6dadc" stroke="#2a2a2a" stroke-width="1.15"/>
<circle cx="1587.8" cy="1155.2" r="3.6" fill="#d6dadc" stroke="#2a2a2a" stroke-width="1.15"/>
<circle cx="1587.6" cy="1161.7" r="3.6" fill="#d6dadc" stroke="#2a2a2a" stroke-width="1.15"/>
<circle cx="1589.9" cy="1169.4" r="3.6" fill="#d6dadc" stroke="#2a2a2a" stroke-width="1.15"/>
<circle cx="1585.2" cy="1170.5" r="3.6" fill="#d6dadc" stroke="#2a2a2a" stroke-width="1.15"/>
<circle cx="1590.5" cy="1181.1" r="3.6" fill="#d6dadc" stroke="#2a2a2a" stroke-width="1.15"/>
<circle cx="1585.8" cy="1184.3" r="3.6" fill="#d6dadc" stroke="#2a2a2a" stroke-width="1.15"/>
<line x1="1587.6" y1="1144.1" x2="1587.6" y2="1176.4" stroke="#222" stroke-width="1.1"/>
<line x1="1583.8" y1="1144.1" x2="1591.4" y2="1144.1" stroke="#222" stroke-width="1.1"/>
<line x1="1583.8" y1="1176.4" x2="1591.4" y2="1176.4" stroke="#222" stroke-width="1.1"/>
<line x1="1580.6" y1="1160.2" x2="1594.6" y2="1160.2" stroke="#000" stroke-width="2.1"/>
<circle cx="1606.4" cy="1132.0" r="3.6" fill="#f5a045" stroke="#3a2408" stroke-width="1.15"/>
<circle cx="1613.4" cy="1135.0" r="3.6" fill="#f5a045" stroke="#3a2408" stroke-width="1.15"/>
<circle cx="1609.9" cy="1137.6" r="3.6" fill="#f5a045" stroke="#3a2408" stroke-width="1.15"/>
<circle cx="1609.9" cy="1147.6" r="3.6" fill="#f5a045" stroke="#3a2408" stroke-width="1.15"/>
<circle cx="1605.8" cy="1156.4" r="3.6" fill="#f5a045" stroke="#3a2408" stroke-width="1.15"/>
<circle cx="1609.9" cy="1159.1" r="3.6" fill="#f5a045" stroke="#3a2408" stroke-width="1.15"/>
<circle cx="1609.9" cy="1168.2" r="3.6" fill="#f5a045" stroke="#3a2408" stroke-width="1.15"/>
<circle cx="1605.8" cy="1170.5" r="3.6" fill="#f5a045" stroke="#3a2408" stroke-width="1.15"/>
<circle cx="1613.7" cy="1170.5" r="3.6" fill="#f5a045" stroke="#3a2408" stroke-width="1.15"/>
<line x1="1609.9" y1="1137.6" x2="1609.9" y2="1168.2" stroke="#222" stroke-width="1.1"/>
<line x1="1606.1" y1="1137.6" x2="1613.7" y2="1137.6" stroke="#222" stroke-width="1.1"/>
<line x1="1606.1" y1="1168.2" x2="1613.7" y2="1168.2" stroke="#222" stroke-width="1.1"/>
<line x1="1602.9" y1="1152.9" x2="1616.9" y2="1152.9" stroke="#000" stroke-width="2.1"/>
<circle cx="1646.9" cy="1132.9" r="3.6" fill="#d6dadc" stroke="#2a2a2a" stroke-width="1.15"/>
<circle cx="1642.8" cy="1140.0" r="3.6" fill="#d6dadc" stroke="#2a2a2a" stroke-width="1.15"/>
<circle cx="1646.9" cy="1141.7" r="3.6" fill="#d6dadc" stroke="#2a2a2a" stroke-width="1.15"/>
<circle cx="1646.9" cy="1150.0" r="3.6" fill="#d6dadc" stroke="#2a2a2a" stroke-width="1.15"/>
<circle cx="1643.4" cy="1159.4" r="3.6" fill="#d6dadc" stroke="#2a2a2a" stroke-width="1.15"/>
<circle cx="1650.5" cy="1160.0" r="3.6" fill="#d6dadc" stroke="#2a2a2a" stroke-width="1.15"/>
<circle cx="1646.9" cy="1169.4" r="3.6" fill="#d6dadc" stroke="#2a2a2a" stroke-width="1.15"/>
<circle cx="1646.9" cy="1179.9" r="3.6" fill="#d6dadc" stroke="#2a2a2a" stroke-width="1.15"/>
<circle cx="1646.9" cy="1193.2" r="3.6" fill="#d6dadc" stroke="#2a2a2a" stroke-width="1.15"/>
<line x1="1646.9" y1="1140.0" x2="1646.9" y2="1179.3" stroke="#222" stroke-width="1.1"/>
<line x1="1643.1" y1="1140.0" x2="1650.7" y2="1140.0" stroke="#222" stroke-width="1.1"/>
<line x1="1643.1" y1="1179.3" x2="1650.7" y2="1179.3" stroke="#222" stroke-width="1.1"/>
<line x1="1639.9" y1="1159.4" x2="1653.9" y2="1159.4" stroke="#000" stroke-width="2.1"/>
<circle cx="1668.9" cy="1130.0" r="3.6" fill="#f5a045" stroke="#3a2408" stroke-width="1.15"/>
<circle cx="1666.9" cy="1138.0" r="3.6" fill="#f5a045" stroke="#3a2408" stroke-width="1.15"/>
<circle cx="1671.0" cy="1137.6" r="3.6" fill="#f5a045" stroke="#3a2408" stroke-width="1.15"/>
<circle cx="1665.1" cy="1148.0" r="3.6" fill="#f5a045" stroke="#3a2408" stroke-width="1.15"/>
<circle cx="1669.3" cy="1148.8" r="3.6" fill="#f5a045" stroke="#3a2408" stroke-width="1.15"/>
<circle cx="1672.8" cy="1154.4" r="3.6" fill="#f5a045" stroke="#3a2408" stroke-width="1.15"/>
<circle cx="1668.7" cy="1158.2" r="3.6" fill="#f5a045" stroke="#3a2408" stroke-width="1.15"/>
<circle cx="1670.4" cy="1170.5" r="3.6" fill="#f5a045" stroke="#3a2408" stroke-width="1.15"/>
<circle cx="1666.9" cy="1176.8" r="3.6" fill="#f5a045" stroke="#3a2408" stroke-width="1.15"/>
<line x1="1668.7" y1="1135.3" x2="1668.7" y2="1167.0" stroke="#222" stroke-width="1.1"/>
<line x1="1664.9" y1="1135.3" x2="1672.5" y2="1135.3" stroke="#222" stroke-width="1.1"/>
<line x1="1664.9" y1="1167.0" x2="1672.5" y2="1167.0" stroke="#222" stroke-width="1.1"/>
<line x1="1661.7" y1="1151.1" x2="1675.7" y2="1151.1" stroke="#000" stroke-width="2.1"/>
<circle cx="1705.7" cy="1125.9" r="3.6" fill="#d6dadc" stroke="#2a2a2a" stroke-width="1.15"/>
<circle cx="1705.7" cy="1148.2" r="3.6" fill="#d6dadc" stroke="#2a2a2a" stroke-width="1.15"/>
<circle cx="1701.8" cy="1151.7" r="3.6" fill="#d6dadc" stroke="#2a2a2a" stroke-width="1.15"/>
<circle cx="1709.8" cy="1155.2" r="3.6" fill="#d6dadc" stroke="#2a2a2a" stroke-width="1.15"/>
<circle cx="1705.7" cy="1158.2" r="3.6" fill="#d6dadc" stroke="#2a2a2a" stroke-width="1.15"/>
<circle cx="1705.7" cy="1169.4" r="3.6" fill="#d6dadc" stroke="#2a2a2a" stroke-width="1.15"/>
<circle cx="1701.8" cy="1171.1" r="3.6" fill="#d6dadc" stroke="#2a2a2a" stroke-width="1.15"/>
<circle cx="1709.8" cy="1174.1" r="3.6" fill="#d6dadc" stroke="#2a2a2a" stroke-width="1.15"/>
<circle cx="1705.7" cy="1182.9" r="3.6" fill="#d6dadc" stroke="#2a2a2a" stroke-width="1.15"/>
<circle cx="1705.7" cy="1197.6" r="3.6" fill="#d6dadc" stroke="#2a2a2a" stroke-width="1.15"/>
<line x1="1705.7" y1="1143.5" x2="1705.7" y2="1182.9" stroke="#222" stroke-width="1.1"/>
<line x1="1701.9" y1="1143.5" x2="1709.5" y2="1143.5" stroke="#222" stroke-width="1.1"/>
<line x1="1701.9" y1="1182.9" x2="1709.5" y2="1182.9" stroke="#222" stroke-width="1.1"/>
<line x1="1698.7" y1="1163.2" x2="1712.7" y2="1163.2" stroke="#000" stroke-width="2.1"/>
<circle cx="1723.9" cy="1135.3" r="3.6" fill="#f5a045" stroke="#3a2408" stroke-width="1.15"/>
<circle cx="1731.9" cy="1133.5" r="3.6" fill="#f5a045" stroke="#3a2408" stroke-width="1.15"/>
<circle cx="1728.0" cy="1137.6" r="3.6" fill="#f5a045" stroke="#3a2408" stroke-width="1.15"/>
<circle cx="1724.1" cy="1150.0" r="3.6" fill="#f5a045" stroke="#3a2408" stroke-width="1.15"/>
<circle cx="1728.4" cy="1152.9" r="3.6" fill="#f5a045" stroke="#3a2408" stroke-width="1.15"/>
<circle cx="1724.1" cy="1158.8" r="3.6" fill="#f5a045" stroke="#3a2408" stroke-width="1.15"/>
<circle cx="1731.9" cy="1159.4" r="3.6" fill="#f5a045" stroke="#3a2408" stroke-width="1.15"/>
<circle cx="1728.0" cy="1176.1" r="3.6" fill="#f5a045" stroke="#3a2408" stroke-width="1.15"/>
<circle cx="1728.0" cy="1184.6" r="3.6" fill="#f5a045" stroke="#3a2408" stroke-width="1.15"/>
<line x1="1728.0" y1="1137.0" x2="1728.0" y2="1172.3" stroke="#222" stroke-width="1.1"/>
<line x1="1724.2" y1="1137.0" x2="1731.8" y2="1137.0" stroke="#222" stroke-width="1.1"/>
<line x1="1724.2" y1="1172.3" x2="1731.8" y2="1172.3" stroke="#222" stroke-width="1.1"/>
<line x1="1721.0" y1="1154.4" x2="1735.0" y2="1154.4" stroke="#000" stroke-width="2.1"/>
<circle cx="1770" cy="1134.5" r="9.6" fill="#d9d9d9" stroke="#111" stroke-width="2"/>
<text x="1795.5" y="1141.5">organoid</text>
<circle cx="1770.2" cy="1207" r="9.6" fill="#fbbf0f" stroke="#111" stroke-width="2"/>
<text x="1792.5" y="1198.2">organoid +</text>
<text x="1792.5" y="1223.3">organoid conditioned</text>
<text x="1792.5" y="1248.4">medium</text>
<line x1="1775.2" y1="1280.4" x2="1775.2" y2="1289.4" stroke="#b4b4b4" stroke-width="1"/>
<polygon points="1766.5,1288.4 1784.0,1288.4 1775.2,1304.4" fill="#adadad"/>
<text x="1797.7" y="1297.7">+ fresh medium  /</text>
<text x="1797.7" y="1322.6">conditioned medium</text>
</g>
<g id="panelF">
<text x="1166" y="1440" font-weight="bold" font-size="33">f</text>
<text x="1294" y="1454">XCL-1 iPSC clone</text>
<line x1="1294.0" y1="1457.6" x2="1462.0" y2="1457.6" stroke="#111" stroke-width="1.8"/>
<line x1="1285.6" y1="1475.3" x2="1285.6" y2="1725.0" stroke="#111" stroke-width="1.3"/>
<line x1="1285.6" y1="1745.3" x2="1285.6" y2="1772.9" stroke="#111" stroke-width="1.3"/>
<line x1="1280.2" y1="1721.4" x2="1290.8" y2="1732.8" stroke="#111" stroke-width="1.2"/>
<line x1="1279.6" y1="1739.4" x2="1291.8" y2="1751.4" stroke="#111" stroke-width="1.2"/>
<line x1="1279.5" y1="1772.9" x2="1755.4" y2="1772.9" stroke="#111" stroke-width="1.3"/>
<line x1="1279.5" y1="1475.3" x2="1285.6" y2="1475.3" stroke="#111" stroke-width="1.3"/>
<line x1="1279.5" y1="1538.1" x2="1285.6" y2="1538.1" stroke="#111" stroke-width="1.3"/>
<line x1="1279.5" y1="1600.9" x2="1285.6" y2="1600.9" stroke="#111" stroke-width="1.3"/>
<line x1="1279.5" y1="1664.5" x2="1285.6" y2="1664.5" stroke="#111" stroke-width="1.3"/>
<text x="1273.5" y="1482.5" text-anchor="end" font-size="21">7</text>
<text x="1273.5" y="1608" text-anchor="end" font-size="21">5</text>
<text x="1273.5" y="1732.6" text-anchor="end" font-size="21">3</text>
<text x="1273.5" y="1779.8" text-anchor="end" font-size="21">0</text>
<line x1="1311.9" y1="1772.9" x2="1311.9" y2="1779.0" stroke="#111" stroke-width="1.3"/>
<text x="1311.9" y="1800.2" text-anchor="middle" font-size="21">0</text>
<line x1="1311.6" y1="1746.0" x2="1311.6" y2="1753.2" stroke="#b4b4b4" stroke-width="1"/>
<polygon points="1303.0,1752.2 1320.2,1752.2 1311.6,1769.8" fill="#a6a6a6"/>
<line x1="1371.4" y1="1772.9" x2="1371.4" y2="1779.0" stroke="#111" stroke-width="1.3"/>
<text x="1371.4" y="1800.2" text-anchor="middle" font-size="21">2</text>
<line x1="1371.1" y1="1746.0" x2="1371.1" y2="1753.2" stroke="#b4b4b4" stroke-width="1"/>
<polygon points="1362.5,1752.2 1379.7,1752.2 1371.1,1769.8" fill="#a6a6a6"/>
<line x1="1430.4" y1="1772.9" x2="1430.4" y2="1779.0" stroke="#111" stroke-width="1.3"/>
<text x="1430.4" y="1800.2" text-anchor="middle" font-size="21">4</text>
<line x1="1430.1" y1="1746.0" x2="1430.1" y2="1753.2" stroke="#b4b4b4" stroke-width="1"/>
<polygon points="1421.5,1752.2 1438.7,1752.2 1430.1,1769.8" fill="#a6a6a6"/>
<line x1="1489.9" y1="1772.9" x2="1489.9" y2="1779.0" stroke="#111" stroke-width="1.3"/>
<text x="1489.9" y="1800.2" text-anchor="middle" font-size="21">6</text>
<line x1="1489.6" y1="1746.0" x2="1489.6" y2="1753.2" stroke="#b4b4b4" stroke-width="1"/>
<polygon points="1481.0,1752.2 1498.2,1752.2 1489.6,1769.8" fill="#a6a6a6"/>
<line x1="1549.2" y1="1772.9" x2="1549.2" y2="1779.0" stroke="#111" stroke-width="1.3"/>
<text x="1549.2" y="1800.2" text-anchor="middle" font-size="21">8</text>
<line x1="1548.9" y1="1746.0" x2="1548.9" y2="1753.2" stroke="#b4b4b4" stroke-width="1"/>
<polygon points="1540.3,1752.2 1557.5,1752.2 1548.9,1769.8" fill="#a6a6a6"/>
<line x1="1608.7" y1="1772.9" x2="1608.7" y2="1779.0" stroke="#111" stroke-width="1.3"/>
<text x="1608.7" y="1800.2" text-anchor="middle" font-size="21">10</text>
<line x1="1608.4" y1="1746.0" x2="1608.4" y2="1753.2" stroke="#b4b4b4" stroke-width="1"/>
<polygon points="1599.8,1752.2 1617.0,1752.2 1608.4,1769.8" fill="#a6a6a6"/>
<line x1="1667.6" y1="1772.9" x2="1667.6" y2="1779.0" stroke="#111" stroke-width="1.3"/>
<text x="1667.6" y="1800.2" text-anchor="middle" font-size="21">12</text>
<line x1="1667.3" y1="1746.0" x2="1667.3" y2="1753.2" stroke="#b4b4b4" stroke-width="1"/>
<polygon points="1658.7,1752.2 1675.9,1752.2 1667.3,1769.8" fill="#a6a6a6"/>
<line x1="1726.6" y1="1772.9" x2="1726.6" y2="1779.0" stroke="#111" stroke-width="1.3"/>
<text x="1726.6" y="1800.2" text-anchor="middle" font-size="21">14</text>
<line x1="1726.3" y1="1746.0" x2="1726.3" y2="1753.2" stroke="#b4b4b4" stroke-width="1"/>
<polygon points="1717.7,1752.2 1734.9,1752.2 1726.3,1769.8" fill="#a6a6a6"/>
<text x="1541" y="1822.6" text-anchor="middle">co-culture (days)</text>
<text transform="translate(1231.2,1713.5) rotate(-90)">organoid size (mm<tspan dy="-7" dx="3.5" font-size="12.5">2</tspan><tspan dy="7" dx="1.5">)</tspan></text>
<circle cx="1296.5" cy="1549.9" r="5.9" fill="#d9d9d9" stroke="#1e1e1e" stroke-width="1.3"/>
<circle cx="1296.5" cy="1559.5" r="5.9" fill="#d9d9d9" stroke="#1e1e1e" stroke-width="1.3"/>
<circle cx="1296.5" cy="1583.3" r="5.9" fill="#d9d9d9" stroke="#1e1e1e" stroke-width="1.3"/>
<line x1="1296.5" y1="1547.1" x2="1296.5" y2="1581.4" stroke="#1a1a1a" stroke-width="1.4"/>
<line x1="1293.1" y1="1547.1" x2="1299.9" y2="1547.1" stroke="#1a1a1a" stroke-width="1.4"/>
<line x1="1293.1" y1="1581.4" x2="1299.9" y2="1581.4" stroke="#1a1a1a" stroke-width="1.4"/>
<line x1="1290.7" y1="1564.1" x2="1302.3" y2="1564.1" stroke="#000" stroke-width="2.6"/>
<circle cx="1312.4" cy="1582.2" r="5.9" fill="#1eb61e" stroke="#0a4a0a" stroke-width="1.3"/>
<circle cx="1312.4" cy="1613.5" r="5.9" fill="#1eb61e" stroke="#0a4a0a" stroke-width="1.3"/>
<circle cx="1312.4" cy="1620.6" r="5.9" fill="#1eb61e" stroke="#0a4a0a" stroke-width="1.3"/>
<line x1="1312.4" y1="1588.3" x2="1312.4" y2="1622.5" stroke="#1a1a1a" stroke-width="1.4"/>
<line x1="1309.0" y1="1588.3" x2="1315.8" y2="1588.3" stroke="#1a1a1a" stroke-width="1.4"/>
<line x1="1309.0" y1="1622.5" x2="1315.8" y2="1622.5" stroke="#1a1a1a" stroke-width="1.4"/>
<line x1="1306.6" y1="1605.8" x2="1318.2" y2="1605.8" stroke="#000" stroke-width="2.6"/>
<circle cx="1328.9" cy="1606.9" r="5.9" fill="#ea1a1a" stroke="#5a0808" stroke-width="1.3"/>
<circle cx="1328.9" cy="1636.2" r="5.9" fill="#ea1a1a" stroke="#5a0808" stroke-width="1.3"/>
<circle cx="1328.9" cy="1642.6" r="5.9" fill="#ea1a1a" stroke="#5a0808" stroke-width="1.3"/>
<line x1="1328.9" y1="1610.2" x2="1328.9" y2="1645.8" stroke="#1a1a1a" stroke-width="1.4"/>
<line x1="1325.5" y1="1610.2" x2="1332.3" y2="1610.2" stroke="#1a1a1a" stroke-width="1.4"/>
<line x1="1325.5" y1="1645.8" x2="1332.3" y2="1645.8" stroke="#1a1a1a" stroke-width="1.4"/>
<line x1="1323.1" y1="1628.6" x2="1334.7" y2="1628.6" stroke="#000" stroke-width="2.6"/>
<circle cx="1355.8" cy="1537.5" r="5.9" fill="#d9d9d9" stroke="#1e1e1e" stroke-width="1.3"/>
<circle cx="1355.8" cy="1555.3" r="5.9" fill="#d9d9d9" stroke="#1e1e1e" stroke-width="1.3"/>
<circle cx="1355.8" cy="1574.5" r="5.9" fill="#d9d9d9" stroke="#1e1e1e" stroke-width="1.3"/>
<line x1="1355.8" y1="1536.7" x2="1355.8" y2="1574.0" stroke="#1a1a1a" stroke-width="1.4"/>
<line x1="1352.4" y1="1536.7" x2="1359.2" y2="1536.7" stroke="#1a1a1a" stroke-width="1.4"/>
<line x1="1352.4" y1="1574.0" x2="1359.2" y2="1574.0" stroke="#1a1a1a" stroke-width="1.4"/>
<line x1="1350.0" y1="1555.3" x2="1361.6" y2="1555.3" stroke="#000" stroke-width="2.6"/>
<circle cx="1372.2" cy="1571.0" r="5.9" fill="#1eb61e" stroke="#0a4a0a" stroke-width="1.3"/>
<circle cx="1372.2" cy="1597.9" r="5.9" fill="#1eb61e" stroke="#0a4a0a" stroke-width="1.3"/>
<circle cx="1372.2" cy="1609.6" r="5.9" fill="#1eb61e" stroke="#0a4a0a" stroke-width="1.3"/>
<line x1="1372.2" y1="1572.4" x2="1372.2" y2="1612.9" stroke="#1a1a1a" stroke-width="1.4"/>
<line x1="1368.8" y1="1572.4" x2="1375.6" y2="1572.4" stroke="#1a1a1a" stroke-width="1.4"/>
<line x1="1368.8" y1="1612.9" x2="1375.6" y2="1612.9" stroke="#1a1a1a" stroke-width="1.4"/>
<line x1="1366.4" y1="1592.4" x2="1378.0" y2="1592.4" stroke="#000" stroke-width="2.6"/>
<circle cx="1388.7" cy="1597.9" r="5.9" fill="#ea1a1a" stroke="#5a0808" stroke-width="1.3"/>
<circle cx="1388.7" cy="1605.3" r="5.9" fill="#ea1a1a" stroke="#5a0808" stroke-width="1.3"/>
<circle cx="1388.7" cy="1609.6" r="5.9" fill="#ea1a1a" stroke="#5a0808" stroke-width="1.3"/>
<line x1="1388.7" y1="1597.9" x2="1388.7" y2="1610.2" stroke="#1a1a1a" stroke-width="1.4"/>
<line x1="1385.3" y1="1597.9" x2="1392.1" y2="1597.9" stroke="#1a1a1a" stroke-width="1.4"/>
<line x1="1385.3" y1="1610.2" x2="1392.1" y2="1610.2" stroke="#1a1a1a" stroke-width="1.4"/>
<line x1="1382.9" y1="1604.2" x2="1394.5" y2="1604.2" stroke="#000" stroke-width="2.6"/>
<circle cx="1414.7" cy="1544.4" r="5.9" fill="#d9d9d9" stroke="#1e1e1e" stroke-width="1.3"/>
<circle cx="1414.7" cy="1558.9" r="5.9" fill="#d9d9d9" stroke="#1e1e1e" stroke-width="1.3"/>
<line x1="1414.7" y1="1541.6" x2="1414.7" y2="1562.2" stroke="#1a1a1a" stroke-width="1.4"/>
<line x1="1411.3" y1="1541.6" x2="1418.1" y2="1541.6" stroke="#1a1a1a" stroke-width="1.4"/>
<line x1="1411.3" y1="1562.2" x2="1418.1" y2="1562.2" stroke="#1a1a1a" stroke-width="1.4"/>
<line x1="1408.9" y1="1551.8" x2="1420.5" y2="1551.8" stroke="#000" stroke-width="2.6"/>
<circle cx="1431.2" cy="1563.6" r="5.9" fill="#1eb61e" stroke="#0a4a0a" stroke-width="1.3"/>
<circle cx="1431.2" cy="1579.5" r="5.9" fill="#1eb61e" stroke="#0a4a0a" stroke-width="1.3"/>
<circle cx="1431.2" cy="1598.7" r="5.9" fill="#1eb61e" stroke="#0a4a0a" stroke-width="1.3"/>
<line x1="1431.2" y1="1563.0" x2="1431.2" y2="1598.1" stroke="#1a1a1a" stroke-width="1.4"/>
<line x1="1427.8" y1="1563.0" x2="1434.6" y2="1563.0" stroke="#1a1a1a" stroke-width="1.4"/>
<line x1="1427.8" y1="1598.1" x2="1434.6" y2="1598.1" stroke="#1a1a1a" stroke-width="1.4"/>
<line x1="1425.4" y1="1580.6" x2="1437.0" y2="1580.6" stroke="#000" stroke-width="2.6"/>
<circle cx="1447.6" cy="1578.7" r="5.9" fill="#ea1a1a" stroke="#5a0808" stroke-width="1.3"/>
<circle cx="1447.6" cy="1593.2" r="5.9" fill="#ea1a1a" stroke="#5a0808" stroke-width="1.3"/>
<circle cx="1447.6" cy="1601.4" r="5.9" fill="#ea1a1a" stroke="#5a0808" stroke-width="1.3"/>
<line x1="1447.6" y1="1579.5" x2="1447.6" y2="1602.5" stroke="#1a1a1a" stroke-width="1.4"/>
<line x1="1444.2" y1="1579.5" x2="1451.0" y2="1579.5" stroke="#1a1a1a" stroke-width="1.4"/>
<line x1="1444.2" y1="1602.5" x2="1451.0" y2="1602.5" stroke="#1a1a1a" stroke-width="1.4"/>
<line x1="1441.8" y1="1591.0" x2="1453.4" y2="1591.0" stroke="#000" stroke-width="2.6"/>
<circle cx="1474.2" cy="1530.7" r="5.9" fill="#d9d9d9" stroke="#1e1e1e" stroke-width="1.3"/>
<circle cx="1474.2" cy="1554.8" r="5.9" fill="#d9d9d9" stroke="#1e1e1e" stroke-width="1.3"/>
<line x1="1474.2" y1="1527.9" x2="1474.2" y2="1559.5" stroke="#1a1a1a" stroke-width="1.4"/>
<line x1="1470.8" y1="1527.9" x2="1477.6" y2="1527.9" stroke="#1a1a1a" stroke-width="1.4"/>
<line x1="1470.8" y1="1559.5" x2="1477.6" y2="1559.5" stroke="#1a1a1a" stroke-width="1.4"/>
<line x1="1468.4" y1="1542.7" x2="1480.0" y2="1542.7" stroke="#000" stroke-width="2.6"/>
<circle cx="1490.1" cy="1554.0" r="5.9" fill="#1eb61e" stroke="#0a4a0a" stroke-width="1.3"/>
<circle cx="1490.1" cy="1569.6" r="5.9" fill="#1eb61e" stroke="#0a4a0a" stroke-width="1.3"/>
<circle cx="1490.1" cy="1599.8" r="5.9" fill="#1eb61e" stroke="#0a4a0a" stroke-width="1.3"/>
<line x1="1490.1" y1="1552.6" x2="1490.1" y2="1599.2" stroke="#1a1a1a" stroke-width="1.4"/>
<line x1="1486.7" y1="1552.6" x2="1493.5" y2="1552.6" stroke="#1a1a1a" stroke-width="1.4"/>
<line x1="1486.7" y1="1599.2" x2="1493.5" y2="1599.2" stroke="#1a1a1a" stroke-width="1.4"/>
<line x1="1484.3" y1="1574.5" x2="1495.9" y2="1574.5" stroke="#000" stroke-width="2.6"/>
<circle cx="1506.3" cy="1570.4" r="5.9" fill="#ea1a1a" stroke="#5a0808" stroke-width="1.3"/>
<circle cx="1506.3" cy="1588.3" r="5.9" fill="#ea1a1a" stroke="#5a0808" stroke-width="1.3"/>
<circle cx="1506.3" cy="1599.2" r="5.9" fill="#ea1a1a" stroke="#5a0808" stroke-width="1.3"/>
<line x1="1506.3" y1="1571.8" x2="1506.3" y2="1600.3" stroke="#1a1a1a" stroke-width="1.4"/>
<line x1="1502.9" y1="1571.8" x2="1509.7" y2="1571.8" stroke="#1a1a1a" stroke-width="1.4"/>
<line x1="1502.9" y1="1600.3" x2="1509.7" y2="1600.3" stroke="#1a1a1a" stroke-width="1.4"/>
<line x1="1500.5" y1="1586.1" x2="1512.1" y2="1586.1" stroke="#000" stroke-width="2.6"/>
<circle cx="1533.2" cy="1507.9" r="5.9" fill="#d9d9d9" stroke="#1e1e1e" stroke-width="1.3"/>
<circle cx="1533.2" cy="1527.9" r="5.9" fill="#d9d9d9" stroke="#1e1e1e" stroke-width="1.3"/>
<circle cx="1533.2" cy="1550.4" r="5.9" fill="#d9d9d9" stroke="#1e1e1e" stroke-width="1.3"/>
<line x1="1533.2" y1="1507.4" x2="1533.2" y2="1549.9" stroke="#1a1a1a" stroke-width="1.4"/>
<line x1="1529.8" y1="1507.4" x2="1536.6" y2="1507.4" stroke="#1a1a1a" stroke-width="1.4"/>
<line x1="1529.8" y1="1549.9" x2="1536.6" y2="1549.9" stroke="#1a1a1a" stroke-width="1.4"/>
<line x1="1527.4" y1="1528.5" x2="1539.0" y2="1528.5" stroke="#000" stroke-width="2.6"/>
<circle cx="1549.7" cy="1498.3" r="5.9" fill="#1eb61e" stroke="#0a4a0a" stroke-width="1.3"/>
<circle cx="1549.7" cy="1602.5" r="5.9" fill="#1eb61e" stroke="#0a4a0a" stroke-width="1.3"/>
<circle cx="1549.7" cy="1616.2" r="5.9" fill="#1eb61e" stroke="#0a4a0a" stroke-width="1.3"/>
<line x1="1549.7" y1="1507.4" x2="1549.7" y2="1636.2" stroke="#1a1a1a" stroke-width="1.4"/>
<line x1="1546.3" y1="1507.4" x2="1553.1" y2="1507.4" stroke="#1a1a1a" stroke-width="1.4"/>
<line x1="1546.3" y1="1636.2" x2="1553.1" y2="1636.2" stroke="#1a1a1a" stroke-width="1.4"/>
<line x1="1543.9" y1="1572.4" x2="1555.5" y2="1572.4" stroke="#000" stroke-width="2.6"/>
<circle cx="1566.1" cy="1580.6" r="5.9" fill="#ea1a1a" stroke="#5a0808" stroke-width="1.3"/>
<circle cx="1566.1" cy="1589.6" r="5.9" fill="#ea1a1a" stroke="#5a0808" stroke-width="1.3"/>
<circle cx="1566.1" cy="1595.1" r="5.9" fill="#ea1a1a" stroke="#5a0808" stroke-width="1.3"/>
<line x1="1566.1" y1="1581.4" x2="1566.1" y2="1595.9" stroke="#1a1a1a" stroke-width="1.4"/>
<line x1="1562.7" y1="1581.4" x2="1569.5" y2="1581.4" stroke="#1a1a1a" stroke-width="1.4"/>
<line x1="1562.7" y1="1595.9" x2="1569.5" y2="1595.9" stroke="#1a1a1a" stroke-width="1.4"/>
<line x1="1560.3" y1="1588.5" x2="1571.9" y2="1588.5" stroke="#000" stroke-width="2.6"/>
<circle cx="1592.7" cy="1507.9" r="5.9" fill="#d9d9d9" stroke="#1e1e1e" stroke-width="1.3"/>
<circle cx="1592.7" cy="1544.9" r="5.9" fill="#d9d9d9" stroke="#1e1e1e" stroke-width="1.3"/>
<line x1="1592.7" y1="1500.5" x2="1592.7" y2="1552.6" stroke="#1a1a1a" stroke-width="1.4"/>
<line x1="1589.3" y1="1500.5" x2="1596.1" y2="1500.5" stroke="#1a1a1a" stroke-width="1.4"/>
<line x1="1589.3" y1="1552.6" x2="1596.1" y2="1552.6" stroke="#1a1a1a" stroke-width="1.4"/>
<line x1="1586.9" y1="1526.6" x2="1598.5" y2="1526.6" stroke="#000" stroke-width="2.6"/>
<circle cx="1608.6" cy="1554.5" r="5.9" fill="#1eb61e" stroke="#0a4a0a" stroke-width="1.3"/>
<circle cx="1608.6" cy="1616.2" r="5.9" fill="#1eb61e" stroke="#0a4a0a" stroke-width="1.3"/>
<circle cx="1608.6" cy="1623.4" r="5.9" fill="#1eb61e" stroke="#0a4a0a" stroke-width="1.3"/>
<line x1="1608.6" y1="1559.5" x2="1608.6" y2="1635.7" stroke="#1a1a1a" stroke-width="1.4"/>
<line x1="1605.2" y1="1559.5" x2="1612.0" y2="1559.5" stroke="#1a1a1a" stroke-width="1.4"/>
<line x1="1605.2" y1="1635.7" x2="1612.0" y2="1635.7" stroke="#1a1a1a" stroke-width="1.4"/>
<line x1="1602.8" y1="1598.1" x2="1614.4" y2="1598.1" stroke="#000" stroke-width="2.6"/>
<circle cx="1625.1" cy="1584.1" r="5.9" fill="#ea1a1a" stroke="#5a0808" stroke-width="1.3"/>
<circle cx="1625.1" cy="1589.6" r="5.9" fill="#ea1a1a" stroke="#5a0808" stroke-width="1.3"/>
<circle cx="1625.1" cy="1594.3" r="5.9" fill="#ea1a1a" stroke="#5a0808" stroke-width="1.3"/>
<line x1="1625.1" y1="1584.1" x2="1625.1" y2="1594.6" stroke="#1a1a1a" stroke-width="1.4"/>
<line x1="1621.7" y1="1584.1" x2="1628.5" y2="1584.1" stroke="#1a1a1a" stroke-width="1.4"/>
<line x1="1621.7" y1="1594.6" x2="1628.5" y2="1594.6" stroke="#1a1a1a" stroke-width="1.4"/>
<line x1="1619.3" y1="1589.4" x2="1630.9" y2="1589.4" stroke="#000" stroke-width="2.6"/>
<circle cx="1651.7" cy="1499.1" r="5.9" fill="#d9d9d9" stroke="#1e1e1e" stroke-width="1.3"/>
<circle cx="1651.7" cy="1530.1" r="5.9" fill="#d9d9d9" stroke="#1e1e1e" stroke-width="1.3"/>
<circle cx="1651.7" cy="1543.0" r="5.9" fill="#d9d9d9" stroke="#1e1e1e" stroke-width="1.3"/>
<line x1="1651.7" y1="1501.9" x2="1651.7" y2="1547.1" stroke="#1a1a1a" stroke-width="1.4"/>
<line x1="1648.3" y1="1501.9" x2="1655.1" y2="1501.9" stroke="#1a1a1a" stroke-width="1.4"/>
<line x1="1648.3" y1="1547.1" x2="1655.1" y2="1547.1" stroke="#1a1a1a" stroke-width="1.4"/>
<line x1="1645.9" y1="1523.8" x2="1657.5" y2="1523.8" stroke="#000" stroke-width="2.6"/>
<circle cx="1667.6" cy="1558.1" r="5.9" fill="#1eb61e" stroke="#0a4a0a" stroke-width="1.3"/>
<circle cx="1667.6" cy="1620.6" r="5.9" fill="#1eb61e" stroke="#0a4a0a" stroke-width="1.3"/>
<circle cx="1667.6" cy="1651.9" r="5.9" fill="#1eb61e" stroke="#0a4a0a" stroke-width="1.3"/>
<line x1="1667.6" y1="1562.2" x2="1667.6" y2="1656.8" stroke="#1a1a1a" stroke-width="1.4"/>
<line x1="1664.2" y1="1562.2" x2="1671.0" y2="1562.2" stroke="#1a1a1a" stroke-width="1.4"/>
<line x1="1664.2" y1="1656.8" x2="1671.0" y2="1656.8" stroke="#1a1a1a" stroke-width="1.4"/>
<line x1="1661.8" y1="1609.9" x2="1673.4" y2="1609.9" stroke="#000" stroke-width="2.6"/>
<circle cx="1684.0" cy="1573.2" r="5.9" fill="#ea1a1a" stroke="#5a0808" stroke-width="1.3"/>
<circle cx="1684.0" cy="1580.0" r="5.9" fill="#ea1a1a" stroke="#5a0808" stroke-width="1.3"/>
<circle cx="1684.0" cy="1588.3" r="5.9" fill="#ea1a1a" stroke="#5a0808" stroke-width="1.3"/>
<line x1="1684.0" y1="1573.2" x2="1684.0" y2="1587.7" stroke="#1a1a1a" stroke-width="1.4"/>
<line x1="1680.6" y1="1573.2" x2="1687.4" y2="1573.2" stroke="#1a1a1a" stroke-width="1.4"/>
<line x1="1680.6" y1="1587.7" x2="1687.4" y2="1587.7" stroke="#1a1a1a" stroke-width="1.4"/>
<line x1="1678.2" y1="1580.0" x2="1689.8" y2="1580.0" stroke="#000" stroke-width="2.6"/>
<circle cx="1711.5" cy="1507.9" r="5.9" fill="#d9d9d9" stroke="#1e1e1e" stroke-width="1.3"/>
<circle cx="1711.5" cy="1512.3" r="5.9" fill="#d9d9d9" stroke="#1e1e1e" stroke-width="1.3"/>
<circle cx="1711.5" cy="1517.0" r="5.9" fill="#d9d9d9" stroke="#1e1e1e" stroke-width="1.3"/>
<line x1="1711.5" y1="1506.0" x2="1711.5" y2="1518.9" stroke="#1a1a1a" stroke-width="1.4"/>
<line x1="1708.1" y1="1506.0" x2="1714.9" y2="1506.0" stroke="#1a1a1a" stroke-width="1.4"/>
<line x1="1708.1" y1="1518.9" x2="1714.9" y2="1518.9" stroke="#1a1a1a" stroke-width="1.4"/>
<line x1="1705.7" y1="1512.3" x2="1717.3" y2="1512.3" stroke="#000" stroke-width="2.6"/>
<circle cx="1727.4" cy="1558.1" r="5.9" fill="#1eb61e" stroke="#0a4a0a" stroke-width="1.3"/>
<circle cx="1727.4" cy="1621.2" r="5.9" fill="#1eb61e" stroke="#0a4a0a" stroke-width="1.3"/>
<circle cx="1727.4" cy="1654.9" r="5.9" fill="#1eb61e" stroke="#0a4a0a" stroke-width="1.3"/>
<line x1="1727.4" y1="1563.6" x2="1727.4" y2="1659.6" stroke="#1a1a1a" stroke-width="1.4"/>
<line x1="1724.0" y1="1563.6" x2="1730.8" y2="1563.6" stroke="#1a1a1a" stroke-width="1.4"/>
<line x1="1724.0" y1="1659.6" x2="1730.8" y2="1659.6" stroke="#1a1a1a" stroke-width="1.4"/>
<line x1="1721.6" y1="1611.6" x2="1733.2" y2="1611.6" stroke="#000" stroke-width="2.6"/>
<circle cx="1743.5" cy="1570.4" r="5.9" fill="#ea1a1a" stroke="#5a0808" stroke-width="1.3"/>
<circle cx="1743.5" cy="1573.7" r="5.9" fill="#ea1a1a" stroke="#5a0808" stroke-width="1.3"/>
<circle cx="1743.5" cy="1576.7" r="5.9" fill="#ea1a1a" stroke="#5a0808" stroke-width="1.3"/>
<line x1="1743.5" y1="1570.4" x2="1743.5" y2="1577.0" stroke="#1a1a1a" stroke-width="1.4"/>
<line x1="1740.1" y1="1570.4" x2="1746.9" y2="1570.4" stroke="#1a1a1a" stroke-width="1.4"/>
<line x1="1740.1" y1="1577.0" x2="1746.9" y2="1577.0" stroke="#1a1a1a" stroke-width="1.4"/>
<line x1="1737.7" y1="1573.7" x2="1749.3" y2="1573.7" stroke="#000" stroke-width="2.6"/>
<polyline points="1533.8,1463.5 1533.8,1447.0 1562.8,1447.0 1562.8,1547.1" fill="none" stroke="#e02424" stroke-width="1.8"/>
<polyline points="1592.7,1456.6 1592.7,1448.4 1621.5,1448.4 1621.5,1554.0" fill="none" stroke="#e02424" stroke-width="1.8"/>
<polyline points="1651.1,1455.2 1651.1,1446.5 1680.7,1446.5 1680.7,1546.3" fill="none" stroke="#e02424" stroke-width="1.8"/>
<polyline points="1711.5,1456.6 1711.5,1448.4 1740.8,1448.4 1740.8,1547.9" fill="none" stroke="#e02424" stroke-width="1.8"/>
<polyline points="1591.3,1485.4 1591.3,1475.0 1609.2,1475.0 1609.2,1540.3" fill="none" stroke="#1fa050" stroke-width="1.8"/>
<polyline points="1649.8,1484.6 1649.8,1473.9 1668.1,1473.9 1668.1,1538.9" fill="none" stroke="#1fa050" stroke-width="1.8"/>
<polyline points="1707.6,1484.6 1707.6,1473.9 1725.2,1473.9 1725.2,1539.4" fill="none" stroke="#1fa050" stroke-width="1.8"/>
<text x="1548.8" y="1447.5" text-anchor="middle" font-size="25" stroke="#000" stroke-width="0.35">*</text>
<text x="1607.8" y="1447.5" text-anchor="middle" font-size="25" stroke="#000" stroke-width="0.35">*</text>
<text x="1666.2" y="1447.5" text-anchor="middle" font-size="25" stroke="#000" stroke-width="0.35">*</text>
<text x="1726.8" y="1447.5" text-anchor="middle" font-size="25" stroke="#000" stroke-width="0.35">*</text>
<text x="1598.2" y="1475.4" text-anchor="middle" font-size="25" stroke="#000" stroke-width="0.35">*</text>
<text x="1658.5" y="1475.4" text-anchor="middle" font-size="25" letter-spacing="0.9" stroke="#000" stroke-width="0.35">***</text>
<text x="1718.3" y="1475.4" text-anchor="middle" font-size="25" letter-spacing="0.9" stroke="#000" stroke-width="0.35">***</text>
<circle cx="1799.4" cy="1531.3" r="7.2" fill="#d9d9d9" stroke="#111" stroke-width="1.8"/>
<text x="1815.6" y="1535.4">organoid</text>
<circle cx="1799.4" cy="1571.8" r="7.2" fill="#27b765" stroke="#111" stroke-width="1.8"/>
<text x="1815.6" y="1574.9">co-culture organoid</text>
<circle cx="1799.4" cy="1630.7" r="7.2" fill="#f0141e" stroke="#111" stroke-width="1.8"/>
<text x="1817.4" y="1621.5">organoid +</text>
<text x="1817.4" y="1646.7">iMac conditioned</text>
<text x="1817.4" y="1671.6">medium</text>
<line x1="1805.4" y1="1699.8" x2="1805.4" y2="1707.8" stroke="#b4b4b4" stroke-width="1"/>
<polygon points="1796.2,1706.8 1814.7,1706.8 1805.4,1723.0" fill="#adadad"/>
<text x="1825.6" y="1715.6">+ fresh medium  /</text>
<text x="1825.6" y="1740.2">conditioned medium</text>
</g>
</svg>
</body></html>
